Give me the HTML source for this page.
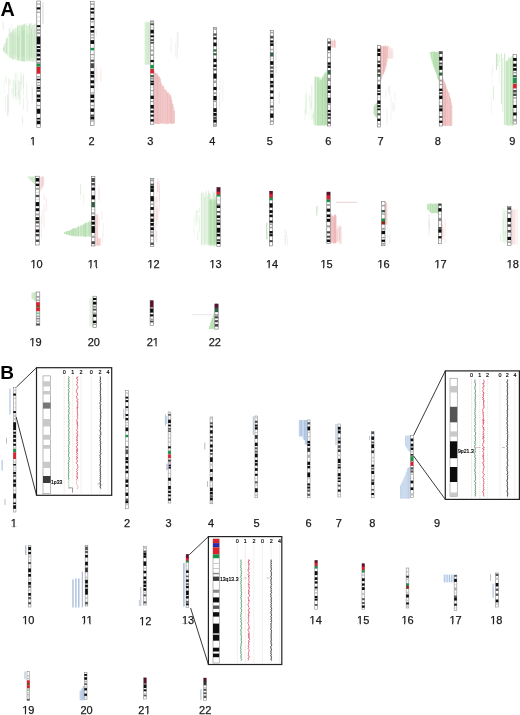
<!DOCTYPE html>
<html><head><meta charset="utf-8"><style>
html,body{margin:0;padding:0;background:#fff;width:520px;height:715px;overflow:hidden}
svg{display:block;filter:blur(0.35px)}
text{font-family:"Liberation Sans",sans-serif;fill:#1a1a1a}
.n{font-size:11px;stroke:#1a1a1a;stroke-width:0.25px}
.L{font-size:19px;font-weight:bold;fill:#000}
.s{font-size:5.4px;fill:#000;stroke:#000;stroke-width:0.15px}
.t{font-size:6.1px;fill:#000;stroke:#000;stroke-width:0.18px}
</style></head><body>
<svg width="520" height="715" viewBox="0 0 520 715">
<rect width="520" height="715" fill="#fff"/>
<line x1="3.5" x2="3.5" y1="47.36" y2="51.16" stroke="#9ed496" stroke-width="0.9" stroke-opacity="0.57"/>
<line x1="4.2" x2="4.2" y1="45.69" y2="52.02" stroke="#9ed496" stroke-width="0.9" stroke-opacity="0.41"/>
<line x1="4.9" x2="4.9" y1="43.13" y2="52.79" stroke="#9ed496" stroke-width="0.9" stroke-opacity="0.43"/>
<line x1="5.6" x2="5.6" y1="43.25" y2="54.19" stroke="#9ed496" stroke-width="0.9" stroke-opacity="0.29"/>
<line x1="6.3" x2="6.3" y1="39.43" y2="53.9" stroke="#9ed496" stroke-width="0.9" stroke-opacity="0.46"/>
<line x1="7" x2="7" y1="37.57" y2="54.42" stroke="#9ed496" stroke-width="0.9" stroke-opacity="0.58"/>
<line x1="7.7" x2="7.7" y1="37.7" y2="55.74" stroke="#9ed496" stroke-width="0.9" stroke-opacity="0.22"/>
<line x1="8.4" x2="8.4" y1="34.45" y2="56.51" stroke="#9ed496" stroke-width="0.9" stroke-opacity="0.18"/>
<line x1="9.1" x2="9.1" y1="33.92" y2="57.46" stroke="#9ed496" stroke-width="0.9" stroke-opacity="0.16"/>
<line x1="9.8" x2="9.8" y1="33.69" y2="57.69" stroke="#9ed496" stroke-width="0.9" stroke-opacity="0.53"/>
<line x1="10.5" x2="10.5" y1="32.81" y2="57.91" stroke="#9ed496" stroke-width="0.9" stroke-opacity="0.37"/>
<line x1="11.2" x2="11.2" y1="32.19" y2="58.71" stroke="#9ed496" stroke-width="0.9" stroke-opacity="0.28"/>
<line x1="11.9" x2="11.9" y1="32.14" y2="58.43" stroke="#9ed496" stroke-width="0.9" stroke-opacity="0.53"/>
<line x1="12.6" x2="12.6" y1="30.72" y2="59.64" stroke="#9ed496" stroke-width="0.9" stroke-opacity="0.25"/>
<line x1="13.3" x2="13.3" y1="29" y2="60.14" stroke="#9ed496" stroke-width="0.9" stroke-opacity="0.49"/>
<line x1="14" x2="14" y1="28.87" y2="59.11" stroke="#9ed496" stroke-width="0.9" stroke-opacity="0.32"/>
<line x1="14.7" x2="14.7" y1="30.07" y2="59.24" stroke="#9ed496" stroke-width="0.9" stroke-opacity="0.15"/>
<line x1="15.4" x2="15.4" y1="27.36" y2="59.27" stroke="#9ed496" stroke-width="0.9" stroke-opacity="0.36"/>
<line x1="16.1" x2="16.1" y1="29.21" y2="60.17" stroke="#9ed496" stroke-width="0.9" stroke-opacity="0.18"/>
<line x1="16.8" x2="16.8" y1="27.69" y2="59.73" stroke="#9ed496" stroke-width="0.9" stroke-opacity="0.27"/>
<line x1="17.5" x2="17.5" y1="25.59" y2="60.53" stroke="#9ed496" stroke-width="0.9" stroke-opacity="0.58"/>
<line x1="18.2" x2="18.2" y1="27.22" y2="60.99" stroke="#9ed496" stroke-width="0.9" stroke-opacity="0.26"/>
<line x1="18.9" x2="18.9" y1="25.05" y2="61.2" stroke="#9ed496" stroke-width="0.9" stroke-opacity="0.51"/>
<line x1="19.6" x2="19.6" y1="25.08" y2="60.59" stroke="#9ed496" stroke-width="0.9" stroke-opacity="0.35"/>
<line x1="20.3" x2="20.3" y1="24.91" y2="60.42" stroke="#9ed496" stroke-width="0.9" stroke-opacity="0.21"/>
<line x1="21" x2="21" y1="26.07" y2="61.39" stroke="#9ed496" stroke-width="0.9" stroke-opacity="0.34"/>
<line x1="21.7" x2="21.7" y1="24.58" y2="61.2" stroke="#9ed496" stroke-width="0.9" stroke-opacity="0.59"/>
<line x1="22.4" x2="22.4" y1="26.15" y2="61.19" stroke="#9ed496" stroke-width="0.9" stroke-opacity="0.55"/>
<line x1="23.1" x2="23.1" y1="24.17" y2="61.1" stroke="#9ed496" stroke-width="0.9" stroke-opacity="0.53"/>
<line x1="23.8" x2="23.8" y1="25.27" y2="61.58" stroke="#9ed496" stroke-width="0.9" stroke-opacity="0.6"/>
<line x1="24.5" x2="24.5" y1="23.78" y2="61.39" stroke="#9ed496" stroke-width="0.9" stroke-opacity="0.5"/>
<line x1="25.2" x2="25.2" y1="23.99" y2="61.37" stroke="#9ed496" stroke-width="0.9" stroke-opacity="0.18"/>
<line x1="25.9" x2="25.9" y1="23.27" y2="60.98" stroke="#9ed496" stroke-width="0.9" stroke-opacity="0.26"/>
<line x1="26.6" x2="26.6" y1="24.8" y2="61.34" stroke="#9ed496" stroke-width="0.9" stroke-opacity="0.35"/>
<line x1="27.3" x2="27.3" y1="25.88" y2="61.22" stroke="#9ed496" stroke-width="0.9" stroke-opacity="0.41"/>
<line x1="28" x2="28" y1="25.6" y2="61.71" stroke="#9ed496" stroke-width="0.9" stroke-opacity="0.22"/>
<line x1="28.7" x2="28.7" y1="25.73" y2="60.8" stroke="#9ed496" stroke-width="0.9" stroke-opacity="0.26"/>
<line x1="29.4" x2="29.4" y1="23.57" y2="60.96" stroke="#9ed496" stroke-width="0.9" stroke-opacity="0.57"/>
<line x1="30.1" x2="30.1" y1="23.59" y2="60.69" stroke="#9ed496" stroke-width="0.9" stroke-opacity="0.55"/>
<line x1="30.8" x2="30.8" y1="24.81" y2="61.52" stroke="#9ed496" stroke-width="0.9" stroke-opacity="0.2"/>
<line x1="31.5" x2="31.5" y1="23.12" y2="60.75" stroke="#9ed496" stroke-width="0.9" stroke-opacity="0.26"/>
<line x1="32.2" x2="32.2" y1="25.11" y2="61.85" stroke="#9ed496" stroke-width="0.9" stroke-opacity="0.52"/>
<line x1="32.9" x2="32.9" y1="24.79" y2="61.84" stroke="#9ed496" stroke-width="0.9" stroke-opacity="0.23"/>
<line x1="33.6" x2="33.6" y1="25.16" y2="62.22" stroke="#9ed496" stroke-width="0.9" stroke-opacity="0.25"/>
<line x1="34.3" x2="34.3" y1="24.68" y2="61.09" stroke="#9ed496" stroke-width="0.9" stroke-opacity="0.43"/>
<line x1="35" x2="35" y1="23.84" y2="61.03" stroke="#9ed496" stroke-width="0.9" stroke-opacity="0.24"/>
<line x1="35.7" x2="35.7" y1="23.05" y2="62.05" stroke="#9ed496" stroke-width="0.9" stroke-opacity="0.35"/>
<line x1="12" x2="12" y1="34.85" y2="55.03" stroke="#9ed496" stroke-width="1.0" stroke-opacity="0.28"/>
<line x1="13.3" x2="13.3" y1="32.53" y2="57.29" stroke="#9ed496" stroke-width="1.0" stroke-opacity="0.18"/>
<line x1="14.6" x2="14.6" y1="32.99" y2="55.22" stroke="#9ed496" stroke-width="1.0" stroke-opacity="0.29"/>
<line x1="15.9" x2="15.9" y1="34.63" y2="56.3" stroke="#9ed496" stroke-width="1.0" stroke-opacity="0.28"/>
<line x1="17.2" x2="17.2" y1="31.57" y2="56.98" stroke="#9ed496" stroke-width="1.0" stroke-opacity="0.11"/>
<line x1="18.5" x2="18.5" y1="35.81" y2="58.45" stroke="#9ed496" stroke-width="1.0" stroke-opacity="0.34"/>
<line x1="19.8" x2="19.8" y1="30.5" y2="56.89" stroke="#9ed496" stroke-width="1.0" stroke-opacity="0.17"/>
<line x1="21.1" x2="21.1" y1="32.29" y2="56.54" stroke="#9ed496" stroke-width="1.0" stroke-opacity="0.06"/>
<line x1="22.4" x2="22.4" y1="30.06" y2="56.4" stroke="#9ed496" stroke-width="1.0" stroke-opacity="0.23"/>
<line x1="23.7" x2="23.7" y1="30.08" y2="56.27" stroke="#9ed496" stroke-width="1.0" stroke-opacity="0.38"/>
<line x1="25" x2="25" y1="30.05" y2="58.04" stroke="#9ed496" stroke-width="1.0" stroke-opacity="0.1"/>
<line x1="26.3" x2="26.3" y1="31.09" y2="57.53" stroke="#9ed496" stroke-width="1.0" stroke-opacity="0.11"/>
<line x1="27.6" x2="27.6" y1="33.23" y2="59.32" stroke="#9ed496" stroke-width="1.0" stroke-opacity="0.11"/>
<line x1="28.9" x2="28.9" y1="33.78" y2="58.35" stroke="#9ed496" stroke-width="1.0" stroke-opacity="0.2"/>
<line x1="30.2" x2="30.2" y1="32.3" y2="58.21" stroke="#9ed496" stroke-width="1.0" stroke-opacity="0.18"/>
<line x1="31.5" x2="31.5" y1="28.75" y2="57.54" stroke="#9ed496" stroke-width="1.0" stroke-opacity="0.39"/>
<line x1="32.8" x2="32.8" y1="34.26" y2="57.81" stroke="#9ed496" stroke-width="1.0" stroke-opacity="0.17"/>
<line x1="34.1" x2="34.1" y1="30.42" y2="57.81" stroke="#9ed496" stroke-width="1.0" stroke-opacity="0.29"/>
<line x1="35.4" x2="35.4" y1="28.76" y2="59.26" stroke="#9ed496" stroke-width="1.0" stroke-opacity="0.18"/>
<line x1="21.12" x2="21.12" y1="76.22" y2="90.23" stroke="#cfe9cb" stroke-width="0.6" stroke-opacity="0.8"/>
<line x1="15.59" x2="15.59" y1="82.24" y2="96.24" stroke="#cfe9cb" stroke-width="0.6" stroke-opacity="0.8"/>
<line x1="15.28" x2="15.28" y1="73.05" y2="87.05" stroke="#cfe9cb" stroke-width="0.6" stroke-opacity="0.8"/>
<line x1="23.54" x2="23.54" y1="73.96" y2="87.96" stroke="#cfe9cb" stroke-width="0.6" stroke-opacity="0.8"/>
<line x1="23.34" x2="23.34" y1="75.47" y2="95.15" stroke="#cfe9cb" stroke-width="0.6" stroke-opacity="0.8"/>
<line x1="18.91" x2="18.91" y1="89.57" y2="100" stroke="#cfe9cb" stroke-width="0.6" stroke-opacity="0.8"/>
<line x1="26.7" x2="26.7" y1="83.11" y2="99.34" stroke="#cfe9cb" stroke-width="0.6" stroke-opacity="0.8"/>
<line x1="15.02" x2="15.02" y1="80.11" y2="96.04" stroke="#cfe9cb" stroke-width="0.6" stroke-opacity="0.8"/>
<line x1="3.73" x2="3.73" y1="22.94" y2="30.44" stroke="#dddddd" stroke-width="0.5" stroke-opacity="0.7"/>
<line x1="11.79" x2="11.79" y1="24.52" y2="34.54" stroke="#dddddd" stroke-width="0.5" stroke-opacity="0.7"/>
<line x1="9.67" x2="9.67" y1="29.31" y2="36.81" stroke="#dddddd" stroke-width="0.5" stroke-opacity="0.7"/>
<line x1="2.75" x2="2.75" y1="21.49" y2="28.99" stroke="#dddddd" stroke-width="0.5" stroke-opacity="0.7"/>
<line x1="10.16" x2="10.16" y1="27.85" y2="35.35" stroke="#dddddd" stroke-width="0.5" stroke-opacity="0.7"/>
<line x1="9.03" x2="9.03" y1="27.49" y2="34.99" stroke="#dddddd" stroke-width="0.5" stroke-opacity="0.7"/>
<line x1="145.2" x2="145.2" y1="22.02" y2="64.31" stroke="#9ed496" stroke-width="0.9" stroke-opacity="0.49"/>
<line x1="146" x2="146" y1="23.2" y2="64.81" stroke="#9ed496" stroke-width="0.9" stroke-opacity="0.33"/>
<line x1="146.8" x2="146.8" y1="21.79" y2="64.77" stroke="#9ed496" stroke-width="0.9" stroke-opacity="0.51"/>
<line x1="147.6" x2="147.6" y1="21.76" y2="64.47" stroke="#9ed496" stroke-width="0.9" stroke-opacity="0.32"/>
<line x1="148.4" x2="148.4" y1="22.09" y2="64.57" stroke="#9ed496" stroke-width="0.9" stroke-opacity="0.54"/>
<line x1="149.2" x2="149.2" y1="22.72" y2="64.99" stroke="#9ed496" stroke-width="0.9" stroke-opacity="0.35"/>
<line x1="150" x2="150" y1="21.79" y2="64.13" stroke="#9ed496" stroke-width="0.9" stroke-opacity="0.53"/>
<line x1="154.1" x2="154.1" y1="70.46" y2="123.5" stroke="#eba9a9" stroke-width="0.9" stroke-opacity="0.81"/>
<line x1="154.8" x2="154.8" y1="72.7" y2="123.93" stroke="#eba9a9" stroke-width="0.9" stroke-opacity="0.65"/>
<line x1="155.5" x2="155.5" y1="72.87" y2="123.54" stroke="#eba9a9" stroke-width="0.9" stroke-opacity="0.67"/>
<line x1="156.2" x2="156.2" y1="73.6" y2="123.8" stroke="#eba9a9" stroke-width="0.9" stroke-opacity="0.86"/>
<line x1="156.9" x2="156.9" y1="73.3" y2="123.98" stroke="#eba9a9" stroke-width="0.9" stroke-opacity="0.91"/>
<line x1="157.6" x2="157.6" y1="74.62" y2="123.94" stroke="#eba9a9" stroke-width="0.9" stroke-opacity="0.87"/>
<line x1="158.3" x2="158.3" y1="76" y2="124.05" stroke="#eba9a9" stroke-width="0.9" stroke-opacity="0.77"/>
<line x1="159" x2="159" y1="76.89" y2="124.04" stroke="#eba9a9" stroke-width="0.9" stroke-opacity="0.81"/>
<line x1="159.7" x2="159.7" y1="76.65" y2="123.86" stroke="#eba9a9" stroke-width="0.9" stroke-opacity="0.58"/>
<line x1="160.4" x2="160.4" y1="78.84" y2="123.22" stroke="#eba9a9" stroke-width="0.9" stroke-opacity="0.71"/>
<line x1="161.1" x2="161.1" y1="82.44" y2="123.76" stroke="#eba9a9" stroke-width="0.9" stroke-opacity="0.79"/>
<line x1="161.8" x2="161.8" y1="84.23" y2="123.51" stroke="#eba9a9" stroke-width="0.9" stroke-opacity="0.59"/>
<line x1="162.5" x2="162.5" y1="85.69" y2="123.57" stroke="#eba9a9" stroke-width="0.9" stroke-opacity="0.62"/>
<line x1="163.2" x2="163.2" y1="85.78" y2="123.33" stroke="#eba9a9" stroke-width="0.9" stroke-opacity="0.76"/>
<line x1="163.9" x2="163.9" y1="86.9" y2="123.75" stroke="#eba9a9" stroke-width="0.9" stroke-opacity="0.64"/>
<line x1="164.6" x2="164.6" y1="89.02" y2="123.7" stroke="#eba9a9" stroke-width="0.9" stroke-opacity="0.59"/>
<line x1="165.3" x2="165.3" y1="89.98" y2="124.11" stroke="#eba9a9" stroke-width="0.9" stroke-opacity="0.66"/>
<line x1="166" x2="166" y1="89.32" y2="123.46" stroke="#eba9a9" stroke-width="0.9" stroke-opacity="0.6"/>
<line x1="166.7" x2="166.7" y1="91.24" y2="124.11" stroke="#eba9a9" stroke-width="0.9" stroke-opacity="0.74"/>
<line x1="167.4" x2="167.4" y1="92.48" y2="123.67" stroke="#eba9a9" stroke-width="0.9" stroke-opacity="0.73"/>
<line x1="168.1" x2="168.1" y1="92.87" y2="123.76" stroke="#eba9a9" stroke-width="0.9" stroke-opacity="0.79"/>
<line x1="168.8" x2="168.8" y1="92.79" y2="123.73" stroke="#eba9a9" stroke-width="0.9" stroke-opacity="0.64"/>
<line x1="169.5" x2="169.5" y1="95.03" y2="123.26" stroke="#eba9a9" stroke-width="0.9" stroke-opacity="0.58"/>
<line x1="170.2" x2="170.2" y1="94.29" y2="123.5" stroke="#eba9a9" stroke-width="0.9" stroke-opacity="0.78"/>
<line x1="170.9" x2="170.9" y1="96.52" y2="123.5" stroke="#eba9a9" stroke-width="0.9" stroke-opacity="0.93"/>
<line x1="171.6" x2="171.6" y1="99.81" y2="123.85" stroke="#eba9a9" stroke-width="0.9" stroke-opacity="0.78"/>
<line x1="172.3" x2="172.3" y1="103.32" y2="123.94" stroke="#eba9a9" stroke-width="0.9" stroke-opacity="0.67"/>
<line x1="173" x2="173" y1="104.3" y2="123.57" stroke="#eba9a9" stroke-width="0.9" stroke-opacity="0.74"/>
<line x1="173.7" x2="173.7" y1="107.17" y2="123.81" stroke="#eba9a9" stroke-width="0.9" stroke-opacity="0.56"/>
<line x1="174.4" x2="174.4" y1="110.62" y2="123.22" stroke="#eba9a9" stroke-width="0.9" stroke-opacity="0.78"/>
<line x1="177.94" x2="177.94" y1="31.28" y2="48.56" stroke="#dddddd" stroke-width="0.5" stroke-opacity="0.8"/>
<line x1="175.74" x2="175.74" y1="41.96" y2="57.16" stroke="#dddddd" stroke-width="0.5" stroke-opacity="0.8"/>
<line x1="177.29" x2="177.29" y1="32.94" y2="59.25" stroke="#dddddd" stroke-width="0.5" stroke-opacity="0.8"/>
<line x1="171.18" x2="171.18" y1="37.89" y2="53.09" stroke="#dddddd" stroke-width="0.5" stroke-opacity="0.8"/>
<line x1="331" x2="331" y1="40.83" y2="47.99" stroke="#eba9a9" stroke-width="0.9" stroke-opacity="0.59"/>
<line x1="331.7" x2="331.7" y1="39.22" y2="47.01" stroke="#eba9a9" stroke-width="0.9" stroke-opacity="0.31"/>
<line x1="332.4" x2="332.4" y1="40.66" y2="47.32" stroke="#eba9a9" stroke-width="0.9" stroke-opacity="0.64"/>
<line x1="333.1" x2="333.1" y1="40.9" y2="47.76" stroke="#eba9a9" stroke-width="0.9" stroke-opacity="0.44"/>
<line x1="333.8" x2="333.8" y1="40.32" y2="47.72" stroke="#eba9a9" stroke-width="0.9" stroke-opacity="0.41"/>
<line x1="334.5" x2="334.5" y1="39.36" y2="47.14" stroke="#eba9a9" stroke-width="0.9" stroke-opacity="0.65"/>
<line x1="335.2" x2="335.2" y1="40.5" y2="47.78" stroke="#eba9a9" stroke-width="0.9" stroke-opacity="0.67"/>
<line x1="314.8" x2="314.8" y1="76.9" y2="125.4" stroke="#9ed496" stroke-width="0.9" stroke-opacity="0.51"/>
<line x1="315.5" x2="315.5" y1="76.93" y2="125.49" stroke="#9ed496" stroke-width="0.9" stroke-opacity="0.63"/>
<line x1="316.2" x2="316.2" y1="76.27" y2="125.21" stroke="#9ed496" stroke-width="0.9" stroke-opacity="0.31"/>
<line x1="316.9" x2="316.9" y1="76.19" y2="125.58" stroke="#9ed496" stroke-width="0.9" stroke-opacity="0.37"/>
<line x1="317.6" x2="317.6" y1="77.1" y2="125.61" stroke="#9ed496" stroke-width="0.9" stroke-opacity="0.69"/>
<line x1="318.3" x2="318.3" y1="77.44" y2="125.68" stroke="#9ed496" stroke-width="0.9" stroke-opacity="0.75"/>
<line x1="319" x2="319" y1="77.62" y2="125.17" stroke="#9ed496" stroke-width="0.9" stroke-opacity="0.31"/>
<line x1="319.7" x2="319.7" y1="77.58" y2="125.22" stroke="#9ed496" stroke-width="0.9" stroke-opacity="0.45"/>
<line x1="320.4" x2="320.4" y1="77.84" y2="125.61" stroke="#9ed496" stroke-width="0.9" stroke-opacity="0.43"/>
<line x1="321.1" x2="321.1" y1="79.84" y2="125.57" stroke="#9ed496" stroke-width="0.9" stroke-opacity="0.51"/>
<line x1="321.8" x2="321.8" y1="78.54" y2="124.81" stroke="#9ed496" stroke-width="0.9" stroke-opacity="0.45"/>
<line x1="322.5" x2="322.5" y1="76.11" y2="124.78" stroke="#9ed496" stroke-width="0.9" stroke-opacity="0.72"/>
<line x1="323.2" x2="323.2" y1="77.04" y2="125.35" stroke="#9ed496" stroke-width="0.9" stroke-opacity="0.42"/>
<line x1="323.9" x2="323.9" y1="74.52" y2="125.62" stroke="#9ed496" stroke-width="0.9" stroke-opacity="0.53"/>
<line x1="324.6" x2="324.6" y1="73.19" y2="125.13" stroke="#9ed496" stroke-width="0.9" stroke-opacity="0.66"/>
<line x1="325.3" x2="325.3" y1="71.93" y2="124.95" stroke="#9ed496" stroke-width="0.9" stroke-opacity="0.55"/>
<line x1="326" x2="326" y1="73.06" y2="125.41" stroke="#9ed496" stroke-width="0.9" stroke-opacity="0.7"/>
<line x1="326.7" x2="326.7" y1="70.77" y2="125.23" stroke="#9ed496" stroke-width="0.9" stroke-opacity="0.55"/>
<line x1="327.4" x2="327.4" y1="68.56" y2="125.82" stroke="#9ed496" stroke-width="0.9" stroke-opacity="0.42"/>
<line x1="319" x2="319" y1="82.45" y2="125.93" stroke="#9ed496" stroke-width="0.9" stroke-opacity="0.42"/>
<line x1="320" x2="320" y1="80.26" y2="124.82" stroke="#9ed496" stroke-width="0.9" stroke-opacity="0.32"/>
<line x1="321" x2="321" y1="80.39" y2="125.8" stroke="#9ed496" stroke-width="0.9" stroke-opacity="0.5"/>
<line x1="322" x2="322" y1="78.18" y2="125.77" stroke="#9ed496" stroke-width="0.9" stroke-opacity="0.3"/>
<line x1="323" x2="323" y1="77.77" y2="125.96" stroke="#9ed496" stroke-width="0.9" stroke-opacity="0.32"/>
<line x1="324" x2="324" y1="75.27" y2="125.91" stroke="#9ed496" stroke-width="0.9" stroke-opacity="0.25"/>
<line x1="325" x2="325" y1="74.86" y2="125.66" stroke="#9ed496" stroke-width="0.9" stroke-opacity="0.43"/>
<line x1="326" x2="326" y1="74.37" y2="124.93" stroke="#9ed496" stroke-width="0.9" stroke-opacity="0.47"/>
<line x1="327" x2="327" y1="74.62" y2="124.82" stroke="#9ed496" stroke-width="0.9" stroke-opacity="0.37"/>
<line x1="310.06" x2="310.06" y1="96.18" y2="109.67" stroke="#cfe9cb" stroke-width="0.6" stroke-opacity="0.8"/>
<line x1="313.68" x2="313.68" y1="112.19" y2="124.19" stroke="#cfe9cb" stroke-width="0.6" stroke-opacity="0.8"/>
<line x1="315.13" x2="315.13" y1="104.41" y2="116.41" stroke="#cfe9cb" stroke-width="0.6" stroke-opacity="0.8"/>
<line x1="313.16" x2="313.16" y1="108.69" y2="120.69" stroke="#cfe9cb" stroke-width="0.6" stroke-opacity="0.8"/>
<line x1="314.88" x2="314.88" y1="109.22" y2="123.34" stroke="#cfe9cb" stroke-width="0.6" stroke-opacity="0.8"/>
<line x1="380.7" x2="380.7" y1="46.12" y2="81.6" stroke="#eba9a9" stroke-width="0.9" stroke-opacity="0.93"/>
<line x1="381.4" x2="381.4" y1="45.89" y2="78.92" stroke="#eba9a9" stroke-width="0.9" stroke-opacity="0.83"/>
<line x1="382.1" x2="382.1" y1="46.26" y2="76.74" stroke="#eba9a9" stroke-width="0.9" stroke-opacity="0.56"/>
<line x1="382.8" x2="382.8" y1="45.98" y2="75.03" stroke="#eba9a9" stroke-width="0.9" stroke-opacity="0.65"/>
<line x1="383.5" x2="383.5" y1="46.1" y2="73.84" stroke="#eba9a9" stroke-width="0.9" stroke-opacity="0.89"/>
<line x1="384.2" x2="384.2" y1="46.55" y2="72.4" stroke="#eba9a9" stroke-width="0.9" stroke-opacity="0.95"/>
<line x1="384.9" x2="384.9" y1="45.66" y2="70.19" stroke="#eba9a9" stroke-width="0.9" stroke-opacity="0.9"/>
<line x1="385.6" x2="385.6" y1="45.75" y2="67.8" stroke="#eba9a9" stroke-width="0.9" stroke-opacity="0.77"/>
<line x1="386.3" x2="386.3" y1="46.56" y2="65.59" stroke="#eba9a9" stroke-width="0.9" stroke-opacity="0.77"/>
<line x1="387" x2="387" y1="46.48" y2="62.01" stroke="#eba9a9" stroke-width="0.9" stroke-opacity="0.67"/>
<line x1="387.7" x2="387.7" y1="45.68" y2="58.13" stroke="#eba9a9" stroke-width="0.9" stroke-opacity="0.74"/>
<line x1="373.8" x2="373.8" y1="106.24" y2="113.75" stroke="#9ed496" stroke-width="0.9" stroke-opacity="0.46"/>
<line x1="374.5" x2="374.5" y1="105.59" y2="115.12" stroke="#9ed496" stroke-width="0.9" stroke-opacity="0.62"/>
<line x1="375.2" x2="375.2" y1="104.46" y2="116.27" stroke="#9ed496" stroke-width="0.9" stroke-opacity="0.79"/>
<line x1="375.9" x2="375.9" y1="103.5" y2="116.96" stroke="#9ed496" stroke-width="0.9" stroke-opacity="0.65"/>
<line x1="376.6" x2="376.6" y1="102.94" y2="117.47" stroke="#9ed496" stroke-width="0.9" stroke-opacity="0.8"/>
<line x1="388" x2="388" y1="46.33" y2="58.68" stroke="#eba9a9" stroke-width="0.9" stroke-opacity="0.28"/>
<line x1="388.8" x2="388.8" y1="46.39" y2="59.02" stroke="#eba9a9" stroke-width="0.9" stroke-opacity="0.32"/>
<line x1="389.6" x2="389.6" y1="47.52" y2="59.08" stroke="#eba9a9" stroke-width="0.9" stroke-opacity="0.27"/>
<line x1="390.4" x2="390.4" y1="46.62" y2="58.62" stroke="#eba9a9" stroke-width="0.9" stroke-opacity="0.28"/>
<line x1="391.2" x2="391.2" y1="48.3" y2="58.43" stroke="#eba9a9" stroke-width="0.9" stroke-opacity="0.42"/>
<line x1="392" x2="392" y1="49.38" y2="59.53" stroke="#eba9a9" stroke-width="0.9" stroke-opacity="0.26"/>
<line x1="392.8" x2="392.8" y1="48.54" y2="58.85" stroke="#eba9a9" stroke-width="0.9" stroke-opacity="0.25"/>
<line x1="430.1" x2="430.1" y1="51.92" y2="54.09" stroke="#9ed496" stroke-width="0.9" stroke-opacity="0.66"/>
<line x1="430.8" x2="430.8" y1="52.4" y2="57.04" stroke="#9ed496" stroke-width="0.9" stroke-opacity="0.56"/>
<line x1="431.5" x2="431.5" y1="51.66" y2="59.67" stroke="#9ed496" stroke-width="0.9" stroke-opacity="0.63"/>
<line x1="432.2" x2="432.2" y1="51.67" y2="62.27" stroke="#9ed496" stroke-width="0.9" stroke-opacity="0.63"/>
<line x1="432.9" x2="432.9" y1="51.71" y2="64.56" stroke="#9ed496" stroke-width="0.9" stroke-opacity="0.58"/>
<line x1="433.6" x2="433.6" y1="51.47" y2="66.66" stroke="#9ed496" stroke-width="0.9" stroke-opacity="0.72"/>
<line x1="434.3" x2="434.3" y1="51.79" y2="68.21" stroke="#9ed496" stroke-width="0.9" stroke-opacity="0.82"/>
<line x1="435" x2="435" y1="51.81" y2="70.35" stroke="#9ed496" stroke-width="0.9" stroke-opacity="0.79"/>
<line x1="435.7" x2="435.7" y1="52.16" y2="72.02" stroke="#9ed496" stroke-width="0.9" stroke-opacity="0.76"/>
<line x1="436.4" x2="436.4" y1="51.7" y2="73.94" stroke="#9ed496" stroke-width="0.9" stroke-opacity="0.83"/>
<line x1="437.1" x2="437.1" y1="52.19" y2="76.37" stroke="#9ed496" stroke-width="0.9" stroke-opacity="0.59"/>
<line x1="437.8" x2="437.8" y1="51.95" y2="78.93" stroke="#9ed496" stroke-width="0.9" stroke-opacity="0.82"/>
<line x1="438.5" x2="438.5" y1="51.79" y2="79.93" stroke="#9ed496" stroke-width="0.9" stroke-opacity="0.75"/>
<line x1="442.7" x2="442.7" y1="77.71" y2="125.66" stroke="#eba9a9" stroke-width="0.9" stroke-opacity="0.86"/>
<line x1="443.4" x2="443.4" y1="79.43" y2="125.87" stroke="#eba9a9" stroke-width="0.9" stroke-opacity="0.8"/>
<line x1="444.1" x2="444.1" y1="81.2" y2="125.56" stroke="#eba9a9" stroke-width="0.9" stroke-opacity="0.78"/>
<line x1="444.8" x2="444.8" y1="82.57" y2="125.79" stroke="#eba9a9" stroke-width="0.9" stroke-opacity="0.95"/>
<line x1="445.5" x2="445.5" y1="84.6" y2="125.84" stroke="#eba9a9" stroke-width="0.9" stroke-opacity="0.93"/>
<line x1="446.2" x2="446.2" y1="86.92" y2="125.9" stroke="#eba9a9" stroke-width="0.9" stroke-opacity="0.68"/>
<line x1="446.9" x2="446.9" y1="89.01" y2="125.83" stroke="#eba9a9" stroke-width="0.9" stroke-opacity="0.72"/>
<line x1="447.6" x2="447.6" y1="90.36" y2="125.6" stroke="#eba9a9" stroke-width="0.9" stroke-opacity="0.75"/>
<line x1="448.3" x2="448.3" y1="91.45" y2="125.71" stroke="#eba9a9" stroke-width="0.9" stroke-opacity="0.56"/>
<line x1="449" x2="449" y1="93.09" y2="125.9" stroke="#eba9a9" stroke-width="0.9" stroke-opacity="0.83"/>
<line x1="449.7" x2="449.7" y1="95.73" y2="125.65" stroke="#eba9a9" stroke-width="0.9" stroke-opacity="0.62"/>
<line x1="450.4" x2="450.4" y1="98.02" y2="125.99" stroke="#eba9a9" stroke-width="0.9" stroke-opacity="0.83"/>
<line x1="451.1" x2="451.1" y1="101.46" y2="125.89" stroke="#eba9a9" stroke-width="0.9" stroke-opacity="0.65"/>
<line x1="451.8" x2="451.8" y1="104.81" y2="125.68" stroke="#eba9a9" stroke-width="0.9" stroke-opacity="0.67"/>
<line x1="506" x2="506" y1="60.66" y2="124.62" stroke="#9ed496" stroke-width="0.9" stroke-opacity="0.57"/>
<line x1="506.75" x2="506.75" y1="60.92" y2="125.57" stroke="#9ed496" stroke-width="0.9" stroke-opacity="0.63"/>
<line x1="507.5" x2="507.5" y1="61.23" y2="124.98" stroke="#9ed496" stroke-width="0.9" stroke-opacity="0.53"/>
<line x1="508.25" x2="508.25" y1="57.94" y2="125.99" stroke="#9ed496" stroke-width="0.9" stroke-opacity="0.48"/>
<line x1="509" x2="509" y1="58.34" y2="125.86" stroke="#9ed496" stroke-width="0.9" stroke-opacity="0.63"/>
<line x1="509.75" x2="509.75" y1="56.54" y2="125.53" stroke="#9ed496" stroke-width="0.9" stroke-opacity="0.36"/>
<line x1="510.5" x2="510.5" y1="59.22" y2="124.52" stroke="#9ed496" stroke-width="0.9" stroke-opacity="0.66"/>
<line x1="511.25" x2="511.25" y1="57.31" y2="125.93" stroke="#9ed496" stroke-width="0.9" stroke-opacity="0.47"/>
<line x1="512" x2="512" y1="56.45" y2="125.77" stroke="#9ed496" stroke-width="0.9" stroke-opacity="0.68"/>
<line x1="512.75" x2="512.75" y1="55.55" y2="125.69" stroke="#9ed496" stroke-width="0.9" stroke-opacity="0.64"/>
<line x1="496.5" x2="496.5" y1="53.5" y2="70" stroke="#9ed496" stroke-width="1.1" stroke-opacity="0.55"/>
<line x1="497.8" x2="497.8" y1="53.5" y2="66" stroke="#9ed496" stroke-width="1.1" stroke-opacity="0.45"/>
<line x1="501.4" x2="501.4" y1="53.5" y2="104" stroke="#9ed496" stroke-width="1.1" stroke-opacity="0.45"/>
<line x1="502.8" x2="502.8" y1="58" y2="112" stroke="#9ed496" stroke-width="1.1" stroke-opacity="0.35"/>
<line x1="504.6" x2="504.6" y1="53.5" y2="125" stroke="#9ed496" stroke-width="1.1" stroke-opacity="0.5"/>
<line x1="493.4" x2="493.4" y1="86.5" y2="99.8" stroke="#9ed496" stroke-width="1.1" stroke-opacity="0.35"/>
<line x1="499.5" x2="499.5" y1="55" y2="62" stroke="#9ed496" stroke-width="1.1" stroke-opacity="0.3"/>
<line x1="27.6" x2="27.6" y1="176.65" y2="177.27" stroke="#9ed496" stroke-width="0.9" stroke-opacity="0.51"/>
<line x1="28.3" x2="28.3" y1="176.41" y2="177.95" stroke="#9ed496" stroke-width="0.9" stroke-opacity="0.35"/>
<line x1="29" x2="29" y1="176.3" y2="178.76" stroke="#9ed496" stroke-width="0.9" stroke-opacity="0.38"/>
<line x1="29.7" x2="29.7" y1="176.43" y2="179.66" stroke="#9ed496" stroke-width="0.9" stroke-opacity="0.33"/>
<line x1="30.4" x2="30.4" y1="176.56" y2="180.26" stroke="#9ed496" stroke-width="0.9" stroke-opacity="0.48"/>
<line x1="31.1" x2="31.1" y1="176.57" y2="180.91" stroke="#9ed496" stroke-width="0.9" stroke-opacity="0.32"/>
<line x1="31.8" x2="31.8" y1="176.59" y2="181.49" stroke="#9ed496" stroke-width="0.9" stroke-opacity="0.53"/>
<line x1="32.5" x2="32.5" y1="176.51" y2="182.03" stroke="#9ed496" stroke-width="0.9" stroke-opacity="0.43"/>
<line x1="33.2" x2="33.2" y1="176.58" y2="182.82" stroke="#9ed496" stroke-width="0.9" stroke-opacity="0.5"/>
<line x1="33.9" x2="33.9" y1="176.53" y2="183.47" stroke="#9ed496" stroke-width="0.9" stroke-opacity="0.33"/>
<line x1="34.6" x2="34.6" y1="176.44" y2="184" stroke="#9ed496" stroke-width="0.9" stroke-opacity="0.51"/>
<line x1="35.3" x2="35.3" y1="176.42" y2="184.66" stroke="#9ed496" stroke-width="0.9" stroke-opacity="0.36"/>
<line x1="39.5" x2="39.5" y1="176.91" y2="191.58" stroke="#eba9a9" stroke-width="0.9" stroke-opacity="0.25"/>
<line x1="40.2" x2="40.2" y1="177.2" y2="191.55" stroke="#eba9a9" stroke-width="0.9" stroke-opacity="0.4"/>
<line x1="40.9" x2="40.9" y1="176.29" y2="190.05" stroke="#eba9a9" stroke-width="0.9" stroke-opacity="0.25"/>
<line x1="41.6" x2="41.6" y1="176.91" y2="188.84" stroke="#eba9a9" stroke-width="0.9" stroke-opacity="0.43"/>
<line x1="42.3" x2="42.3" y1="176.64" y2="187.54" stroke="#eba9a9" stroke-width="0.9" stroke-opacity="0.5"/>
<line x1="43" x2="43" y1="176.32" y2="186.49" stroke="#eba9a9" stroke-width="0.9" stroke-opacity="0.49"/>
<line x1="43.7" x2="43.7" y1="176.94" y2="185.3" stroke="#eba9a9" stroke-width="0.9" stroke-opacity="0.29"/>
<line x1="64.5" x2="64.5" y1="232.57" y2="233.8" stroke="#9ed496" stroke-width="0.9" stroke-opacity="0.77"/>
<line x1="65.2" x2="65.2" y1="231.99" y2="233.98" stroke="#9ed496" stroke-width="0.9" stroke-opacity="0.67"/>
<line x1="65.9" x2="65.9" y1="231.4" y2="234.05" stroke="#9ed496" stroke-width="0.9" stroke-opacity="0.48"/>
<line x1="66.6" x2="66.6" y1="231.46" y2="234.58" stroke="#9ed496" stroke-width="0.9" stroke-opacity="0.64"/>
<line x1="67.3" x2="67.3" y1="230.85" y2="234.52" stroke="#9ed496" stroke-width="0.9" stroke-opacity="0.77"/>
<line x1="68" x2="68" y1="231.1" y2="234.57" stroke="#9ed496" stroke-width="0.9" stroke-opacity="0.66"/>
<line x1="68.7" x2="68.7" y1="231.24" y2="235.16" stroke="#9ed496" stroke-width="0.9" stroke-opacity="0.53"/>
<line x1="69.4" x2="69.4" y1="230.43" y2="235.36" stroke="#9ed496" stroke-width="0.9" stroke-opacity="0.84"/>
<line x1="70.1" x2="70.1" y1="230.4" y2="235.49" stroke="#9ed496" stroke-width="0.9" stroke-opacity="0.64"/>
<line x1="70.8" x2="70.8" y1="229.79" y2="235.56" stroke="#9ed496" stroke-width="0.9" stroke-opacity="0.43"/>
<line x1="71.5" x2="71.5" y1="229.58" y2="235.78" stroke="#9ed496" stroke-width="0.9" stroke-opacity="0.63"/>
<line x1="72.2" x2="72.2" y1="229.39" y2="235.87" stroke="#9ed496" stroke-width="0.9" stroke-opacity="0.79"/>
<line x1="72.9" x2="72.9" y1="228.4" y2="235.97" stroke="#9ed496" stroke-width="0.9" stroke-opacity="0.76"/>
<line x1="73.6" x2="73.6" y1="228.39" y2="235.92" stroke="#9ed496" stroke-width="0.9" stroke-opacity="0.63"/>
<line x1="74.3" x2="74.3" y1="228.44" y2="236" stroke="#9ed496" stroke-width="0.9" stroke-opacity="0.6"/>
<line x1="75" x2="75" y1="228.23" y2="236.46" stroke="#9ed496" stroke-width="0.9" stroke-opacity="0.76"/>
<line x1="75.7" x2="75.7" y1="227.66" y2="236.49" stroke="#9ed496" stroke-width="0.9" stroke-opacity="0.55"/>
<line x1="76.4" x2="76.4" y1="228.18" y2="236.07" stroke="#9ed496" stroke-width="0.9" stroke-opacity="0.58"/>
<line x1="77.1" x2="77.1" y1="227.4" y2="236.4" stroke="#9ed496" stroke-width="0.9" stroke-opacity="0.66"/>
<line x1="77.8" x2="77.8" y1="226.88" y2="236.54" stroke="#9ed496" stroke-width="0.9" stroke-opacity="0.42"/>
<line x1="78.5" x2="78.5" y1="226.15" y2="236.09" stroke="#9ed496" stroke-width="0.9" stroke-opacity="0.79"/>
<line x1="79.2" x2="79.2" y1="226.79" y2="236.46" stroke="#9ed496" stroke-width="0.9" stroke-opacity="0.42"/>
<line x1="79.9" x2="79.9" y1="226.74" y2="236.37" stroke="#9ed496" stroke-width="0.9" stroke-opacity="0.43"/>
<line x1="80.6" x2="80.6" y1="225.83" y2="236.21" stroke="#9ed496" stroke-width="0.9" stroke-opacity="0.62"/>
<line x1="81.3" x2="81.3" y1="225.3" y2="236.47" stroke="#9ed496" stroke-width="0.9" stroke-opacity="0.6"/>
<line x1="82" x2="82" y1="224.96" y2="236.2" stroke="#9ed496" stroke-width="0.9" stroke-opacity="0.57"/>
<line x1="82.7" x2="82.7" y1="224.46" y2="236" stroke="#9ed496" stroke-width="0.9" stroke-opacity="0.41"/>
<line x1="83.4" x2="83.4" y1="224.72" y2="236.44" stroke="#9ed496" stroke-width="0.9" stroke-opacity="0.75"/>
<line x1="84.1" x2="84.1" y1="224.3" y2="236.35" stroke="#9ed496" stroke-width="0.9" stroke-opacity="0.66"/>
<line x1="84.8" x2="84.8" y1="223.24" y2="236.79" stroke="#9ed496" stroke-width="0.9" stroke-opacity="0.72"/>
<line x1="85.5" x2="85.5" y1="222.94" y2="236.74" stroke="#9ed496" stroke-width="0.9" stroke-opacity="0.76"/>
<line x1="86.2" x2="86.2" y1="223.12" y2="236.82" stroke="#9ed496" stroke-width="0.9" stroke-opacity="0.61"/>
<line x1="86.9" x2="86.9" y1="222.26" y2="236.22" stroke="#9ed496" stroke-width="0.9" stroke-opacity="0.49"/>
<line x1="87.6" x2="87.6" y1="223.2" y2="236.43" stroke="#9ed496" stroke-width="0.9" stroke-opacity="0.39"/>
<line x1="88.3" x2="88.3" y1="222.18" y2="236.18" stroke="#9ed496" stroke-width="0.9" stroke-opacity="0.7"/>
<line x1="89" x2="89" y1="221.57" y2="236.65" stroke="#9ed496" stroke-width="0.9" stroke-opacity="0.49"/>
<line x1="89.7" x2="89.7" y1="221.25" y2="236.51" stroke="#9ed496" stroke-width="0.9" stroke-opacity="0.7"/>
<line x1="90.4" x2="90.4" y1="221.21" y2="236.56" stroke="#9ed496" stroke-width="0.9" stroke-opacity="0.78"/>
<line x1="91.1" x2="91.1" y1="222" y2="236.87" stroke="#9ed496" stroke-width="0.9" stroke-opacity="0.39"/>
<line x1="95.2" x2="95.2" y1="214.74" y2="245.7" stroke="#eba9a9" stroke-width="0.9" stroke-opacity="0.28"/>
<line x1="96" x2="96" y1="214.3" y2="245.91" stroke="#eba9a9" stroke-width="0.9" stroke-opacity="0.51"/>
<line x1="96.8" x2="96.8" y1="214.79" y2="245.94" stroke="#eba9a9" stroke-width="0.9" stroke-opacity="0.47"/>
<line x1="97.6" x2="97.6" y1="214.01" y2="245.05" stroke="#eba9a9" stroke-width="0.9" stroke-opacity="0.58"/>
<line x1="98" x2="98" y1="238.65" y2="245.65" stroke="#eba9a9" stroke-width="0.9" stroke-opacity="0.58"/>
<line x1="98.8" x2="98.8" y1="238.2" y2="245.97" stroke="#eba9a9" stroke-width="0.9" stroke-opacity="0.53"/>
<line x1="99.6" x2="99.6" y1="238.33" y2="245.81" stroke="#eba9a9" stroke-width="0.9" stroke-opacity="0.53"/>
<line x1="100.4" x2="100.4" y1="238.18" y2="245.55" stroke="#eba9a9" stroke-width="0.9" stroke-opacity="0.4"/>
<line x1="154.2" x2="154.2" y1="196.68" y2="220.61" stroke="#eba9a9" stroke-width="0.8" stroke-opacity="0.31"/>
<line x1="155.1" x2="155.1" y1="197.07" y2="220.6" stroke="#eba9a9" stroke-width="0.8" stroke-opacity="0.26"/>
<line x1="156" x2="156" y1="198.51" y2="220.36" stroke="#eba9a9" stroke-width="0.8" stroke-opacity="0.24"/>
<line x1="156.9" x2="156.9" y1="201.05" y2="220.61" stroke="#eba9a9" stroke-width="0.8" stroke-opacity="0.17"/>
<line x1="157.8" x2="157.8" y1="196.17" y2="220.28" stroke="#eba9a9" stroke-width="0.8" stroke-opacity="0.13"/>
<line x1="201.4" x2="201.4" y1="193.38" y2="245.12" stroke="#9ed496" stroke-width="0.9" stroke-opacity="0.45"/>
<line x1="202.2" x2="202.2" y1="191.31" y2="244.46" stroke="#9ed496" stroke-width="0.9" stroke-opacity="0.27"/>
<line x1="203" x2="203" y1="192.32" y2="242.6" stroke="#9ed496" stroke-width="0.9" stroke-opacity="0.19"/>
<line x1="203.8" x2="203.8" y1="192.56" y2="245.6" stroke="#9ed496" stroke-width="0.9" stroke-opacity="0.27"/>
<line x1="204.6" x2="204.6" y1="196.99" y2="245.18" stroke="#9ed496" stroke-width="0.9" stroke-opacity="0.36"/>
<line x1="205.4" x2="205.4" y1="192.36" y2="243.58" stroke="#9ed496" stroke-width="0.9" stroke-opacity="0.31"/>
<line x1="206.2" x2="206.2" y1="190.36" y2="244.76" stroke="#9ed496" stroke-width="0.9" stroke-opacity="0.29"/>
<line x1="207" x2="207" y1="195.34" y2="244.25" stroke="#9ed496" stroke-width="0.9" stroke-opacity="0.22"/>
<line x1="207.8" x2="207.8" y1="194.39" y2="245.31" stroke="#9ed496" stroke-width="0.9" stroke-opacity="0.33"/>
<line x1="208.6" x2="208.6" y1="190.76" y2="244.86" stroke="#9ed496" stroke-width="0.9" stroke-opacity="0.43"/>
<line x1="209.4" x2="209.4" y1="193.13" y2="243.49" stroke="#9ed496" stroke-width="0.9" stroke-opacity="0.41"/>
<line x1="210.2" x2="210.2" y1="193.7" y2="243.92" stroke="#9ed496" stroke-width="0.9" stroke-opacity="0.29"/>
<line x1="211" x2="211" y1="193.94" y2="243.39" stroke="#9ed496" stroke-width="0.9" stroke-opacity="0.18"/>
<line x1="211.8" x2="211.8" y1="196.5" y2="245.03" stroke="#9ed496" stroke-width="0.9" stroke-opacity="0.2"/>
<line x1="212.6" x2="212.6" y1="190.2" y2="245.14" stroke="#9ed496" stroke-width="0.9" stroke-opacity="0.17"/>
<line x1="213.4" x2="213.4" y1="192.18" y2="244.84" stroke="#9ed496" stroke-width="0.9" stroke-opacity="0.38"/>
<line x1="214.2" x2="214.2" y1="192.73" y2="242.76" stroke="#9ed496" stroke-width="0.9" stroke-opacity="0.38"/>
<line x1="215" x2="215" y1="191.57" y2="243" stroke="#9ed496" stroke-width="0.9" stroke-opacity="0.39"/>
<line x1="215.8" x2="215.8" y1="196.74" y2="243.56" stroke="#9ed496" stroke-width="0.9" stroke-opacity="0.49"/>
<line x1="209" x2="209" y1="199.62" y2="246.07" stroke="#9ed496" stroke-width="0.9" stroke-opacity="0.31"/>
<line x1="209.8" x2="209.8" y1="199.96" y2="246.18" stroke="#9ed496" stroke-width="0.9" stroke-opacity="0.4"/>
<line x1="210.6" x2="210.6" y1="199.19" y2="245.54" stroke="#9ed496" stroke-width="0.9" stroke-opacity="0.7"/>
<line x1="211.4" x2="211.4" y1="199.38" y2="245.01" stroke="#9ed496" stroke-width="0.9" stroke-opacity="0.7"/>
<line x1="212.2" x2="212.2" y1="198.73" y2="246.39" stroke="#9ed496" stroke-width="0.9" stroke-opacity="0.36"/>
<line x1="213" x2="213" y1="200.53" y2="245.6" stroke="#9ed496" stroke-width="0.9" stroke-opacity="0.67"/>
<line x1="213.8" x2="213.8" y1="200.92" y2="245.52" stroke="#9ed496" stroke-width="0.9" stroke-opacity="0.51"/>
<line x1="214.6" x2="214.6" y1="198.2" y2="246.46" stroke="#9ed496" stroke-width="0.9" stroke-opacity="0.62"/>
<line x1="215.4" x2="215.4" y1="200.02" y2="245.36" stroke="#9ed496" stroke-width="0.9" stroke-opacity="0.53"/>
<line x1="216.2" x2="216.2" y1="200.02" y2="245.54" stroke="#9ed496" stroke-width="0.9" stroke-opacity="0.66"/>
<line x1="330.5" x2="330.5" y1="213.84" y2="243.53" stroke="#eba9a9" stroke-width="0.9" stroke-opacity="0.74"/>
<line x1="331.1" x2="331.1" y1="215.85" y2="243.49" stroke="#eba9a9" stroke-width="0.9" stroke-opacity="0.64"/>
<line x1="331.7" x2="331.7" y1="214.5" y2="242.56" stroke="#eba9a9" stroke-width="0.9" stroke-opacity="0.65"/>
<line x1="332.3" x2="332.3" y1="216.02" y2="242.71" stroke="#eba9a9" stroke-width="0.9" stroke-opacity="0.65"/>
<line x1="332.9" x2="332.9" y1="215.41" y2="243.03" stroke="#eba9a9" stroke-width="0.9" stroke-opacity="0.74"/>
<line x1="333.5" x2="333.5" y1="216.79" y2="243.56" stroke="#eba9a9" stroke-width="0.9" stroke-opacity="0.61"/>
<line x1="334.1" x2="334.1" y1="216.62" y2="243.1" stroke="#eba9a9" stroke-width="0.9" stroke-opacity="0.67"/>
<line x1="334.7" x2="334.7" y1="214.79" y2="243.15" stroke="#eba9a9" stroke-width="0.9" stroke-opacity="0.93"/>
<line x1="335.3" x2="335.3" y1="214.43" y2="243.37" stroke="#eba9a9" stroke-width="0.9" stroke-opacity="0.8"/>
<line x1="335.9" x2="335.9" y1="215.44" y2="242.27" stroke="#eba9a9" stroke-width="0.9" stroke-opacity="0.89"/>
<line x1="266.8" x2="266.8" y1="223" y2="239.5" stroke="#8fcf8a" stroke-width="0.7"/>
<line x1="336" x2="336" y1="225.39" y2="243.17" stroke="#eba9a9" stroke-width="0.9" stroke-opacity="0.24"/>
<line x1="337" x2="337" y1="229.5" y2="242.46" stroke="#eba9a9" stroke-width="0.9" stroke-opacity="0.37"/>
<line x1="338" x2="338" y1="225.5" y2="242.43" stroke="#eba9a9" stroke-width="0.9" stroke-opacity="0.4"/>
<line x1="339" x2="339" y1="227.61" y2="241.34" stroke="#eba9a9" stroke-width="0.9" stroke-opacity="0.41"/>
<line x1="340" x2="340" y1="226.85" y2="243.7" stroke="#eba9a9" stroke-width="0.9" stroke-opacity="0.38"/>
<line x1="341" x2="341" y1="225.63" y2="243.68" stroke="#eba9a9" stroke-width="0.9" stroke-opacity="0.37"/>
<line x1="336" x2="357" y1="202.3" y2="202.3" stroke="#d9b0b0" stroke-width="0.6"/>
<line x1="385.3" x2="385.3" y1="202.64" y2="224.37" stroke="#eba9a9" stroke-width="0.9" stroke-opacity="0.55"/>
<line x1="386.1" x2="386.1" y1="202.05" y2="224.35" stroke="#eba9a9" stroke-width="0.9" stroke-opacity="0.57"/>
<line x1="386.9" x2="386.9" y1="203.32" y2="224.81" stroke="#eba9a9" stroke-width="0.9" stroke-opacity="0.5"/>
<line x1="427.7" x2="427.7" y1="203.79" y2="209.56" stroke="#9ed496" stroke-width="0.9" stroke-opacity="0.79"/>
<line x1="428.4" x2="428.4" y1="204.35" y2="210.08" stroke="#9ed496" stroke-width="0.9" stroke-opacity="0.6"/>
<line x1="429.1" x2="429.1" y1="204.42" y2="211.17" stroke="#9ed496" stroke-width="0.9" stroke-opacity="0.57"/>
<line x1="429.8" x2="429.8" y1="203.14" y2="211.84" stroke="#9ed496" stroke-width="0.9" stroke-opacity="0.51"/>
<line x1="430.5" x2="430.5" y1="203.41" y2="212.51" stroke="#9ed496" stroke-width="0.9" stroke-opacity="0.76"/>
<line x1="431.2" x2="431.2" y1="204.13" y2="213.44" stroke="#9ed496" stroke-width="0.9" stroke-opacity="0.47"/>
<line x1="431.9" x2="431.9" y1="203.38" y2="213.09" stroke="#9ed496" stroke-width="0.9" stroke-opacity="0.79"/>
<line x1="432.6" x2="432.6" y1="204.2" y2="212.8" stroke="#9ed496" stroke-width="0.9" stroke-opacity="0.69"/>
<line x1="433.3" x2="433.3" y1="203.96" y2="213.28" stroke="#9ed496" stroke-width="0.9" stroke-opacity="0.58"/>
<line x1="434" x2="434" y1="203.31" y2="213.1" stroke="#9ed496" stroke-width="0.9" stroke-opacity="0.69"/>
<line x1="434.7" x2="434.7" y1="203.86" y2="213.21" stroke="#9ed496" stroke-width="0.9" stroke-opacity="0.62"/>
<line x1="435.4" x2="435.4" y1="203.37" y2="212.89" stroke="#9ed496" stroke-width="0.9" stroke-opacity="0.68"/>
<line x1="436.1" x2="436.1" y1="204.12" y2="212.89" stroke="#9ed496" stroke-width="0.9" stroke-opacity="0.56"/>
<line x1="436.8" x2="436.8" y1="203.18" y2="213.29" stroke="#9ed496" stroke-width="0.9" stroke-opacity="0.81"/>
<line x1="437.5" x2="437.5" y1="204.19" y2="213.2" stroke="#9ed496" stroke-width="0.9" stroke-opacity="0.76"/>
<line x1="445.15" x2="445.15" y1="219.52" y2="235.54" stroke="#eba9a9" stroke-width="0.5" stroke-opacity="0.6"/>
<line x1="445.06" x2="445.06" y1="238.55" y2="243" stroke="#eba9a9" stroke-width="0.5" stroke-opacity="0.6"/>
<line x1="443.07" x2="443.07" y1="227.64" y2="240.14" stroke="#eba9a9" stroke-width="0.5" stroke-opacity="0.6"/>
<line x1="441.62" x2="441.62" y1="222.2" y2="234.7" stroke="#eba9a9" stroke-width="0.5" stroke-opacity="0.6"/>
<line x1="442.14" x2="442.14" y1="219.47" y2="237.21" stroke="#eba9a9" stroke-width="0.5" stroke-opacity="0.6"/>
<line x1="442.21" x2="442.21" y1="224.19" y2="236.69" stroke="#eba9a9" stroke-width="0.5" stroke-opacity="0.6"/>
<line x1="511.3" x2="511.3" y1="208.59" y2="243.9" stroke="#eba9a9" stroke-width="0.9" stroke-opacity="0.36"/>
<line x1="512.2" x2="512.2" y1="209.86" y2="244.83" stroke="#eba9a9" stroke-width="0.9" stroke-opacity="0.44"/>
<line x1="513.1" x2="513.1" y1="208.67" y2="243.91" stroke="#eba9a9" stroke-width="0.9" stroke-opacity="0.36"/>
<line x1="514" x2="514" y1="210.12" y2="244.85" stroke="#eba9a9" stroke-width="0.9" stroke-opacity="0.23"/>
<line x1="514.9" x2="514.9" y1="209.27" y2="244.23" stroke="#eba9a9" stroke-width="0.9" stroke-opacity="0.36"/>
<line x1="515.8" x2="515.8" y1="207.86" y2="243.49" stroke="#eba9a9" stroke-width="0.9" stroke-opacity="0.1"/>
<line x1="516.7" x2="516.7" y1="209.29" y2="244.65" stroke="#eba9a9" stroke-width="0.9" stroke-opacity="0.11"/>
<line x1="517.6" x2="517.6" y1="209.1" y2="245.3" stroke="#eba9a9" stroke-width="0.9" stroke-opacity="0.18"/>
<line x1="503" x2="503" y1="208.37" y2="242.45" stroke="#9ed496" stroke-width="0.9" stroke-opacity="0.29"/>
<line x1="504" x2="504" y1="211.91" y2="243.03" stroke="#9ed496" stroke-width="0.9" stroke-opacity="0.27"/>
<line x1="505" x2="505" y1="206.4" y2="243.52" stroke="#9ed496" stroke-width="0.9" stroke-opacity="0.11"/>
<line x1="506" x2="506" y1="210.78" y2="244.1" stroke="#9ed496" stroke-width="0.9" stroke-opacity="0.19"/>
<line x1="507" x2="507" y1="209.66" y2="243.67" stroke="#9ed496" stroke-width="0.9" stroke-opacity="0.26"/>
<line x1="32" x2="32" y1="292.68" y2="298.95" stroke="#9ed496" stroke-width="0.9" stroke-opacity="0.55"/>
<line x1="32.8" x2="32.8" y1="292.84" y2="299.18" stroke="#9ed496" stroke-width="0.9" stroke-opacity="0.51"/>
<line x1="33.6" x2="33.6" y1="292.63" y2="300.02" stroke="#9ed496" stroke-width="0.9" stroke-opacity="0.51"/>
<line x1="34.4" x2="34.4" y1="292.11" y2="300.46" stroke="#9ed496" stroke-width="0.9" stroke-opacity="0.54"/>
<line x1="35.2" x2="35.2" y1="292.28" y2="301.21" stroke="#9ed496" stroke-width="0.9" stroke-opacity="0.59"/>
<line x1="36" x2="36" y1="292.44" y2="301.52" stroke="#9ed496" stroke-width="0.9" stroke-opacity="0.69"/>
<line x1="90" x2="90" y1="298.76" y2="326.44" stroke="#9ed496" stroke-width="0.9" stroke-opacity="0.37"/>
<line x1="90.9" x2="90.9" y1="296.46" y2="325.9" stroke="#9ed496" stroke-width="0.9" stroke-opacity="0.26"/>
<line x1="91.8" x2="91.8" y1="298.63" y2="326.96" stroke="#9ed496" stroke-width="0.9" stroke-opacity="0.25"/>
<line x1="92.7" x2="92.7" y1="297.27" y2="326.64" stroke="#9ed496" stroke-width="0.9" stroke-opacity="0.37"/>
<line x1="208.8" x2="208.8" y1="328.1" y2="328.9" stroke="#9ed496" stroke-width="0.9" stroke-opacity="0.53"/>
<line x1="209.5" x2="209.5" y1="326.15" y2="328.86" stroke="#9ed496" stroke-width="0.9" stroke-opacity="0.71"/>
<line x1="210.2" x2="210.2" y1="324.02" y2="328.91" stroke="#9ed496" stroke-width="0.9" stroke-opacity="0.52"/>
<line x1="210.9" x2="210.9" y1="322.25" y2="328.93" stroke="#9ed496" stroke-width="0.9" stroke-opacity="0.8"/>
<line x1="211.6" x2="211.6" y1="319.83" y2="329" stroke="#9ed496" stroke-width="0.9" stroke-opacity="0.62"/>
<line x1="212.3" x2="212.3" y1="317.95" y2="328.81" stroke="#9ed496" stroke-width="0.9" stroke-opacity="0.8"/>
<line x1="213" x2="213" y1="315.95" y2="328.93" stroke="#9ed496" stroke-width="0.9" stroke-opacity="0.74"/>
<line x1="213.7" x2="213.7" y1="313.87" y2="328.94" stroke="#9ed496" stroke-width="0.9" stroke-opacity="0.58"/>
<line x1="214.4" x2="214.4" y1="311.59" y2="328.82" stroke="#9ed496" stroke-width="0.9" stroke-opacity="0.47"/>
<line x1="192.2" x2="214.8" y1="314.7" y2="314.7" stroke="#dcdcdc" stroke-width="0.7"/>
<line x1="22.6" x2="22.6" y1="116.31" y2="124.4" stroke="#a8d8a2" stroke-width="0.6" stroke-opacity="0.57"/>
<line x1="18.95" x2="18.95" y1="79.74" y2="97.67" stroke="#a8d8a2" stroke-width="0.6" stroke-opacity="0.33"/>
<line x1="13.23" x2="13.23" y1="79.53" y2="98.07" stroke="#a8d8a2" stroke-width="0.6" stroke-opacity="0.59"/>
<line x1="6.25" x2="6.25" y1="76.08" y2="84.14" stroke="#a8d8a2" stroke-width="0.6" stroke-opacity="0.52"/>
<line x1="15.73" x2="15.73" y1="85.07" y2="98.98" stroke="#a8d8a2" stroke-width="0.6" stroke-opacity="0.47"/>
<line x1="16.92" x2="16.92" y1="91.63" y2="100" stroke="#a8d8a2" stroke-width="0.6" stroke-opacity="0.36"/>
<line x1="7.55" x2="7.55" y1="94.25" y2="115.54" stroke="#a8d8a2" stroke-width="0.6" stroke-opacity="0.48"/>
<line x1="32.24" x2="32.24" y1="87.82" y2="100.11" stroke="#a8d8a2" stroke-width="0.6" stroke-opacity="0.4"/>
<line x1="16.95" x2="16.95" y1="72.23" y2="90.28" stroke="#a8d8a2" stroke-width="0.6" stroke-opacity="0.41"/>
<line x1="21.12" x2="21.12" y1="72.93" y2="84.19" stroke="#a8d8a2" stroke-width="0.6" stroke-opacity="0.5"/>
<line x1="4.3" x2="4.3" y1="77.85" y2="93.7" stroke="#a8d8a2" stroke-width="0.6" stroke-opacity="0.26"/>
<line x1="9.79" x2="9.79" y1="79.33" y2="84.71" stroke="#a8d8a2" stroke-width="0.6" stroke-opacity="0.49"/>
<line x1="27.3" x2="27.3" y1="99.65" y2="111.27" stroke="#a8d8a2" stroke-width="0.6" stroke-opacity="0.42"/>
<line x1="19.95" x2="19.95" y1="81.84" y2="104.23" stroke="#a8d8a2" stroke-width="0.6" stroke-opacity="0.55"/>
<line x1="43" x2="43" y1="2" y2="24" stroke="#c8c8c8" stroke-width="0.7"/>
<line x1="8.74" x2="8.74" y1="78.29" y2="95.22" stroke="#c8c8c8" stroke-width="0.6" stroke-opacity="0.5"/>
<line x1="23.45" x2="23.45" y1="97.89" y2="109.96" stroke="#c8c8c8" stroke-width="0.6" stroke-opacity="0.45"/>
<line x1="5.38" x2="5.38" y1="96.08" y2="111.22" stroke="#c8c8c8" stroke-width="0.6" stroke-opacity="0.43"/>
<line x1="32.14" x2="32.14" y1="85.03" y2="104.47" stroke="#c8c8c8" stroke-width="0.6" stroke-opacity="0.33"/>
<line x1="8.1" x2="8.1" y1="94.75" y2="115.77" stroke="#c8c8c8" stroke-width="0.6" stroke-opacity="0.46"/>
<line x1="18.14" x2="18.14" y1="80.77" y2="95.29" stroke="#c8c8c8" stroke-width="0.6" stroke-opacity="0.44"/>
<line x1="8.65" x2="8.65" y1="95.29" y2="112.33" stroke="#c8c8c8" stroke-width="0.6" stroke-opacity="0.48"/>
<line x1="11.89" x2="11.89" y1="88.01" y2="93.94" stroke="#c8c8c8" stroke-width="0.6" stroke-opacity="0.49"/>
<line x1="100.87" x2="100.87" y1="67.74" y2="81.33" stroke="#e8b0b0" stroke-width="0.6" stroke-opacity="0.51"/>
<line x1="96.29" x2="96.29" y1="64.82" y2="70.46" stroke="#e8b0b0" stroke-width="0.6" stroke-opacity="0.29"/>
<line x1="97.29" x2="97.29" y1="69.99" y2="92.67" stroke="#e8b0b0" stroke-width="0.6" stroke-opacity="0.29"/>
<line x1="95.49" x2="95.49" y1="79.07" y2="87.74" stroke="#e8b0b0" stroke-width="0.6" stroke-opacity="0.26"/>
<line x1="96.35" x2="96.35" y1="29.41" y2="35.67" stroke="#e8b0b0" stroke-width="0.6" stroke-opacity="0.43"/>
<line x1="96.1" x2="96.1" y1="69.42" y2="82.02" stroke="#e8b0b0" stroke-width="0.6" stroke-opacity="0.5"/>
<line x1="222.8" x2="222.8" y1="79.54" y2="101.85" stroke="#c8c8c8" stroke-width="0.6" stroke-opacity="0.33"/>
<line x1="219.65" x2="219.65" y1="87.28" y2="106.27" stroke="#c8c8c8" stroke-width="0.6" stroke-opacity="0.26"/>
<line x1="218.83" x2="218.83" y1="37.94" y2="60.74" stroke="#c8c8c8" stroke-width="0.6" stroke-opacity="0.48"/>
<line x1="219.65" x2="219.65" y1="92.47" y2="110.02" stroke="#c8c8c8" stroke-width="0.6" stroke-opacity="0.45"/>
<line x1="219.96" x2="219.96" y1="79.24" y2="90.01" stroke="#c8c8c8" stroke-width="0.6" stroke-opacity="0.47"/>
<line x1="279.27" x2="279.27" y1="92.21" y2="103.54" stroke="#c8c8c8" stroke-width="0.6" stroke-opacity="0.58"/>
<line x1="275.87" x2="275.87" y1="53.38" y2="73.52" stroke="#c8c8c8" stroke-width="0.6" stroke-opacity="0.31"/>
<line x1="276.09" x2="276.09" y1="40.36" y2="60.14" stroke="#c8c8c8" stroke-width="0.6" stroke-opacity="0.48"/>
<line x1="276.11" x2="276.11" y1="65.46" y2="73.01" stroke="#c8c8c8" stroke-width="0.6" stroke-opacity="0.39"/>
<line x1="311.82" x2="311.82" y1="85.3" y2="108.23" stroke="#a8d8a2" stroke-width="0.6" stroke-opacity="0.58"/>
<line x1="313.03" x2="313.03" y1="113.87" y2="119.06" stroke="#a8d8a2" stroke-width="0.6" stroke-opacity="0.53"/>
<line x1="306.06" x2="306.06" y1="91.04" y2="115.44" stroke="#a8d8a2" stroke-width="0.6" stroke-opacity="0.41"/>
<line x1="311.19" x2="311.19" y1="101.8" y2="120.3" stroke="#a8d8a2" stroke-width="0.6" stroke-opacity="0.35"/>
<line x1="309.32" x2="309.32" y1="94.37" y2="101.26" stroke="#a8d8a2" stroke-width="0.6" stroke-opacity="0.42"/>
<line x1="304.82" x2="304.82" y1="109.19" y2="120.51" stroke="#a8d8a2" stroke-width="0.6" stroke-opacity="0.31"/>
<line x1="308.77" x2="308.77" y1="111.71" y2="116.49" stroke="#a8d8a2" stroke-width="0.6" stroke-opacity="0.29"/>
<line x1="306" x2="306" y1="94.44" y2="114.09" stroke="#a8d8a2" stroke-width="0.6" stroke-opacity="0.44"/>
<line x1="386.96" x2="386.96" y1="108.97" y2="125.17" stroke="#c8c8c8" stroke-width="0.6" stroke-opacity="0.48"/>
<line x1="389.79" x2="389.79" y1="84.89" y2="95.38" stroke="#c8c8c8" stroke-width="0.6" stroke-opacity="0.6"/>
<line x1="393.05" x2="393.05" y1="101.84" y2="111.1" stroke="#c8c8c8" stroke-width="0.6" stroke-opacity="0.5"/>
<line x1="394.88" x2="394.88" y1="91.32" y2="101.21" stroke="#c8c8c8" stroke-width="0.6" stroke-opacity="0.32"/>
<line x1="391.08" x2="391.08" y1="96.63" y2="119.99" stroke="#c8c8c8" stroke-width="0.6" stroke-opacity="0.3"/>
<line x1="388.47" x2="388.47" y1="86.5" y2="92.11" stroke="#c8c8c8" stroke-width="0.6" stroke-opacity="0.42"/>
<line x1="385.84" x2="385.84" y1="88.83" y2="98.51" stroke="#c8c8c8" stroke-width="0.6" stroke-opacity="0.4"/>
<line x1="394.27" x2="394.27" y1="102.72" y2="111.66" stroke="#c8c8c8" stroke-width="0.6" stroke-opacity="0.39"/>
<line x1="491.31" x2="491.31" y1="97.17" y2="114.95" stroke="#a8d8a2" stroke-width="0.6" stroke-opacity="0.28"/>
<line x1="492.77" x2="492.77" y1="64.02" y2="74.37" stroke="#a8d8a2" stroke-width="0.6" stroke-opacity="0.24"/>
<line x1="492.02" x2="492.02" y1="67.96" y2="86.21" stroke="#a8d8a2" stroke-width="0.6" stroke-opacity="0.24"/>
<line x1="499.28" x2="499.28" y1="64.19" y2="83.19" stroke="#a8d8a2" stroke-width="0.6" stroke-opacity="0.26"/>
<line x1="42.24" x2="42.24" y1="209.18" y2="222.82" stroke="#e8b0b0" stroke-width="0.6" stroke-opacity="0.29"/>
<line x1="44.02" x2="44.02" y1="203.96" y2="228.04" stroke="#e8b0b0" stroke-width="0.6" stroke-opacity="0.43"/>
<line x1="46.32" x2="46.32" y1="197.7" y2="211.17" stroke="#e8b0b0" stroke-width="0.6" stroke-opacity="0.54"/>
<line x1="41.34" x2="41.34" y1="215.44" y2="238.12" stroke="#e8b0b0" stroke-width="0.6" stroke-opacity="0.44"/>
<line x1="44.13" x2="44.13" y1="194.77" y2="200.15" stroke="#e8b0b0" stroke-width="0.6" stroke-opacity="0.52"/>
<line x1="83.61" x2="83.61" y1="192.74" y2="204.89" stroke="#a8d8a2" stroke-width="0.6" stroke-opacity="0.34"/>
<line x1="80.89" x2="80.89" y1="190.73" y2="200.47" stroke="#a8d8a2" stroke-width="0.6" stroke-opacity="0.28"/>
<line x1="80.5" x2="80.5" y1="183.54" y2="194.17" stroke="#a8d8a2" stroke-width="0.6" stroke-opacity="0.54"/>
<line x1="102.62" x2="102.62" y1="234" y2="242.46" stroke="#e8b0b0" stroke-width="0.6" stroke-opacity="0.42"/>
<line x1="99.18" x2="99.18" y1="185" y2="201.96" stroke="#e8b0b0" stroke-width="0.6" stroke-opacity="0.32"/>
<line x1="99.37" x2="99.37" y1="217.01" y2="225.84" stroke="#e8b0b0" stroke-width="0.6" stroke-opacity="0.4"/>
<line x1="99.07" x2="99.07" y1="189.28" y2="199.12" stroke="#e8b0b0" stroke-width="0.6" stroke-opacity="0.5"/>
<line x1="103.22" x2="103.22" y1="223.15" y2="234.51" stroke="#e8b0b0" stroke-width="0.6" stroke-opacity="0.36"/>
<line x1="102.08" x2="102.08" y1="210.68" y2="219.7" stroke="#e8b0b0" stroke-width="0.6" stroke-opacity="0.39"/>
<line x1="156.89" x2="156.89" y1="208.38" y2="226.37" stroke="#e8b0b0" stroke-width="0.6" stroke-opacity="0.58"/>
<line x1="159.41" x2="159.41" y1="185.68" y2="205.46" stroke="#e8b0b0" stroke-width="0.6" stroke-opacity="0.39"/>
<line x1="156.73" x2="156.73" y1="230.78" y2="242.97" stroke="#e8b0b0" stroke-width="0.6" stroke-opacity="0.59"/>
<line x1="156.81" x2="156.81" y1="190.65" y2="202.03" stroke="#e8b0b0" stroke-width="0.6" stroke-opacity="0.54"/>
<line x1="159.54" x2="159.54" y1="204.9" y2="212.42" stroke="#e8b0b0" stroke-width="0.6" stroke-opacity="0.44"/>
<line x1="157.66" x2="157.66" y1="181.76" y2="191.1" stroke="#e8b0b0" stroke-width="0.6" stroke-opacity="0.57"/>
<line x1="155.84" x2="155.84" y1="222.83" y2="240.42" stroke="#e8b0b0" stroke-width="0.6" stroke-opacity="0.53"/>
<line x1="159.47" x2="159.47" y1="180.92" y2="201.77" stroke="#e8b0b0" stroke-width="0.6" stroke-opacity="0.4"/>
<line x1="157.97" x2="157.97" y1="178.25" y2="192.29" stroke="#e8b0b0" stroke-width="0.6" stroke-opacity="0.63"/>
<line x1="157.9" x2="157.9" y1="206.09" y2="219.22" stroke="#e8b0b0" stroke-width="0.6" stroke-opacity="0.37"/>
<line x1="194.21" x2="194.21" y1="214.39" y2="236.61" stroke="#a8d8a2" stroke-width="0.6" stroke-opacity="0.26"/>
<line x1="197.85" x2="197.85" y1="231.43" y2="240.44" stroke="#a8d8a2" stroke-width="0.6" stroke-opacity="0.55"/>
<line x1="196.11" x2="196.11" y1="209.52" y2="226.08" stroke="#a8d8a2" stroke-width="0.6" stroke-opacity="0.35"/>
<line x1="197.03" x2="197.03" y1="210.43" y2="222.72" stroke="#a8d8a2" stroke-width="0.6" stroke-opacity="0.58"/>
<line x1="199.12" x2="199.12" y1="208.04" y2="212.84" stroke="#a8d8a2" stroke-width="0.6" stroke-opacity="0.59"/>
<line x1="199.33" x2="199.33" y1="215.39" y2="232.12" stroke="#a8d8a2" stroke-width="0.6" stroke-opacity="0.49"/>
<line x1="284.69" x2="284.69" y1="228.27" y2="234.33" stroke="#c8c8c8" stroke-width="0.6" stroke-opacity="0.34"/>
<line x1="287.37" x2="287.37" y1="238.13" y2="245.35" stroke="#c8c8c8" stroke-width="0.6" stroke-opacity="0.49"/>
<line x1="285.06" x2="285.06" y1="234.86" y2="240.2" stroke="#c8c8c8" stroke-width="0.6" stroke-opacity="0.56"/>
<line x1="285.36" x2="285.36" y1="238.99" y2="245.22" stroke="#c8c8c8" stroke-width="0.6" stroke-opacity="0.56"/>
<line x1="286.24" x2="286.24" y1="231.07" y2="237.39" stroke="#c8c8c8" stroke-width="0.6" stroke-opacity="0.59"/>
<line x1="317.58" x2="317.58" y1="205.57" y2="211.55" stroke="#a8d8a2" stroke-width="0.6" stroke-opacity="0.43"/>
<line x1="317.02" x2="317.02" y1="206.7" y2="215.99" stroke="#a8d8a2" stroke-width="0.6" stroke-opacity="0.6"/>
<line x1="316.56" x2="316.56" y1="206.24" y2="214.67" stroke="#a8d8a2" stroke-width="0.6" stroke-opacity="0.56"/>
<line x1="340.93" x2="340.93" y1="227.18" y2="243.78" stroke="#e8b0b0" stroke-width="0.6" stroke-opacity="0.25"/>
<line x1="339.88" x2="339.88" y1="224.73" y2="244.22" stroke="#e8b0b0" stroke-width="0.6" stroke-opacity="0.42"/>
<line x1="337.48" x2="337.48" y1="228.92" y2="241.49" stroke="#e8b0b0" stroke-width="0.6" stroke-opacity="0.55"/>
<line x1="339.44" x2="339.44" y1="226.37" y2="239.86" stroke="#e8b0b0" stroke-width="0.6" stroke-opacity="0.52"/>
<line x1="428.44" x2="428.44" y1="219.82" y2="227.27" stroke="#c8c8c8" stroke-width="0.6" stroke-opacity="0.31"/>
<line x1="429.44" x2="429.44" y1="222.19" y2="228.66" stroke="#c8c8c8" stroke-width="0.6" stroke-opacity="0.45"/>
<line x1="429.09" x2="429.09" y1="214.03" y2="235.05" stroke="#c8c8c8" stroke-width="0.6" stroke-opacity="0.59"/>
<line x1="504.69" x2="504.69" y1="209.99" y2="217.82" stroke="#a8d8a2" stroke-width="0.6" stroke-opacity="0.38"/>
<line x1="505.14" x2="505.14" y1="231.47" y2="241.85" stroke="#a8d8a2" stroke-width="0.6" stroke-opacity="0.46"/>
<line x1="503.06" x2="503.06" y1="219.09" y2="235.86" stroke="#a8d8a2" stroke-width="0.6" stroke-opacity="0.43"/>
<line x1="505.5" x2="505.5" y1="217.08" y2="235.47" stroke="#a8d8a2" stroke-width="0.6" stroke-opacity="0.25"/>
<line x1="500.67" x2="500.67" y1="234.43" y2="241.2" stroke="#a8d8a2" stroke-width="0.6" stroke-opacity="0.59"/>
<line x1="389.71" x2="389.71" y1="235.58" y2="243.36" stroke="#c8c8c8" stroke-width="0.6" stroke-opacity="0.44"/>
<line x1="389.91" x2="389.91" y1="227.9" y2="243.51" stroke="#c8c8c8" stroke-width="0.6" stroke-opacity="0.28"/>
<line x1="387.71" x2="387.71" y1="226" y2="246" stroke="#c8c8c8" stroke-width="0.6" stroke-opacity="0.34"/>
<rect x="36.8" y="1" width="3.5" height="126.5" fill="#fff" stroke="#666" stroke-width="0.55"/>
<line x1="36.8" x2="40.3" y1="16.97" y2="16.97" stroke="#b0b0b0" stroke-width="0.45"/>
<line x1="36.8" x2="40.3" y1="21.23" y2="21.23" stroke="#b0b0b0" stroke-width="0.45"/>
<rect x="36.8" y="3.45" width="3.5" height="1.2" fill="#a0a0a0"/>
<rect x="36.8" y="7.35" width="3.5" height="2.1" fill="#0d0d0d"/>
<rect x="36.8" y="11.65" width="3.5" height="1.2" fill="#a0a0a0"/>
<rect x="36.8" y="25.15" width="3.5" height="2" fill="#0d0d0d"/>
<rect x="36.8" y="28.85" width="3.5" height="2.3" fill="#a0a0a0"/>
<rect x="36.8" y="32.15" width="3.5" height="2" fill="#a0a0a0"/>
<rect x="36.8" y="36.45" width="3.5" height="7.9" fill="#0d0d0d"/>
<rect x="36.8" y="46.05" width="3.5" height="2" fill="#0d0d0d"/>
<rect x="36.8" y="49.15" width="3.5" height="3" fill="#0d0d0d"/>
<rect x="36.8" y="53.65" width="3.5" height="2.7" fill="#0d0d0d"/>
<rect x="36.8" y="58.25" width="3.5" height="2.1" fill="#0d0d0d"/>
<rect x="36.8" y="61.85" width="3.5" height="1.7" fill="#a0a0a0"/>
<rect x="36.8" y="63.55" width="3.5" height="3.1" fill="#1a9148"/>
<rect x="36.8" y="66.85" width="3.5" height="6.9" fill="#dc1f2e"/>
<rect x="36.8" y="76.15" width="3.5" height="1.2" fill="#a0a0a0"/>
<rect x="36.8" y="78.75" width="3.5" height="1.6" fill="#0d0d0d"/>
<rect x="36.8" y="81.85" width="3.5" height="1.3" fill="#a0a0a0"/>
<rect x="36.8" y="84.65" width="3.5" height="1.3" fill="#a0a0a0"/>
<rect x="36.8" y="86.85" width="3.5" height="2.2" fill="#0d0d0d"/>
<rect x="36.8" y="89.65" width="3.5" height="2.2" fill="#4a4a4a"/>
<rect x="36.8" y="94.55" width="3.5" height="3" fill="#0d0d0d"/>
<rect x="36.8" y="98.75" width="3.5" height="3.1" fill="#0d0d0d"/>
<rect x="36.8" y="104.85" width="3.5" height="1.3" fill="#a0a0a0"/>
<rect x="36.8" y="108.75" width="3.5" height="5" fill="#0d0d0d"/>
<rect x="36.8" y="117.85" width="3.5" height="1.6" fill="#0d0d0d"/>
<rect x="36.8" y="120.65" width="3.5" height="3.6" fill="#0d0d0d"/>
<rect x="90.5" y="1.4" width="3.6" height="123.9" fill="#fff" stroke="#666" stroke-width="0.55"/>
<line x1="90.5" x2="94.1" y1="15.7" y2="15.7" stroke="#b0b0b0" stroke-width="0.45"/>
<line x1="90.5" x2="94.1" y1="57.5" y2="57.5" stroke="#b0b0b0" stroke-width="0.45"/>
<rect x="90.5" y="3.45" width="3.6" height="1.4" fill="#a0a0a0"/>
<rect x="90.5" y="7.85" width="3.6" height="2" fill="#0d0d0d"/>
<rect x="90.5" y="11.45" width="3.6" height="2.1" fill="#0d0d0d"/>
<rect x="90.5" y="17.85" width="3.6" height="2" fill="#0d0d0d"/>
<rect x="90.5" y="21.25" width="3.6" height="1.2" fill="#a0a0a0"/>
<rect x="90.5" y="26.05" width="3.6" height="2" fill="#0d0d0d"/>
<rect x="90.5" y="30.15" width="3.6" height="2.5" fill="#0d0d0d"/>
<rect x="90.5" y="34.35" width="3.6" height="1.3" fill="#a0a0a0"/>
<rect x="90.5" y="37.15" width="3.6" height="1.2" fill="#a0a0a0"/>
<rect x="90.5" y="40.15" width="3.6" height="3.8" fill="#0d0d0d"/>
<rect x="90.5" y="47.85" width="3.6" height="2.5" fill="#1a9148"/>
<rect x="90.5" y="53.95" width="3.6" height="1.2" fill="#a0a0a0"/>
<rect x="90.5" y="59.65" width="3.6" height="2.1" fill="#4a4a4a"/>
<rect x="90.5" y="63.25" width="3.6" height="4.8" fill="#4a4a4a"/>
<rect x="90.5" y="71.15" width="3.6" height="3.1" fill="#0d0d0d"/>
<rect x="90.5" y="74.95" width="3.6" height="2.6" fill="#0d0d0d"/>
<rect x="90.5" y="80.25" width="3.6" height="3.1" fill="#0d0d0d"/>
<rect x="90.5" y="85.45" width="3.6" height="2.6" fill="#0d0d0d"/>
<rect x="90.5" y="92.35" width="3.6" height="1.2" fill="#a0a0a0"/>
<rect x="90.5" y="94.55" width="3.6" height="3.5" fill="#0d0d0d"/>
<rect x="90.5" y="99.75" width="3.6" height="2.6" fill="#0d0d0d"/>
<rect x="90.5" y="104.85" width="3.6" height="1.3" fill="#a0a0a0"/>
<rect x="90.5" y="108.35" width="3.6" height="3.5" fill="#0d0d0d"/>
<rect x="90.5" y="114.55" width="3.6" height="1.6" fill="#4a4a4a"/>
<rect x="90.5" y="116.45" width="3.6" height="3" fill="#0d0d0d"/>
<rect x="90.5" y="120.35" width="3.6" height="1.3" fill="#a0a0a0"/>
<rect x="150.5" y="21" width="3.3" height="103.2" fill="#fff" stroke="#666" stroke-width="0.55"/>
<line x1="150.5" x2="153.8" y1="27.45" y2="27.45" stroke="#b0b0b0" stroke-width="0.45"/>
<line x1="150.5" x2="153.8" y1="46.5" y2="46.5" stroke="#b0b0b0" stroke-width="0.45"/>
<line x1="150.5" x2="153.8" y1="87.4" y2="87.4" stroke="#b0b0b0" stroke-width="0.45"/>
<line x1="150.5" x2="153.8" y1="93.5" y2="93.5" stroke="#b0b0b0" stroke-width="0.45"/>
<rect x="150.5" y="20.85" width="3.3" height="1.5" fill="#a0a0a0"/>
<rect x="150.5" y="23.35" width="3.3" height="1.8" fill="#4a4a4a"/>
<rect x="150.5" y="29.75" width="3.3" height="3.7" fill="#0d0d0d"/>
<rect x="150.5" y="35.35" width="3.3" height="1.9" fill="#0d0d0d"/>
<rect x="150.5" y="39.15" width="3.3" height="1.9" fill="#4a4a4a"/>
<rect x="150.5" y="41.85" width="3.3" height="1.8" fill="#4a4a4a"/>
<rect x="150.5" y="49.55" width="3.3" height="1.8" fill="#a0a0a0"/>
<rect x="150.5" y="54.15" width="3.3" height="1.8" fill="#a0a0a0"/>
<rect x="150.5" y="59.95" width="3.3" height="2.2" fill="#0d0d0d"/>
<rect x="150.5" y="64.85" width="3.3" height="3.7" fill="#1a9148"/>
<rect x="150.5" y="69.05" width="3.3" height="4.3" fill="#dc1f2e"/>
<rect x="150.5" y="75.15" width="3.3" height="2" fill="#2f5e45"/>
<rect x="150.5" y="77.85" width="3.3" height="1.6" fill="#8c8c8c"/>
<rect x="150.5" y="80.65" width="3.3" height="1.9" fill="#0d0d0d"/>
<rect x="150.5" y="83.15" width="3.3" height="2" fill="#0d0d0d"/>
<rect x="150.5" y="89.85" width="3.3" height="1.3" fill="#a0a0a0"/>
<rect x="150.5" y="95.65" width="3.3" height="3.3" fill="#0d0d0d"/>
<rect x="150.5" y="100.85" width="3.3" height="1.3" fill="#a0a0a0"/>
<rect x="150.5" y="104.95" width="3.3" height="3.6" fill="#0d0d0d"/>
<rect x="150.5" y="110.35" width="3.3" height="2.4" fill="#0d0d0d"/>
<rect x="150.5" y="114.65" width="3.3" height="1.9" fill="#0d0d0d"/>
<rect x="150.5" y="119.15" width="3.3" height="2.4" fill="#0d0d0d"/>
<rect x="213.4" y="27.4" width="3.2" height="99.1" fill="#fff" stroke="#666" stroke-width="0.55"/>
<line x1="213.4" x2="216.6" y1="105.25" y2="105.25" stroke="#b0b0b0" stroke-width="0.45"/>
<rect x="213.4" y="28.35" width="3.2" height="1.5" fill="#a0a0a0"/>
<rect x="213.4" y="33.45" width="3.2" height="2.2" fill="#4a4a4a"/>
<rect x="213.4" y="37.25" width="3.2" height="2.2" fill="#0d0d0d"/>
<rect x="213.4" y="42.55" width="3.2" height="3.7" fill="#0d0d0d"/>
<rect x="213.4" y="49.35" width="3.2" height="2.2" fill="#2f5e45"/>
<rect x="213.4" y="53.15" width="3.2" height="2.2" fill="#2f5e45"/>
<rect x="213.4" y="58.75" width="3.2" height="3.4" fill="#0d0d0d"/>
<rect x="213.4" y="64.45" width="3.2" height="2.6" fill="#0d0d0d"/>
<rect x="213.4" y="68.65" width="3.2" height="1.8" fill="#4a4a4a"/>
<rect x="213.4" y="73.45" width="3.2" height="5.2" fill="#0d0d0d"/>
<rect x="213.4" y="80.55" width="3.2" height="2.6" fill="#a0a0a0"/>
<rect x="213.4" y="86.95" width="3.2" height="3.1" fill="#0d0d0d"/>
<rect x="213.4" y="92.25" width="3.2" height="1.9" fill="#a0a0a0"/>
<rect x="213.4" y="95.95" width="3.2" height="4.2" fill="#0d0d0d"/>
<rect x="213.4" y="100.45" width="3.2" height="1.7" fill="#a0a0a0"/>
<rect x="213.4" y="108.15" width="3.2" height="3.8" fill="#0d0d0d"/>
<rect x="213.4" y="112.85" width="3.2" height="3" fill="#0d0d0d"/>
<rect x="213.4" y="116.65" width="3.2" height="2.3" fill="#4a4a4a"/>
<rect x="213.4" y="119.45" width="3.2" height="3.1" fill="#0d0d0d"/>
<rect x="213.4" y="123.85" width="3.2" height="1.8" fill="#a0a0a0"/>
<rect x="270.2" y="30.5" width="3.2" height="93.8" fill="#fff" stroke="#666" stroke-width="0.55"/>
<line x1="270.2" x2="273.4" y1="58.85" y2="58.85" stroke="#b0b0b0" stroke-width="0.45"/>
<line x1="270.2" x2="273.4" y1="102.25" y2="102.25" stroke="#b0b0b0" stroke-width="0.45"/>
<rect x="270.2" y="31.85" width="3.2" height="1.3" fill="#a0a0a0"/>
<rect x="270.2" y="35.85" width="3.2" height="2.6" fill="#4a4a4a"/>
<rect x="270.2" y="40.35" width="3.2" height="2.2" fill="#0d0d0d"/>
<rect x="270.2" y="43.35" width="3.2" height="2.6" fill="#0d0d0d"/>
<rect x="270.2" y="48.85" width="3.2" height="1.3" fill="#a0a0a0"/>
<rect x="270.2" y="52.45" width="3.2" height="4.1" fill="#2f5e45"/>
<rect x="270.2" y="61.15" width="3.2" height="3.7" fill="#0d0d0d"/>
<rect x="270.2" y="66.45" width="3.2" height="2.2" fill="#4a4a4a"/>
<rect x="270.2" y="70.25" width="3.2" height="2.1" fill="#4a4a4a"/>
<rect x="270.2" y="73.65" width="3.2" height="4.2" fill="#0d0d0d"/>
<rect x="270.2" y="80.95" width="3.2" height="2.6" fill="#0d0d0d"/>
<rect x="270.2" y="84.65" width="3.2" height="2.7" fill="#0d0d0d"/>
<rect x="270.2" y="90.35" width="3.2" height="3" fill="#0d0d0d"/>
<rect x="270.2" y="96.75" width="3.2" height="2.3" fill="#0d0d0d"/>
<rect x="270.2" y="105.45" width="3.2" height="2.2" fill="#4a4a4a"/>
<rect x="270.2" y="109.05" width="3.2" height="1.5" fill="#a0a0a0"/>
<rect x="270.2" y="113.45" width="3.2" height="4.4" fill="#0d0d0d"/>
<rect x="270.2" y="120.35" width="3.2" height="1.8" fill="#a0a0a0"/>
<rect x="327.7" y="38.9" width="3" height="87.1" fill="#fff" stroke="#666" stroke-width="0.55"/>
<line x1="327.7" x2="330.7" y1="83.5" y2="83.5" stroke="#b0b0b0" stroke-width="0.45"/>
<line x1="327.7" x2="330.7" y1="95.3" y2="95.3" stroke="#b0b0b0" stroke-width="0.45"/>
<line x1="327.7" x2="330.7" y1="107.65" y2="107.65" stroke="#b0b0b0" stroke-width="0.45"/>
<rect x="327.7" y="41.35" width="3" height="2.4" fill="#4a4a4a"/>
<rect x="327.7" y="46.25" width="3" height="4.2" fill="#0d0d0d"/>
<rect x="327.7" y="52.05" width="3" height="1.3" fill="#a0a0a0"/>
<rect x="327.7" y="56.85" width="3" height="1.3" fill="#a0a0a0"/>
<rect x="327.7" y="62.35" width="3" height="2.4" fill="#0d0d0d"/>
<rect x="327.7" y="65.45" width="3" height="2.5" fill="#0d0d0d"/>
<rect x="327.7" y="70.05" width="3" height="4.5" fill="#2f5e45"/>
<rect x="327.7" y="77.85" width="3" height="3.3" fill="#8c8c8c"/>
<rect x="327.7" y="85.65" width="3" height="3.5" fill="#0d0d0d"/>
<rect x="327.7" y="90.35" width="3" height="2.6" fill="#0d0d0d"/>
<rect x="327.7" y="97.65" width="3" height="5.3" fill="#0d0d0d"/>
<rect x="327.7" y="103.25" width="3" height="1.9" fill="#a0a0a0"/>
<rect x="327.7" y="109.95" width="3" height="2.2" fill="#0d0d0d"/>
<rect x="327.7" y="113.45" width="3" height="2.2" fill="#0d0d0d"/>
<rect x="327.7" y="116.85" width="3" height="2.3" fill="#4a4a4a"/>
<rect x="327.7" y="121.45" width="3" height="2.3" fill="#4a4a4a"/>
<rect x="377.4" y="45.6" width="3" height="81.4" fill="#fff" stroke="#666" stroke-width="0.55"/>
<line x1="377.4" x2="380.4" y1="58.35" y2="58.35" stroke="#b0b0b0" stroke-width="0.45"/>
<line x1="377.4" x2="380.4" y1="97.8" y2="97.8" stroke="#b0b0b0" stroke-width="0.45"/>
<rect x="377.4" y="48.75" width="3" height="3.1" fill="#0d0d0d"/>
<rect x="377.4" y="52.95" width="3" height="3.1" fill="#0d0d0d"/>
<rect x="377.4" y="60.65" width="3" height="2.1" fill="#4a4a4a"/>
<rect x="377.4" y="64.15" width="3" height="3.1" fill="#0d0d0d"/>
<rect x="377.4" y="69.35" width="3" height="3.2" fill="#4a4a4a"/>
<rect x="377.4" y="73.95" width="3" height="2.8" fill="#2f5e45"/>
<rect x="377.4" y="79.75" width="3" height="1.7" fill="#a0a0a0"/>
<rect x="377.4" y="84.45" width="3" height="4.6" fill="#0d0d0d"/>
<rect x="377.4" y="90.35" width="3" height="1.7" fill="#4a4a4a"/>
<rect x="377.4" y="93.05" width="3" height="2.1" fill="#0d0d0d"/>
<rect x="377.4" y="100.45" width="3" height="3.4" fill="#0d0d0d"/>
<rect x="377.4" y="105.15" width="3" height="2.1" fill="#0d0d0d"/>
<rect x="377.4" y="108.55" width="3" height="1.7" fill="#0d0d0d"/>
<rect x="377.4" y="113.25" width="3" height="2.1" fill="#4a4a4a"/>
<rect x="377.4" y="118.65" width="3" height="2.4" fill="#0d0d0d"/>
<rect x="377.4" y="123.55" width="3" height="1" fill="#a0a0a0"/>
<rect x="439.2" y="51.4" width="3.2" height="74.6" fill="#fff" stroke="#666" stroke-width="0.55"/>
<line x1="439.2" x2="442.4" y1="102.15" y2="102.15" stroke="#b0b0b0" stroke-width="0.45"/>
<line x1="439.2" x2="442.4" y1="113.7" y2="113.7" stroke="#b0b0b0" stroke-width="0.45"/>
<rect x="439.2" y="51.45" width="3.2" height="2.6" fill="#4a4a4a"/>
<rect x="439.2" y="56.85" width="3.2" height="3.7" fill="#0d0d0d"/>
<rect x="439.2" y="62.55" width="3.2" height="1.9" fill="#4a4a4a"/>
<rect x="439.2" y="65.65" width="3.2" height="4.2" fill="#0d0d0d"/>
<rect x="439.2" y="72.55" width="3.2" height="3" fill="#2f5e45"/>
<rect x="439.2" y="79.65" width="3.2" height="1.9" fill="#a0a0a0"/>
<rect x="439.2" y="83.85" width="3.2" height="1.3" fill="#a0a0a0"/>
<rect x="439.2" y="88.65" width="3.2" height="2.3" fill="#0d0d0d"/>
<rect x="439.2" y="92.15" width="3.2" height="1.9" fill="#4a4a4a"/>
<rect x="439.2" y="95.65" width="3.2" height="3.4" fill="#0d0d0d"/>
<rect x="439.2" y="105.25" width="3.2" height="2.3" fill="#4a4a4a"/>
<rect x="439.2" y="108.35" width="3.2" height="3" fill="#0d0d0d"/>
<rect x="439.2" y="116.05" width="3.2" height="1.8" fill="#4a4a4a"/>
<rect x="439.2" y="120.65" width="3.2" height="2.2" fill="#0d0d0d"/>
<rect x="513.1" y="54.3" width="3.5" height="69.7" fill="#fff" stroke="#666" stroke-width="0.55"/>
<line x1="513.1" x2="516.6" y1="101.9" y2="101.9" stroke="#b0b0b0" stroke-width="0.45"/>
<line x1="513.1" x2="516.6" y1="110.2" y2="110.2" stroke="#b0b0b0" stroke-width="0.45"/>
<rect x="513.1" y="57.95" width="3.5" height="3" fill="#0d0d0d"/>
<rect x="513.1" y="63.65" width="3.5" height="3" fill="#0d0d0d"/>
<rect x="513.1" y="68.05" width="3.5" height="2.7" fill="#0d0d0d"/>
<rect x="513.1" y="71.95" width="3.5" height="1.4" fill="#a0a0a0"/>
<rect x="513.1" y="75.15" width="3.5" height="1.9" fill="#2f5e45"/>
<rect x="513.1" y="77.65" width="3.5" height="5.7" fill="#1a9148"/>
<rect x="513.1" y="83.75" width="3.5" height="4.7" fill="#dc1f2e"/>
<rect x="513.1" y="90.05" width="3.5" height="2.5" fill="#4a4a4a"/>
<rect x="513.1" y="93.55" width="3.5" height="2.4" fill="#4a4a4a"/>
<rect x="513.1" y="97.15" width="3.5" height="1.5" fill="#a0a0a0"/>
<rect x="513.1" y="104.95" width="3.5" height="3" fill="#0d0d0d"/>
<rect x="513.1" y="112.45" width="3.5" height="3" fill="#0d0d0d"/>
<rect x="513.1" y="118.95" width="3.5" height="2.6" fill="#a0a0a0"/>
<rect x="35.7" y="176.2" width="3.5" height="68.8" fill="#fff" stroke="#666" stroke-width="0.55"/>
<line x1="35.7" x2="39.2" y1="192.4" y2="192.4" stroke="#b0b0b0" stroke-width="0.45"/>
<line x1="35.7" x2="39.2" y1="199.6" y2="199.6" stroke="#b0b0b0" stroke-width="0.45"/>
<rect x="35.7" y="178.05" width="3.5" height="3.5" fill="#0d0d0d"/>
<rect x="35.7" y="183.65" width="3.5" height="2.4" fill="#0d0d0d"/>
<rect x="35.7" y="187.75" width="3.5" height="2" fill="#a0a0a0"/>
<rect x="35.7" y="194.85" width="3.5" height="2.3" fill="#4a4a4a"/>
<rect x="35.7" y="202.05" width="3.5" height="4.1" fill="#0d0d0d"/>
<rect x="35.7" y="208.25" width="3.5" height="2.9" fill="#0d0d0d"/>
<rect x="35.7" y="213.45" width="3.5" height="2" fill="#a0a0a0"/>
<rect x="35.7" y="217.15" width="3.5" height="3" fill="#0d0d0d"/>
<rect x="35.7" y="221.15" width="3.5" height="2.3" fill="#4a4a4a"/>
<rect x="35.7" y="225.25" width="3.5" height="1.9" fill="#a0a0a0"/>
<rect x="35.7" y="229.45" width="3.5" height="2.9" fill="#0d0d0d"/>
<rect x="35.7" y="233.95" width="3.5" height="2.4" fill="#4a4a4a"/>
<rect x="35.7" y="239.55" width="3.5" height="2.4" fill="#4a4a4a"/>
<rect x="91.5" y="176.7" width="3.4" height="69.3" fill="#fff" stroke="#666" stroke-width="0.55"/>
<line x1="91.5" x2="94.9" y1="192.9" y2="192.9" stroke="#b0b0b0" stroke-width="0.45"/>
<line x1="91.5" x2="94.9" y1="209.7" y2="209.7" stroke="#b0b0b0" stroke-width="0.45"/>
<rect x="91.5" y="178.05" width="3.4" height="4" fill="#4a4a4a"/>
<rect x="91.5" y="183.05" width="3.4" height="2.4" fill="#4a4a4a"/>
<rect x="91.5" y="187.55" width="3.4" height="2.9" fill="#0d0d0d"/>
<rect x="91.5" y="195.35" width="3.4" height="4.1" fill="#0d0d0d"/>
<rect x="91.5" y="202.05" width="3.4" height="5.2" fill="#2f5e45"/>
<rect x="91.5" y="212.35" width="3.4" height="2" fill="#a0a0a0"/>
<rect x="91.5" y="216.05" width="3.4" height="4.1" fill="#0d0d0d"/>
<rect x="91.5" y="221.65" width="3.4" height="3" fill="#0d0d0d"/>
<rect x="91.5" y="226.15" width="3.4" height="6.8" fill="#0d0d0d"/>
<rect x="91.5" y="235.85" width="3.4" height="2" fill="#a0a0a0"/>
<rect x="91.5" y="241.25" width="3.4" height="2.9" fill="#4a4a4a"/>
<rect x="150.5" y="178.5" width="3.3" height="68.2" fill="#fff" stroke="#666" stroke-width="0.55"/>
<line x1="150.5" x2="153.8" y1="239.6" y2="239.6" stroke="#b0b0b0" stroke-width="0.45"/>
<rect x="150.5" y="179.45" width="3.3" height="2" fill="#a0a0a0"/>
<rect x="150.5" y="183.65" width="3.3" height="1.8" fill="#4a4a4a"/>
<rect x="150.5" y="185.85" width="3.3" height="2.9" fill="#0d0d0d"/>
<rect x="150.5" y="189.05" width="3.3" height="2.9" fill="#0d0d0d"/>
<rect x="150.5" y="196.15" width="3.3" height="5.1" fill="#0d0d0d"/>
<rect x="150.5" y="203.45" width="3.3" height="1.4" fill="#a0a0a0"/>
<rect x="150.5" y="207.05" width="3.3" height="2.9" fill="#0d0d0d"/>
<rect x="150.5" y="213.65" width="3.3" height="2.9" fill="#0d0d0d"/>
<rect x="150.5" y="218.55" width="3.3" height="3.4" fill="#0d0d0d"/>
<rect x="150.5" y="222.95" width="3.3" height="2.8" fill="#0d0d0d"/>
<rect x="150.5" y="227.25" width="3.3" height="2.9" fill="#0d0d0d"/>
<rect x="150.5" y="231.25" width="3.3" height="1.9" fill="#a0a0a0"/>
<rect x="150.5" y="234.35" width="3.3" height="2.3" fill="#4a4a4a"/>
<rect x="150.5" y="242.55" width="3.3" height="2.3" fill="#4a4a4a"/>
<rect x="216.8" y="187.7" width="3.4" height="58.9" fill="#fff" stroke="#666" stroke-width="0.55"/>
<line x1="216.8" x2="220.2" y1="200" y2="200" stroke="#b0b0b0" stroke-width="0.45"/>
<rect x="216.8" y="187.35" width="3.4" height="5" fill="#5a1030"/>
<rect x="216.8" y="191.65" width="3.4" height="3.5" fill="#dc1f2e"/>
<rect x="216.8" y="194.45" width="3.4" height="2.1" fill="#1a9148"/>
<rect x="216.8" y="203.65" width="3.4" height="1.4" fill="#a0a0a0"/>
<rect x="216.8" y="205.35" width="3.4" height="2.6" fill="#0d0d0d"/>
<rect x="216.8" y="211.05" width="3.4" height="1.7" fill="#4a4a4a"/>
<rect x="216.8" y="215.35" width="3.4" height="2.6" fill="#0d0d0d"/>
<rect x="216.8" y="219.65" width="3.4" height="1.7" fill="#4a4a4a"/>
<rect x="216.8" y="222.45" width="3.4" height="2.6" fill="#0d0d0d"/>
<rect x="216.8" y="227.75" width="3.4" height="4.9" fill="#0d0d0d"/>
<rect x="216.8" y="233.85" width="3.4" height="2.6" fill="#0d0d0d"/>
<rect x="216.8" y="239.15" width="3.4" height="2.1" fill="#4a4a4a"/>
<rect x="216.8" y="241.95" width="3.4" height="2.1" fill="#0d0d0d"/>
<rect x="269.5" y="191.4" width="3.2" height="54.5" fill="#fff" stroke="#666" stroke-width="0.55"/>
<rect x="269.5" y="191.05" width="3.2" height="3.4" fill="#5a1030"/>
<rect x="269.5" y="193.75" width="3.2" height="4.3" fill="#dc1f2e"/>
<rect x="269.5" y="197.35" width="3.2" height="3" fill="#1a9148"/>
<rect x="269.5" y="203.25" width="3.2" height="4.4" fill="#0d0d0d"/>
<rect x="269.5" y="210.15" width="3.2" height="2.9" fill="#0d0d0d"/>
<rect x="269.5" y="214.65" width="3.2" height="2.5" fill="#0d0d0d"/>
<rect x="269.5" y="220.55" width="3.2" height="2.1" fill="#0d0d0d"/>
<rect x="269.5" y="223.45" width="3.2" height="1.7" fill="#a0a0a0"/>
<rect x="269.5" y="226.65" width="3.2" height="1.7" fill="#a0a0a0"/>
<rect x="269.5" y="231.05" width="3.2" height="2.5" fill="#0d0d0d"/>
<rect x="269.5" y="234.15" width="3.2" height="2.1" fill="#0d0d0d"/>
<rect x="269.5" y="240.15" width="3.2" height="2" fill="#4a4a4a"/>
<rect x="326.8" y="192.2" width="3.4" height="51.5" fill="#fff" stroke="#666" stroke-width="0.55"/>
<rect x="326.8" y="191.85" width="3.4" height="4.1" fill="#5a1030"/>
<rect x="326.8" y="195.25" width="3.4" height="4.5" fill="#dc1f2e"/>
<rect x="326.8" y="199.55" width="3.4" height="2.6" fill="#1a9148"/>
<rect x="326.8" y="204.05" width="3.4" height="1.8" fill="#a0a0a0"/>
<rect x="326.8" y="208.65" width="3.4" height="3.1" fill="#0d0d0d"/>
<rect x="326.8" y="214.45" width="3.4" height="2.6" fill="#0d0d0d"/>
<rect x="326.8" y="218.75" width="3.4" height="3.1" fill="#0d0d0d"/>
<rect x="326.8" y="225.25" width="3.4" height="2.2" fill="#a0a0a0"/>
<rect x="326.8" y="231.25" width="3.4" height="2.2" fill="#4a4a4a"/>
<rect x="326.8" y="235.65" width="3.4" height="2.1" fill="#4a4a4a"/>
<rect x="326.8" y="239.45" width="3.4" height="2.6" fill="#0d0d0d"/>
<rect x="381.5" y="201.5" width="3.5" height="44.3" fill="#fff" stroke="#666" stroke-width="0.55"/>
<rect x="381.5" y="204.85" width="3.5" height="1.5" fill="#a0a0a0"/>
<rect x="381.5" y="210.05" width="3.5" height="2.2" fill="#2f5e45"/>
<rect x="381.5" y="213.35" width="3.5" height="1.4" fill="#a0a0a0"/>
<rect x="381.5" y="218.45" width="3.5" height="3.1" fill="#1a9148"/>
<rect x="381.5" y="221.15" width="3.5" height="3.4" fill="#8b2a1a"/>
<rect x="381.5" y="227.85" width="3.5" height="1.9" fill="#a0a0a0"/>
<rect x="381.5" y="230.85" width="3.5" height="3.3" fill="#0d0d0d"/>
<rect x="381.5" y="236.85" width="3.5" height="1.3" fill="#a0a0a0"/>
<rect x="381.5" y="239.65" width="3.5" height="2.2" fill="#0d0d0d"/>
<rect x="381.5" y="242.85" width="3.5" height="1.8" fill="#a0a0a0"/>
<rect x="438.3" y="203.8" width="3.2" height="40" fill="#fff" stroke="#666" stroke-width="0.55"/>
<line x1="438.3" x2="441.5" y1="214.6" y2="214.6" stroke="#b0b0b0" stroke-width="0.45"/>
<line x1="438.3" x2="441.5" y1="224.15" y2="224.15" stroke="#b0b0b0" stroke-width="0.45"/>
<line x1="438.3" x2="441.5" y1="240.9" y2="240.9" stroke="#b0b0b0" stroke-width="0.45"/>
<rect x="438.3" y="203.85" width="3.2" height="1.9" fill="#4a4a4a"/>
<rect x="438.3" y="208.15" width="3.2" height="3.4" fill="#0d0d0d"/>
<rect x="438.3" y="217.85" width="3.2" height="3.3" fill="#8c8c8c"/>
<rect x="438.3" y="226.95" width="3.2" height="3" fill="#4a4a4a"/>
<rect x="438.3" y="229.65" width="3.2" height="3" fill="#0d0d0d"/>
<rect x="438.3" y="236.15" width="3.2" height="2.2" fill="#0d0d0d"/>
<rect x="507.5" y="206.4" width="3.5" height="39" fill="#fff" stroke="#666" stroke-width="0.55"/>
<line x1="507.5" x2="511" y1="234.7" y2="234.7" stroke="#b0b0b0" stroke-width="0.45"/>
<rect x="507.5" y="207.25" width="3.5" height="2.6" fill="#4a4a4a"/>
<rect x="507.5" y="211.85" width="3.5" height="2.2" fill="#a0a0a0"/>
<rect x="507.5" y="217.95" width="3.5" height="3.9" fill="#0d0d0d"/>
<rect x="507.5" y="224.25" width="3.5" height="2.6" fill="#4a4a4a"/>
<rect x="507.5" y="229.95" width="3.5" height="2.6" fill="#4a4a4a"/>
<rect x="507.5" y="236.85" width="3.5" height="3.2" fill="#0d0d0d"/>
<rect x="507.5" y="241.45" width="3.5" height="1.6" fill="#a0a0a0"/>
<rect x="36.2" y="292" width="3.6" height="33.2" fill="#fff" stroke="#666" stroke-width="0.55"/>
<rect x="36.2" y="296.05" width="3.6" height="1.7" fill="#a0a0a0"/>
<rect x="36.2" y="299.55" width="3.6" height="1.3" fill="#a0a0a0"/>
<rect x="36.2" y="302.15" width="3.6" height="4.2" fill="#dc1f2e"/>
<rect x="36.2" y="305.65" width="3.6" height="2.1" fill="#6b5a1a"/>
<rect x="36.2" y="307.75" width="3.6" height="3.5" fill="#dc1f2e"/>
<rect x="36.2" y="312.45" width="3.6" height="1.7" fill="#7fbf8f"/>
<rect x="36.2" y="315.55" width="3.6" height="1.4" fill="#a0a0a0"/>
<rect x="36.2" y="317.85" width="3.6" height="1.6" fill="#8c8c8c"/>
<rect x="36.2" y="320.55" width="3.6" height="1.3" fill="#a0a0a0"/>
<rect x="36.2" y="323.45" width="3.6" height="1.8" fill="#4a4a4a"/>
<rect x="93" y="296.2" width="3.4" height="31.1" fill="#fff" stroke="#666" stroke-width="0.55"/>
<rect x="93" y="297.95" width="3.4" height="2.1" fill="#0d0d0d"/>
<rect x="93" y="301.75" width="3.4" height="2.8" fill="#0d0d0d"/>
<rect x="93" y="305.85" width="3.4" height="1.7" fill="#8c8c8c"/>
<rect x="93" y="308.75" width="3.4" height="1.8" fill="#4a4a4a"/>
<rect x="93" y="312.45" width="3.4" height="1.4" fill="#a0a0a0"/>
<rect x="93" y="314.35" width="3.4" height="2.5" fill="#0d0d0d"/>
<rect x="93" y="320.65" width="3.4" height="2.5" fill="#0d0d0d"/>
<rect x="93" y="324.05" width="3.4" height="1" fill="#a0a0a0"/>
<rect x="150.1" y="300.8" width="3.2" height="24.8" fill="#fff" stroke="#666" stroke-width="0.55"/>
<rect x="150.1" y="300.45" width="3.2" height="7" fill="#5a1030"/>
<rect x="150.1" y="308.45" width="3.2" height="4.2" fill="#0d0d0d"/>
<rect x="150.1" y="314.25" width="3.2" height="2.2" fill="#0d0d0d"/>
<rect x="150.1" y="318.55" width="3.2" height="1.6" fill="#a0a0a0"/>
<rect x="150.1" y="320.65" width="3.2" height="1.8" fill="#4a4a4a"/>
<rect x="214.8" y="304.1" width="3.4" height="25" fill="#fff" stroke="#666" stroke-width="0.55"/>
<rect x="214.8" y="303.75" width="3.4" height="4.6" fill="#5a1030"/>
<rect x="214.8" y="307.65" width="3.4" height="4.5" fill="#2f5e45"/>
<rect x="214.8" y="314.05" width="3.4" height="1.8" fill="#a0a0a0"/>
<rect x="214.8" y="316.25" width="3.4" height="2.2" fill="#4a4a4a"/>
<rect x="214.8" y="320.15" width="3.4" height="2.1" fill="#4a4a4a"/>
<rect x="214.8" y="323.95" width="3.4" height="2.7" fill="#4a4a4a"/>
<rect x="13.25" y="387.3" width="2.7" height="124.7" fill="#fff" stroke="#777" stroke-width="0.5"/>
<line x1="13.25" x2="15.95" y1="403.04" y2="403.04" stroke="#b0b0b0" stroke-width="0.45"/>
<line x1="13.25" x2="15.95" y1="407.25" y2="407.25" stroke="#b0b0b0" stroke-width="0.45"/>
<rect x="13.25" y="389.71" width="2.7" height="1.19" fill="#c4c4c4"/>
<rect x="13.25" y="393.55" width="2.7" height="2.08" fill="#0d0d0d"/>
<rect x="13.25" y="397.8" width="2.7" height="1.19" fill="#c4c4c4"/>
<rect x="13.25" y="411.1" width="2.7" height="1.98" fill="#0d0d0d"/>
<rect x="13.25" y="414.75" width="2.7" height="2.27" fill="#c4c4c4"/>
<rect x="13.25" y="418" width="2.7" height="1.98" fill="#c4c4c4"/>
<rect x="13.25" y="422.24" width="2.7" height="7.8" fill="#0d0d0d"/>
<rect x="13.25" y="431.7" width="2.7" height="1.98" fill="#0d0d0d"/>
<rect x="13.25" y="434.76" width="2.7" height="2.97" fill="#0d0d0d"/>
<rect x="13.25" y="439.2" width="2.7" height="2.67" fill="#0d0d0d"/>
<rect x="13.25" y="443.73" width="2.7" height="2.08" fill="#0d0d0d"/>
<rect x="13.25" y="447.28" width="2.7" height="1.68" fill="#c4c4c4"/>
<rect x="13.25" y="448.95" width="2.7" height="3.07" fill="#1a9148"/>
<rect x="13.25" y="452.21" width="2.7" height="6.81" fill="#dc1f2e"/>
<rect x="13.25" y="461.38" width="2.7" height="1.19" fill="#c4c4c4"/>
<rect x="13.25" y="463.94" width="2.7" height="1.59" fill="#0d0d0d"/>
<rect x="13.25" y="467" width="2.7" height="1.29" fill="#c4c4c4"/>
<rect x="13.25" y="469.76" width="2.7" height="1.29" fill="#c4c4c4"/>
<rect x="13.25" y="471.92" width="2.7" height="2.18" fill="#0d0d0d"/>
<rect x="13.25" y="474.68" width="2.7" height="2.18" fill="#555"/>
<rect x="13.25" y="479.51" width="2.7" height="2.97" fill="#0d0d0d"/>
<rect x="13.25" y="483.65" width="2.7" height="3.07" fill="#0d0d0d"/>
<rect x="13.25" y="489.67" width="2.7" height="1.29" fill="#c4c4c4"/>
<rect x="13.25" y="493.51" width="2.7" height="4.94" fill="#0d0d0d"/>
<rect x="13.25" y="502.48" width="2.7" height="1.59" fill="#0d0d0d"/>
<rect x="13.25" y="505.24" width="2.7" height="3.56" fill="#0d0d0d"/>
<rect x="125.55" y="390.5" width="2.7" height="118.3" fill="#fff" stroke="#777" stroke-width="0.5"/>
<rect x="125.55" y="392.45" width="2.7" height="1.35" fill="#c4c4c4"/>
<rect x="125.55" y="396.64" width="2.7" height="1.94" fill="#0d0d0d"/>
<rect x="125.55" y="400.08" width="2.7" height="2.04" fill="#0d0d0d"/>
<rect x="125.55" y="406.19" width="2.7" height="1.94" fill="#0d0d0d"/>
<rect x="125.55" y="409.45" width="2.7" height="1.16" fill="#c4c4c4"/>
<rect x="125.55" y="414.02" width="2.7" height="1.94" fill="#0d0d0d"/>
<rect x="125.55" y="417.93" width="2.7" height="2.42" fill="#0d0d0d"/>
<rect x="125.55" y="421.95" width="2.7" height="1.25" fill="#c4c4c4"/>
<rect x="125.55" y="424.63" width="2.7" height="1.16" fill="#c4c4c4"/>
<rect x="125.55" y="427.48" width="2.7" height="3.66" fill="#0d0d0d"/>
<rect x="125.55" y="434.83" width="2.7" height="2.42" fill="#1a9148"/>
<rect x="125.55" y="440.67" width="2.7" height="1.16" fill="#c4c4c4"/>
<rect x="125.55" y="446.1" width="2.7" height="2.04" fill="#555"/>
<rect x="125.55" y="449.54" width="2.7" height="4.61" fill="#555"/>
<rect x="125.55" y="457.08" width="2.7" height="2.99" fill="#0d0d0d"/>
<rect x="125.55" y="460.71" width="2.7" height="2.51" fill="#0d0d0d"/>
<rect x="125.55" y="465.77" width="2.7" height="2.99" fill="#0d0d0d"/>
<rect x="125.55" y="470.74" width="2.7" height="2.51" fill="#0d0d0d"/>
<rect x="125.55" y="477.33" width="2.7" height="1.16" fill="#c4c4c4"/>
<rect x="125.55" y="479.42" width="2.7" height="3.37" fill="#0d0d0d"/>
<rect x="125.55" y="484.39" width="2.7" height="2.51" fill="#0d0d0d"/>
<rect x="125.55" y="489.27" width="2.7" height="1.25" fill="#c4c4c4"/>
<rect x="125.55" y="492.6" width="2.7" height="3.37" fill="#0d0d0d"/>
<rect x="125.55" y="498.52" width="2.7" height="1.56" fill="#555"/>
<rect x="125.55" y="500.33" width="2.7" height="2.9" fill="#0d0d0d"/>
<rect x="125.55" y="504.07" width="2.7" height="1.25" fill="#c4c4c4"/>
<rect x="168.15" y="412" width="2.7" height="91" fill="#fff" stroke="#777" stroke-width="0.5"/>
<line x1="168.15" x2="170.85" y1="434.49" y2="434.49" stroke="#b0b0b0" stroke-width="0.45"/>
<rect x="168.15" y="411.85" width="2.7" height="1.36" fill="#c4c4c4"/>
<rect x="168.15" y="414.03" width="2.7" height="1.67" fill="#555"/>
<rect x="168.15" y="419.67" width="2.7" height="3.35" fill="#0d0d0d"/>
<rect x="168.15" y="424.61" width="2.7" height="1.76" fill="#0d0d0d"/>
<rect x="168.15" y="427.96" width="2.7" height="1.76" fill="#555"/>
<rect x="168.15" y="430.34" width="2.7" height="1.67" fill="#555"/>
<rect x="168.15" y="437.16" width="2.7" height="1.62" fill="#c4c4c4"/>
<rect x="168.15" y="441.21" width="2.7" height="1.62" fill="#c4c4c4"/>
<rect x="168.15" y="446.3" width="2.7" height="2.02" fill="#0d0d0d"/>
<rect x="168.15" y="450.62" width="2.7" height="3.35" fill="#1a9148"/>
<rect x="168.15" y="454.33" width="2.7" height="3.87" fill="#dc1f2e"/>
<rect x="168.15" y="459.71" width="2.7" height="1.85" fill="#333"/>
<rect x="168.15" y="462.11" width="2.7" height="1.45" fill="#b0b0b0"/>
<rect x="168.15" y="464.56" width="2.7" height="1.76" fill="#0d0d0d"/>
<rect x="168.15" y="466.76" width="2.7" height="1.85" fill="#0d0d0d"/>
<rect x="168.15" y="472.69" width="2.7" height="1.18" fill="#c4c4c4"/>
<rect x="168.15" y="477.78" width="2.7" height="2.99" fill="#0d0d0d"/>
<rect x="168.15" y="482.39" width="2.7" height="1.18" fill="#c4c4c4"/>
<rect x="168.15" y="485.98" width="2.7" height="3.26" fill="#0d0d0d"/>
<rect x="168.15" y="490.75" width="2.7" height="2.2" fill="#0d0d0d"/>
<rect x="168.15" y="494.54" width="2.7" height="1.76" fill="#0d0d0d"/>
<rect x="168.15" y="498.51" width="2.7" height="2.2" fill="#0d0d0d"/>
<rect x="210.05" y="417" width="2.7" height="86.8" fill="#fff" stroke="#777" stroke-width="0.5"/>
<line x1="210.05" x2="212.75" y1="485.19" y2="485.19" stroke="#b0b0b0" stroke-width="0.45"/>
<rect x="210.05" y="417.81" width="2.7" height="1.35" fill="#c4c4c4"/>
<rect x="210.05" y="422.26" width="2.7" height="2.01" fill="#555"/>
<rect x="210.05" y="425.58" width="2.7" height="2.01" fill="#0d0d0d"/>
<rect x="210.05" y="430.23" width="2.7" height="3.33" fill="#0d0d0d"/>
<rect x="210.05" y="436.18" width="2.7" height="2.01" fill="#333"/>
<rect x="210.05" y="439.51" width="2.7" height="2.01" fill="#333"/>
<rect x="210.05" y="444.42" width="2.7" height="3.06" fill="#0d0d0d"/>
<rect x="210.05" y="449.41" width="2.7" height="2.36" fill="#0d0d0d"/>
<rect x="210.05" y="453.09" width="2.7" height="1.66" fill="#555"/>
<rect x="210.05" y="457.29" width="2.7" height="4.64" fill="#0d0d0d"/>
<rect x="210.05" y="463.53" width="2.7" height="2.31" fill="#c4c4c4"/>
<rect x="210.05" y="469.12" width="2.7" height="2.8" fill="#0d0d0d"/>
<rect x="210.05" y="473.78" width="2.7" height="1.7" fill="#c4c4c4"/>
<rect x="210.05" y="477" width="2.7" height="3.77" fill="#0d0d0d"/>
<rect x="210.05" y="480.96" width="2.7" height="1.53" fill="#c4c4c4"/>
<rect x="210.05" y="487.68" width="2.7" height="3.42" fill="#0d0d0d"/>
<rect x="210.05" y="491.8" width="2.7" height="2.71" fill="#0d0d0d"/>
<rect x="210.05" y="495.13" width="2.7" height="2.1" fill="#555"/>
<rect x="210.05" y="497.58" width="2.7" height="2.8" fill="#0d0d0d"/>
<rect x="210.05" y="501.46" width="2.7" height="1.61" fill="#c4c4c4"/>
<rect x="254.95" y="416" width="2.7" height="81.8" fill="#fff" stroke="#777" stroke-width="0.5"/>
<line x1="254.95" x2="257.65" y1="478.57" y2="478.57" stroke="#b0b0b0" stroke-width="0.45"/>
<rect x="254.95" y="417.16" width="2.7" height="1.17" fill="#c4c4c4"/>
<rect x="254.95" y="420.62" width="2.7" height="2.36" fill="#555"/>
<rect x="254.95" y="424.55" width="2.7" height="2.01" fill="#0d0d0d"/>
<rect x="254.95" y="427.16" width="2.7" height="2.36" fill="#0d0d0d"/>
<rect x="254.95" y="431.98" width="2.7" height="1.17" fill="#c4c4c4"/>
<rect x="254.95" y="435.1" width="2.7" height="3.67" fill="#333"/>
<rect x="254.95" y="442.68" width="2.7" height="3.32" fill="#0d0d0d"/>
<rect x="254.95" y="447.31" width="2.7" height="2.01" fill="#555"/>
<rect x="254.95" y="450.62" width="2.7" height="1.92" fill="#555"/>
<rect x="254.95" y="453.58" width="2.7" height="3.75" fill="#0d0d0d"/>
<rect x="254.95" y="459.95" width="2.7" height="2.36" fill="#0d0d0d"/>
<rect x="254.95" y="463.18" width="2.7" height="2.44" fill="#0d0d0d"/>
<rect x="254.95" y="468.15" width="2.7" height="2.71" fill="#0d0d0d"/>
<rect x="254.95" y="473.73" width="2.7" height="2.1" fill="#0d0d0d"/>
<rect x="254.95" y="481.32" width="2.7" height="2.01" fill="#555"/>
<rect x="254.95" y="484.48" width="2.7" height="1.35" fill="#c4c4c4"/>
<rect x="254.95" y="488.29" width="2.7" height="3.93" fill="#0d0d0d"/>
<rect x="254.95" y="494.34" width="2.7" height="1.61" fill="#c4c4c4"/>
<rect x="307.35" y="420" width="2.7" height="77.8" fill="#fff" stroke="#777" stroke-width="0.5"/>
<rect x="307.35" y="422.15" width="2.7" height="2.22" fill="#555"/>
<rect x="307.35" y="426.53" width="2.7" height="3.83" fill="#0d0d0d"/>
<rect x="307.35" y="431.73" width="2.7" height="1.19" fill="#c4c4c4"/>
<rect x="307.35" y="436.02" width="2.7" height="1.19" fill="#c4c4c4"/>
<rect x="307.35" y="440.91" width="2.7" height="2.22" fill="#0d0d0d"/>
<rect x="307.35" y="443.68" width="2.7" height="2.31" fill="#0d0d0d"/>
<rect x="307.35" y="447.79" width="2.7" height="4.09" fill="#333"/>
<rect x="307.35" y="454.78" width="2.7" height="2.98" fill="#b0b0b0"/>
<rect x="307.35" y="461.72" width="2.7" height="3.2" fill="#0d0d0d"/>
<rect x="307.35" y="465.92" width="2.7" height="2.4" fill="#0d0d0d"/>
<rect x="307.35" y="472.44" width="2.7" height="4.81" fill="#0d0d0d"/>
<rect x="307.35" y="477.46" width="2.7" height="1.73" fill="#c4c4c4"/>
<rect x="307.35" y="483.43" width="2.7" height="2.04" fill="#0d0d0d"/>
<rect x="307.35" y="486.55" width="2.7" height="2.04" fill="#0d0d0d"/>
<rect x="307.35" y="489.59" width="2.7" height="2.13" fill="#555"/>
<rect x="307.35" y="493.7" width="2.7" height="2.13" fill="#555"/>
<rect x="337.9" y="424" width="2.7" height="73" fill="#fff" stroke="#777" stroke-width="0.5"/>
<line x1="337.9" x2="340.6" y1="470.81" y2="470.81" stroke="#b0b0b0" stroke-width="0.45"/>
<rect x="337.9" y="426.79" width="2.7" height="2.85" fill="#0d0d0d"/>
<rect x="337.9" y="430.56" width="2.7" height="2.85" fill="#0d0d0d"/>
<rect x="337.9" y="437.46" width="2.7" height="1.96" fill="#555"/>
<rect x="337.9" y="440.6" width="2.7" height="2.85" fill="#0d0d0d"/>
<rect x="337.9" y="445.26" width="2.7" height="2.94" fill="#555"/>
<rect x="337.9" y="449.39" width="2.7" height="2.58" fill="#333"/>
<rect x="337.9" y="454.61" width="2.7" height="1.56" fill="#c4c4c4"/>
<rect x="337.9" y="458.8" width="2.7" height="4.2" fill="#0d0d0d"/>
<rect x="337.9" y="464.1" width="2.7" height="1.6" fill="#555"/>
<rect x="337.9" y="466.52" width="2.7" height="1.96" fill="#0d0d0d"/>
<rect x="337.9" y="473.15" width="2.7" height="3.12" fill="#0d0d0d"/>
<rect x="337.9" y="477.37" width="2.7" height="1.96" fill="#0d0d0d"/>
<rect x="337.9" y="480.42" width="2.7" height="1.6" fill="#0d0d0d"/>
<rect x="337.9" y="484.63" width="2.7" height="1.96" fill="#555"/>
<rect x="337.9" y="489.48" width="2.7" height="2.22" fill="#0d0d0d"/>
<rect x="337.9" y="493.89" width="2.7" height="0.93" fill="#c4c4c4"/>
<rect x="371.35" y="431.7" width="2.7" height="66.1" fill="#fff" stroke="#777" stroke-width="0.5"/>
<line x1="371.35" x2="374.05" y1="476.67" y2="476.67" stroke="#b0b0b0" stroke-width="0.45"/>
<rect x="371.35" y="431.7" width="2.7" height="2.38" fill="#555"/>
<rect x="371.35" y="436.49" width="2.7" height="3.36" fill="#0d0d0d"/>
<rect x="371.35" y="441.54" width="2.7" height="1.76" fill="#555"/>
<rect x="371.35" y="444.29" width="2.7" height="3.8" fill="#0d0d0d"/>
<rect x="371.35" y="450.4" width="2.7" height="2.74" fill="#333"/>
<rect x="371.35" y="456.71" width="2.7" height="1.72" fill="#c4c4c4"/>
<rect x="371.35" y="460.44" width="2.7" height="1.19" fill="#c4c4c4"/>
<rect x="371.35" y="464.67" width="2.7" height="2.12" fill="#0d0d0d"/>
<rect x="371.35" y="467.77" width="2.7" height="1.76" fill="#555"/>
<rect x="371.35" y="470.87" width="2.7" height="3.09" fill="#0d0d0d"/>
<rect x="371.35" y="479.37" width="2.7" height="2.12" fill="#555"/>
<rect x="371.35" y="482.12" width="2.7" height="2.74" fill="#0d0d0d"/>
<rect x="371.35" y="488.94" width="2.7" height="1.67" fill="#555"/>
<rect x="371.35" y="493.02" width="2.7" height="2.03" fill="#0d0d0d"/>
<rect x="410.55" y="435.3" width="2.7" height="62.4" fill="#fff" stroke="#777" stroke-width="0.5"/>
<line x1="410.55" x2="413.25" y1="477.91" y2="477.91" stroke="#b0b0b0" stroke-width="0.45"/>
<rect x="410.55" y="438.53" width="2.7" height="2.76" fill="#0d0d0d"/>
<rect x="410.55" y="443.63" width="2.7" height="2.76" fill="#0d0d0d"/>
<rect x="410.55" y="447.57" width="2.7" height="2.49" fill="#0d0d0d"/>
<rect x="410.55" y="451.09" width="2.7" height="1.28" fill="#c4c4c4"/>
<rect x="410.55" y="453.93" width="2.7" height="1.77" fill="#333"/>
<rect x="410.55" y="456.17" width="2.7" height="5.18" fill="#1a9148"/>
<rect x="410.55" y="461.63" width="2.7" height="4.28" fill="#dc1f2e"/>
<rect x="410.55" y="467.27" width="2.7" height="2.31" fill="#555"/>
<rect x="410.55" y="470.4" width="2.7" height="2.22" fill="#555"/>
<rect x="410.55" y="473.65" width="2.7" height="1.37" fill="#c4c4c4"/>
<rect x="410.55" y="480.61" width="2.7" height="2.76" fill="#0d0d0d"/>
<rect x="410.55" y="487.32" width="2.7" height="2.76" fill="#0d0d0d"/>
<rect x="410.55" y="493.16" width="2.7" height="2.36" fill="#c4c4c4"/>
<rect x="28.25" y="545.3" width="2.7" height="61.7" fill="#fff" stroke="#777" stroke-width="0.5"/>
<line x1="28.25" x2="30.95" y1="559.83" y2="559.83" stroke="#b0b0b0" stroke-width="0.45"/>
<line x1="28.25" x2="30.95" y1="566.29" y2="566.29" stroke="#b0b0b0" stroke-width="0.45"/>
<rect x="28.25" y="546.92" width="2.7" height="3.21" fill="#0d0d0d"/>
<rect x="28.25" y="551.95" width="2.7" height="2.22" fill="#0d0d0d"/>
<rect x="28.25" y="555.64" width="2.7" height="1.82" fill="#c4c4c4"/>
<rect x="28.25" y="561.99" width="2.7" height="2.13" fill="#555"/>
<rect x="28.25" y="568.45" width="2.7" height="3.75" fill="#0d0d0d"/>
<rect x="28.25" y="574.01" width="2.7" height="2.67" fill="#0d0d0d"/>
<rect x="28.25" y="578.69" width="2.7" height="1.82" fill="#c4c4c4"/>
<rect x="28.25" y="581.99" width="2.7" height="2.76" fill="#0d0d0d"/>
<rect x="28.25" y="585.58" width="2.7" height="2.13" fill="#555"/>
<rect x="28.25" y="589.27" width="2.7" height="1.73" fill="#c4c4c4"/>
<rect x="28.25" y="593.02" width="2.7" height="2.67" fill="#0d0d0d"/>
<rect x="28.25" y="597.05" width="2.7" height="2.22" fill="#555"/>
<rect x="28.25" y="602.08" width="2.7" height="2.22" fill="#555"/>
<rect x="85.15" y="545.5" width="2.7" height="60.5" fill="#fff" stroke="#777" stroke-width="0.5"/>
<rect x="85.15" y="546.63" width="2.7" height="3.58" fill="#555"/>
<rect x="85.15" y="551" width="2.7" height="2.18" fill="#555"/>
<rect x="85.15" y="554.93" width="2.7" height="2.62" fill="#0d0d0d"/>
<rect x="85.15" y="561.74" width="2.7" height="3.67" fill="#0d0d0d"/>
<rect x="85.15" y="567.59" width="2.7" height="4.63" fill="#333"/>
<rect x="85.15" y="576.6" width="2.7" height="1.78" fill="#c4c4c4"/>
<rect x="85.15" y="579.81" width="2.7" height="3.67" fill="#0d0d0d"/>
<rect x="85.15" y="584.7" width="2.7" height="2.71" fill="#0d0d0d"/>
<rect x="85.15" y="588.63" width="2.7" height="6.03" fill="#0d0d0d"/>
<rect x="85.15" y="597.12" width="2.7" height="1.78" fill="#c4c4c4"/>
<rect x="85.15" y="601.81" width="2.7" height="2.62" fill="#555"/>
<rect x="143.5" y="546.2" width="2.7" height="58.8" fill="#fff" stroke="#777" stroke-width="0.5"/>
<line x1="143.5" x2="146.2" y1="598.88" y2="598.88" stroke="#b0b0b0" stroke-width="0.45"/>
<rect x="143.5" y="547" width="2.7" height="1.77" fill="#c4c4c4"/>
<rect x="143.5" y="550.59" width="2.7" height="1.65" fill="#555"/>
<rect x="143.5" y="552.49" width="2.7" height="2.6" fill="#0d0d0d"/>
<rect x="143.5" y="555.25" width="2.7" height="2.6" fill="#0d0d0d"/>
<rect x="143.5" y="561.37" width="2.7" height="4.49" fill="#0d0d0d"/>
<rect x="143.5" y="567.69" width="2.7" height="1.25" fill="#c4c4c4"/>
<rect x="143.5" y="570.77" width="2.7" height="2.6" fill="#0d0d0d"/>
<rect x="143.5" y="576.46" width="2.7" height="2.6" fill="#0d0d0d"/>
<rect x="143.5" y="580.68" width="2.7" height="3.03" fill="#0d0d0d"/>
<rect x="143.5" y="584.48" width="2.7" height="2.51" fill="#0d0d0d"/>
<rect x="143.5" y="588.18" width="2.7" height="2.6" fill="#0d0d0d"/>
<rect x="143.5" y="591.66" width="2.7" height="1.68" fill="#c4c4c4"/>
<rect x="143.5" y="594.3" width="2.7" height="2.08" fill="#555"/>
<rect x="143.5" y="601.37" width="2.7" height="2.08" fill="#555"/>
<rect x="186.05" y="554.6" width="2.7" height="53" fill="#fff" stroke="#777" stroke-width="0.5"/>
<line x1="186.05" x2="188.75" y1="565.67" y2="565.67" stroke="#b0b0b0" stroke-width="0.45"/>
<rect x="186.05" y="554.25" width="2.7" height="4.57" fill="#5a1030"/>
<rect x="186.05" y="558.12" width="2.7" height="3.22" fill="#dc1f2e"/>
<rect x="186.05" y="560.64" width="2.7" height="1.96" fill="#1a9148"/>
<rect x="186.05" y="568.94" width="2.7" height="1.29" fill="#c4c4c4"/>
<rect x="186.05" y="570.45" width="2.7" height="2.41" fill="#0d0d0d"/>
<rect x="186.05" y="575.58" width="2.7" height="1.6" fill="#555"/>
<rect x="186.05" y="579.45" width="2.7" height="2.41" fill="#0d0d0d"/>
<rect x="186.05" y="583.31" width="2.7" height="1.6" fill="#555"/>
<rect x="186.05" y="585.83" width="2.7" height="2.41" fill="#0d0d0d"/>
<rect x="186.05" y="590.6" width="2.7" height="4.48" fill="#0d0d0d"/>
<rect x="186.05" y="596.09" width="2.7" height="2.41" fill="#0d0d0d"/>
<rect x="186.05" y="600.86" width="2.7" height="1.96" fill="#555"/>
<rect x="186.05" y="603.38" width="2.7" height="1.96" fill="#0d0d0d"/>
<rect x="314.8" y="560.6" width="2.7" height="48.6" fill="#fff" stroke="#777" stroke-width="0.5"/>
<rect x="314.8" y="560.25" width="2.7" height="3.11" fill="#5a1030"/>
<rect x="314.8" y="562.66" width="2.7" height="3.91" fill="#dc1f2e"/>
<rect x="314.8" y="565.87" width="2.7" height="2.75" fill="#1a9148"/>
<rect x="314.8" y="571.13" width="2.7" height="4" fill="#0d0d0d"/>
<rect x="314.8" y="577.28" width="2.7" height="2.66" fill="#0d0d0d"/>
<rect x="314.8" y="581.3" width="2.7" height="2.31" fill="#0d0d0d"/>
<rect x="314.8" y="586.56" width="2.7" height="1.95" fill="#0d0d0d"/>
<rect x="314.8" y="589.16" width="2.7" height="1.55" fill="#c4c4c4"/>
<rect x="314.8" y="592.02" width="2.7" height="1.55" fill="#c4c4c4"/>
<rect x="314.8" y="595.92" width="2.7" height="2.31" fill="#0d0d0d"/>
<rect x="314.8" y="598.68" width="2.7" height="1.95" fill="#0d0d0d"/>
<rect x="314.8" y="604.03" width="2.7" height="1.86" fill="#555"/>
<rect x="361.95" y="563.8" width="2.7" height="45.4" fill="#fff" stroke="#777" stroke-width="0.5"/>
<rect x="361.95" y="563.45" width="2.7" height="3.7" fill="#5a1030"/>
<rect x="361.95" y="566.45" width="2.7" height="4.05" fill="#dc1f2e"/>
<rect x="361.95" y="570.24" width="2.7" height="2.37" fill="#1a9148"/>
<rect x="361.95" y="574.23" width="2.7" height="1.62" fill="#c4c4c4"/>
<rect x="361.95" y="578.26" width="2.7" height="2.82" fill="#0d0d0d"/>
<rect x="361.95" y="583.37" width="2.7" height="2.37" fill="#0d0d0d"/>
<rect x="361.95" y="587.16" width="2.7" height="2.82" fill="#0d0d0d"/>
<rect x="361.95" y="592.92" width="2.7" height="1.97" fill="#c4c4c4"/>
<rect x="361.95" y="598.18" width="2.7" height="2.02" fill="#555"/>
<rect x="361.95" y="602.06" width="2.7" height="1.93" fill="#555"/>
<rect x="361.95" y="605.41" width="2.7" height="2.37" fill="#0d0d0d"/>
<rect x="406.15" y="568" width="2.7" height="40" fill="#fff" stroke="#777" stroke-width="0.5"/>
<rect x="406.15" y="571.01" width="2.7" height="1.38" fill="#c4c4c4"/>
<rect x="406.15" y="575.69" width="2.7" height="2.05" fill="#333"/>
<rect x="406.15" y="578.69" width="2.7" height="1.29" fill="#c4c4c4"/>
<rect x="406.15" y="583.27" width="2.7" height="2.87" fill="#1a9148"/>
<rect x="406.15" y="585.71" width="2.7" height="3.14" fill="#8b2a1a"/>
<rect x="406.15" y="591.78" width="2.7" height="1.74" fill="#c4c4c4"/>
<rect x="406.15" y="594.47" width="2.7" height="3.05" fill="#0d0d0d"/>
<rect x="406.15" y="599.9" width="2.7" height="1.2" fill="#c4c4c4"/>
<rect x="406.15" y="602.41" width="2.7" height="2.05" fill="#0d0d0d"/>
<rect x="406.15" y="605.32" width="2.7" height="1.65" fill="#c4c4c4"/>
<rect x="454.15" y="575" width="2.7" height="35.5" fill="#fff" stroke="#777" stroke-width="0.5"/>
<line x1="454.15" x2="456.85" y1="584.59" y2="584.59" stroke="#b0b0b0" stroke-width="0.45"/>
<line x1="454.15" x2="456.85" y1="593.06" y2="593.06" stroke="#b0b0b0" stroke-width="0.45"/>
<line x1="454.15" x2="456.85" y1="607.93" y2="607.93" stroke="#b0b0b0" stroke-width="0.45"/>
<rect x="454.15" y="575" width="2.7" height="1.76" fill="#555"/>
<rect x="454.15" y="578.82" width="2.7" height="3.1" fill="#0d0d0d"/>
<rect x="454.15" y="587.45" width="2.7" height="2.96" fill="#b0b0b0"/>
<rect x="454.15" y="595.51" width="2.7" height="2.74" fill="#555"/>
<rect x="454.15" y="597.9" width="2.7" height="2.74" fill="#0d0d0d"/>
<rect x="454.15" y="603.67" width="2.7" height="2.03" fill="#0d0d0d"/>
<rect x="495.7" y="573" width="2.7" height="34" fill="#fff" stroke="#777" stroke-width="0.5"/>
<rect x="495.7" y="573.7" width="2.7" height="2.36" fill="#555"/>
<rect x="495.7" y="577.73" width="2.7" height="1.96" fill="#c4c4c4"/>
<rect x="495.7" y="583.02" width="2.7" height="3.49" fill="#0d0d0d"/>
<rect x="495.7" y="588.52" width="2.7" height="2.36" fill="#555"/>
<rect x="495.7" y="593.49" width="2.7" height="2.36" fill="#555"/>
<rect x="495.7" y="599.5" width="2.7" height="2.88" fill="#0d0d0d"/>
<rect x="495.7" y="603.54" width="2.7" height="1.43" fill="#c4c4c4"/>
<rect x="27" y="671.5" width="2.7" height="28.9" fill="#fff" stroke="#777" stroke-width="0.5"/>
<rect x="27" y="675.01" width="2.7" height="1.52" fill="#c4c4c4"/>
<rect x="27" y="678.05" width="2.7" height="1.17" fill="#c4c4c4"/>
<rect x="27" y="680.29" width="2.7" height="3.75" fill="#dc1f2e"/>
<rect x="27" y="683.34" width="2.7" height="1.92" fill="#6b5a1a"/>
<rect x="27" y="685.16" width="2.7" height="3.14" fill="#dc1f2e"/>
<rect x="27" y="689.28" width="2.7" height="1.52" fill="#7fbf8f"/>
<rect x="27" y="691.98" width="2.7" height="1.26" fill="#c4c4c4"/>
<rect x="27" y="693.98" width="2.7" height="1.43" fill="#b0b0b0"/>
<rect x="27" y="696.33" width="2.7" height="1.17" fill="#c4c4c4"/>
<rect x="27" y="698.83" width="2.7" height="1.66" fill="#555"/>
<rect x="84.3" y="672.5" width="2.7" height="26.9" fill="#fff" stroke="#777" stroke-width="0.5"/>
<rect x="84.3" y="673.97" width="2.7" height="1.91" fill="#0d0d0d"/>
<rect x="84.3" y="677.25" width="2.7" height="2.52" fill="#0d0d0d"/>
<rect x="84.3" y="680.83" width="2.7" height="1.51" fill="#b0b0b0"/>
<rect x="84.3" y="683.31" width="2.7" height="1.65" fill="#555"/>
<rect x="84.3" y="686.54" width="2.7" height="1.25" fill="#c4c4c4"/>
<rect x="84.3" y="688.15" width="2.7" height="2.26" fill="#0d0d0d"/>
<rect x="84.3" y="693.6" width="2.7" height="2.26" fill="#0d0d0d"/>
<rect x="84.3" y="696.57" width="2.7" height="0.91" fill="#c4c4c4"/>
<rect x="143.7" y="678" width="2.7" height="21" fill="#fff" stroke="#777" stroke-width="0.5"/>
<rect x="143.7" y="677.65" width="2.7" height="6.03" fill="#5a1030"/>
<rect x="143.7" y="684.42" width="2.7" height="3.66" fill="#0d0d0d"/>
<rect x="143.7" y="689.34" width="2.7" height="1.97" fill="#0d0d0d"/>
<rect x="143.7" y="693.01" width="2.7" height="1.4" fill="#c4c4c4"/>
<rect x="143.7" y="694.75" width="2.7" height="1.63" fill="#555"/>
<rect x="203.65" y="678.2" width="2.7" height="22" fill="#fff" stroke="#777" stroke-width="0.5"/>
<rect x="203.65" y="677.85" width="2.7" height="4.13" fill="#5a1030"/>
<rect x="203.65" y="681.28" width="2.7" height="4.04" fill="#333"/>
<rect x="203.65" y="686.94" width="2.7" height="1.62" fill="#c4c4c4"/>
<rect x="203.65" y="688.85" width="2.7" height="2.02" fill="#555"/>
<rect x="203.65" y="692.28" width="2.7" height="1.93" fill="#555"/>
<rect x="203.65" y="695.63" width="2.7" height="2.46" fill="#555"/>
<text x="33.12" y="145" text-anchor="middle" class="n">1</text>
<text x="91.5" y="145" text-anchor="middle" class="n">2</text>
<text x="150.25" y="145" text-anchor="middle" class="n">3</text>
<text x="212.25" y="145" text-anchor="middle" class="n">4</text>
<text x="269.75" y="145" text-anchor="middle" class="n">5</text>
<text x="328.38" y="145" text-anchor="middle" class="n">6</text>
<text x="380.62" y="145" text-anchor="middle" class="n">7</text>
<text x="437.75" y="145" text-anchor="middle" class="n">8</text>
<text x="512.25" y="145" text-anchor="middle" class="n">9</text>
<text x="36.5" y="267.8" text-anchor="middle" class="n">10</text>
<text x="93.5" y="267.8" text-anchor="middle" class="n">11</text>
<text x="153.5" y="267.8" text-anchor="middle" class="n">12</text>
<text x="215.5" y="267.8" text-anchor="middle" class="n">13</text>
<text x="272" y="267.8" text-anchor="middle" class="n">14</text>
<text x="326.5" y="267.8" text-anchor="middle" class="n">15</text>
<text x="383.5" y="267.8" text-anchor="middle" class="n">16</text>
<text x="440.5" y="267.8" text-anchor="middle" class="n">17</text>
<text x="512.75" y="267.8" text-anchor="middle" class="n">18</text>
<text x="35.5" y="345.5" text-anchor="middle" class="n">19</text>
<text x="93.75" y="345.5" text-anchor="middle" class="n">20</text>
<text x="152.88" y="345.5" text-anchor="middle" class="n">21</text>
<text x="214.88" y="345.5" text-anchor="middle" class="n">22</text>
<text x="13.85" y="527.3" text-anchor="middle" class="n">1</text>
<text x="127.15" y="527.3" text-anchor="middle" class="n">2</text>
<text x="168.45" y="527.3" text-anchor="middle" class="n">3</text>
<text x="211.15" y="527.3" text-anchor="middle" class="n">4</text>
<text x="256.55" y="527.3" text-anchor="middle" class="n">5</text>
<text x="308.45" y="527.3" text-anchor="middle" class="n">6</text>
<text x="338.7" y="527.3" text-anchor="middle" class="n">7</text>
<text x="372.3" y="527.3" text-anchor="middle" class="n">8</text>
<text x="436.95" y="527.3" text-anchor="middle" class="n">9</text>
<text x="28.38" y="624" text-anchor="middle" class="n">10</text>
<text x="86.88" y="624" text-anchor="middle" class="n">11</text>
<text x="145.3" y="624.5" text-anchor="middle" class="n">12</text>
<text x="188.1" y="624.4" text-anchor="middle" class="n">13</text>
<text x="315.7" y="624" text-anchor="middle" class="n">14</text>
<text x="363.15" y="624" text-anchor="middle" class="n">15</text>
<text x="407.5" y="623.8" text-anchor="middle" class="n">16</text>
<text x="455.5" y="624" text-anchor="middle" class="n">17</text>
<text x="496.25" y="624" text-anchor="middle" class="n">18</text>
<text x="28.35" y="713.8" text-anchor="middle" class="n">19</text>
<text x="86.55" y="713.8" text-anchor="middle" class="n">20</text>
<text x="144.45" y="714" text-anchor="middle" class="n">21</text>
<text x="205.15" y="713.6" text-anchor="middle" class="n">22</text>
<rect x="30.27" y="144" width="2.4" height="2.4" fill="#fff"/>
<rect x="33.9" y="144" width="2.86" height="2.4" fill="#fff"/>
<rect x="30.58" y="266.8" width="2.4" height="2.4" fill="#fff"/>
<rect x="34.22" y="266.8" width="2.86" height="2.4" fill="#fff"/>
<rect x="87.58" y="266.8" width="2.4" height="2.4" fill="#fff"/>
<rect x="91.22" y="266.8" width="2.86" height="2.4" fill="#fff"/>
<rect x="93.7" y="266.8" width="2.4" height="2.4" fill="#fff"/>
<rect x="97.34" y="266.8" width="2.86" height="2.4" fill="#fff"/>
<rect x="147.58" y="266.8" width="2.4" height="2.4" fill="#fff"/>
<rect x="151.22" y="266.8" width="2.86" height="2.4" fill="#fff"/>
<rect x="209.58" y="266.8" width="2.4" height="2.4" fill="#fff"/>
<rect x="213.22" y="266.8" width="2.86" height="2.4" fill="#fff"/>
<rect x="266.08" y="266.8" width="2.4" height="2.4" fill="#fff"/>
<rect x="269.72" y="266.8" width="2.86" height="2.4" fill="#fff"/>
<rect x="320.58" y="266.8" width="2.4" height="2.4" fill="#fff"/>
<rect x="324.22" y="266.8" width="2.86" height="2.4" fill="#fff"/>
<rect x="377.58" y="266.8" width="2.4" height="2.4" fill="#fff"/>
<rect x="381.22" y="266.8" width="2.86" height="2.4" fill="#fff"/>
<rect x="434.58" y="266.8" width="2.4" height="2.4" fill="#fff"/>
<rect x="438.22" y="266.8" width="2.86" height="2.4" fill="#fff"/>
<rect x="506.83" y="266.8" width="2.4" height="2.4" fill="#fff"/>
<rect x="510.47" y="266.8" width="2.86" height="2.4" fill="#fff"/>
<rect x="29.58" y="344.5" width="2.4" height="2.4" fill="#fff"/>
<rect x="33.22" y="344.5" width="2.86" height="2.4" fill="#fff"/>
<rect x="153.07" y="344.5" width="2.4" height="2.4" fill="#fff"/>
<rect x="156.71" y="344.5" width="2.86" height="2.4" fill="#fff"/>
<rect x="10.99" y="526.3" width="2.4" height="2.4" fill="#fff"/>
<rect x="14.63" y="526.3" width="2.86" height="2.4" fill="#fff"/>
<rect x="22.46" y="623" width="2.4" height="2.4" fill="#fff"/>
<rect x="26.09" y="623" width="2.86" height="2.4" fill="#fff"/>
<rect x="80.96" y="623" width="2.4" height="2.4" fill="#fff"/>
<rect x="84.59" y="623" width="2.86" height="2.4" fill="#fff"/>
<rect x="87.08" y="623" width="2.4" height="2.4" fill="#fff"/>
<rect x="90.71" y="623" width="2.86" height="2.4" fill="#fff"/>
<rect x="139.38" y="623.5" width="2.4" height="2.4" fill="#fff"/>
<rect x="143.02" y="623.5" width="2.86" height="2.4" fill="#fff"/>
<rect x="182.18" y="623.4" width="2.4" height="2.4" fill="#fff"/>
<rect x="185.82" y="623.4" width="2.86" height="2.4" fill="#fff"/>
<rect x="309.78" y="623" width="2.4" height="2.4" fill="#fff"/>
<rect x="313.42" y="623" width="2.86" height="2.4" fill="#fff"/>
<rect x="357.23" y="623" width="2.4" height="2.4" fill="#fff"/>
<rect x="360.87" y="623" width="2.86" height="2.4" fill="#fff"/>
<rect x="401.58" y="622.8" width="2.4" height="2.4" fill="#fff"/>
<rect x="405.22" y="622.8" width="2.86" height="2.4" fill="#fff"/>
<rect x="449.58" y="623" width="2.4" height="2.4" fill="#fff"/>
<rect x="453.22" y="623" width="2.86" height="2.4" fill="#fff"/>
<rect x="490.33" y="623" width="2.4" height="2.4" fill="#fff"/>
<rect x="493.97" y="623" width="2.86" height="2.4" fill="#fff"/>
<rect x="22.43" y="712.8" width="2.4" height="2.4" fill="#fff"/>
<rect x="26.07" y="712.8" width="2.86" height="2.4" fill="#fff"/>
<rect x="144.65" y="713" width="2.4" height="2.4" fill="#fff"/>
<rect x="148.28" y="713" width="2.86" height="2.4" fill="#fff"/>
<text x="0.5" y="15.9" class="L" style="font-size:19.8px">A</text>
<text x="0.2" y="379.3" class="L">B</text>
<line x1="10" x2="10" y1="388.5" y2="414.7" stroke="#8aa8d0" stroke-width="0.8" stroke-opacity="1"/>
<line x1="6.5" x2="6.5" y1="437.7" y2="443.7" stroke="#a0a0a8" stroke-width="0.7" stroke-opacity="1"/>
<line x1="2.1" x2="2.1" y1="459.8" y2="470.5" stroke="#8aa8d0" stroke-width="0.8" stroke-opacity="1"/>
<line x1="5" x2="5" y1="499" y2="505" stroke="#a0a0a8" stroke-width="0.7" stroke-opacity="1"/>
<line x1="123.8" x2="123.8" y1="408.7" y2="418.7" stroke="#a0a8b8" stroke-width="0.7" stroke-opacity="1"/>
<line x1="165.4" x2="165.4" y1="414.4" y2="425.6" stroke="#8aa8d0" stroke-width="0.7" stroke-opacity="1"/>
<line x1="166.7" x2="166.7" y1="416" y2="424" stroke="#8aa8d0" stroke-width="0.6" stroke-opacity="1"/>
<rect x="166.2" y="463.7" width="2.4" height="6.3" fill="#c4c6e2"/>
<line x1="204.75" x2="204.75" y1="442.5" y2="449.4" stroke="#a0a0a8" stroke-width="0.7" stroke-opacity="1"/>
<line x1="207.5" x2="207.5" y1="481.25" y2="486.9" stroke="#a0a0a8" stroke-width="0.7" stroke-opacity="1"/>
<line x1="253.3" x2="253.3" y1="416.2" y2="435" stroke="#8aa8d0" stroke-width="0.7" stroke-opacity="1"/>
<line x1="299.3" x2="299.3" y1="419.91" y2="436.47" stroke="#94b3d9" stroke-width="0.8" stroke-opacity="0.62"/>
<line x1="300.05" x2="300.05" y1="420.07" y2="436.41" stroke="#94b3d9" stroke-width="0.8" stroke-opacity="0.83"/>
<line x1="300.8" x2="300.8" y1="419.97" y2="436.44" stroke="#94b3d9" stroke-width="0.8" stroke-opacity="0.84"/>
<line x1="301.55" x2="301.55" y1="419.97" y2="436.38" stroke="#94b3d9" stroke-width="0.8" stroke-opacity="0.81"/>
<line x1="302.3" x2="302.3" y1="420.05" y2="436.43" stroke="#94b3d9" stroke-width="0.8" stroke-opacity="0.61"/>
<line x1="303.05" x2="303.05" y1="419.84" y2="439.02" stroke="#94b3d9" stroke-width="0.8" stroke-opacity="0.62"/>
<line x1="303.8" x2="303.8" y1="420" y2="439.91" stroke="#94b3d9" stroke-width="0.8" stroke-opacity="0.57"/>
<line x1="304.55" x2="304.55" y1="420.04" y2="440" stroke="#94b3d9" stroke-width="0.8" stroke-opacity="0.9"/>
<line x1="305.3" x2="305.3" y1="420.05" y2="444.57" stroke="#94b3d9" stroke-width="0.8" stroke-opacity="0.84"/>
<line x1="306.05" x2="306.05" y1="420.02" y2="444.58" stroke="#94b3d9" stroke-width="0.8" stroke-opacity="0.82"/>
<line x1="306.8" x2="306.8" y1="419.84" y2="444.46" stroke="#94b3d9" stroke-width="0.8" stroke-opacity="0.83"/>
<line x1="336" x2="336" y1="424" y2="445" stroke="#8aa8d0" stroke-width="0.8" stroke-opacity="1"/>
<line x1="369.5" x2="369.5" y1="436" y2="440" stroke="#8aa8d0" stroke-width="0.6" stroke-opacity="1"/>
<line x1="405.6" x2="405.6" y1="435.6" y2="446" stroke="#8aabd6" stroke-width="0.55" stroke-opacity="1"/>
<line x1="406.8" x2="406.8" y1="435.6" y2="448" stroke="#8aabd6" stroke-width="0.55" stroke-opacity="1"/>
<line x1="407.9" x2="407.9" y1="435.6" y2="450" stroke="#8aabd6" stroke-width="0.55" stroke-opacity="1"/>
<line x1="409" x2="409" y1="435.6" y2="451.5" stroke="#8aabd6" stroke-width="0.55" stroke-opacity="1"/>
<line x1="410.1" x2="410.1" y1="435.6" y2="452" stroke="#8aabd6" stroke-width="0.55" stroke-opacity="1"/>
<line x1="400.6" x2="400.6" y1="485.3" y2="498.7" stroke="#8aabd6" stroke-width="0.55" stroke-opacity="1"/>
<line x1="401.73" x2="401.73" y1="482.96" y2="498.7" stroke="#8aabd6" stroke-width="0.55" stroke-opacity="1"/>
<line x1="402.85" x2="402.85" y1="480.61" y2="498.7" stroke="#8aabd6" stroke-width="0.55" stroke-opacity="1"/>
<line x1="403.98" x2="403.98" y1="478.11" y2="498.7" stroke="#8aabd6" stroke-width="0.55" stroke-opacity="1"/>
<line x1="405.1" x2="405.1" y1="475.49" y2="498.7" stroke="#8aabd6" stroke-width="0.55" stroke-opacity="1"/>
<line x1="406.23" x2="406.23" y1="471.98" y2="498.7" stroke="#8aabd6" stroke-width="0.55" stroke-opacity="1"/>
<line x1="407.35" x2="407.35" y1="468.47" y2="498.7" stroke="#8aabd6" stroke-width="0.55" stroke-opacity="1"/>
<line x1="408.48" x2="408.48" y1="467.49" y2="498.7" stroke="#8aabd6" stroke-width="0.55" stroke-opacity="1"/>
<line x1="409.6" x2="409.6" y1="466.9" y2="498.7" stroke="#8aabd6" stroke-width="0.55" stroke-opacity="1"/>
<line x1="25.75" x2="25.75" y1="545.2" y2="554.9" stroke="#a4b2cc" stroke-width="1.2" stroke-opacity="1"/>
<line x1="73" x2="73" y1="579.6" y2="607.6" stroke="#a9bfdc" stroke-width="1.4" stroke-opacity="1"/>
<line x1="75.9" x2="75.9" y1="578.5" y2="607.6" stroke="#a9bfdc" stroke-width="1.4" stroke-opacity="1"/>
<line x1="78.8" x2="78.8" y1="578.5" y2="607.6" stroke="#a9bfdc" stroke-width="1.4" stroke-opacity="1"/>
<line x1="82.3" x2="82.3" y1="571.6" y2="607.3" stroke="#7d95b8" stroke-width="0.75" stroke-opacity="1"/>
<line x1="140.8" x2="140.8" y1="587" y2="606" stroke="#98a4bc" stroke-width="0.7" stroke-opacity="1"/>
<line x1="139.4" x2="139.4" y1="600" y2="606" stroke="#98a4bc" stroke-width="0.6" stroke-opacity="1"/>
<line x1="183.9" x2="183.9" y1="562.9" y2="606.6" stroke="#a9b8d8" stroke-width="1.4" stroke-opacity="1"/>
<line x1="444.3" x2="444.3" y1="574.6" y2="582.3" stroke="#86a8d8" stroke-width="0.75" stroke-opacity="1"/>
<line x1="446.06" x2="446.06" y1="574.6" y2="582.3" stroke="#86a8d8" stroke-width="0.75" stroke-opacity="1"/>
<line x1="447.82" x2="447.82" y1="574.6" y2="582.3" stroke="#86a8d8" stroke-width="0.75" stroke-opacity="1"/>
<line x1="449.58" x2="449.58" y1="574.6" y2="582.3" stroke="#86a8d8" stroke-width="0.75" stroke-opacity="1"/>
<line x1="451.34" x2="451.34" y1="574.6" y2="582.3" stroke="#86a8d8" stroke-width="0.75" stroke-opacity="1"/>
<line x1="453.1" x2="453.1" y1="574.6" y2="582.3" stroke="#86a8d8" stroke-width="0.75" stroke-opacity="1"/>
<line x1="493.1" x2="493.1" y1="583.8" y2="597.7" stroke="#86a8d8" stroke-width="0.8" stroke-opacity="1"/>
<line x1="490.5" x2="490.5" y1="573.8" y2="580.8" stroke="#a0a8b8" stroke-width="0.7" stroke-opacity="1"/>
<line x1="25" x2="25" y1="671.5" y2="679.2" stroke="#8aa8d0" stroke-width="0.8" stroke-opacity="1"/>
<line x1="80.2" x2="80.2" y1="691" y2="700.3" stroke="#94b3d9" stroke-width="0.75" stroke-opacity="1"/>
<line x1="81.3" x2="81.3" y1="689" y2="700.3" stroke="#94b3d9" stroke-width="0.75" stroke-opacity="1"/>
<line x1="82.4" x2="82.4" y1="687.5" y2="700.3" stroke="#94b3d9" stroke-width="0.75" stroke-opacity="1"/>
<line x1="83.5" x2="83.5" y1="686" y2="700.3" stroke="#94b3d9" stroke-width="0.75" stroke-opacity="1"/>
<line x1="200.9" x2="200.9" y1="689.2" y2="700.3" stroke="#8ca0c0" stroke-width="0.7" stroke-opacity="1"/>
<line x1="16.5" y1="387" x2="36.5" y2="367.7" stroke="#222" stroke-width="0.9"/>
<line x1="16.2" y1="417" x2="36.5" y2="495.3" stroke="#222" stroke-width="0.9"/>
<rect x="36.5" y="367.7" width="75.2" height="127.6" fill="#fff" stroke="#222" stroke-width="1.2"/>
<rect x="43" y="375.9" width="7.6" height="117.9" fill="#fff" stroke="#777" stroke-width="0.5"/>
<rect x="43" y="381.3" width="7.6" height="5.2" fill="#c9c9c9"/>
<rect x="43" y="391" width="7.6" height="3.4" fill="#c9c9c9"/>
<rect x="43" y="402.5" width="7.6" height="6.1" fill="#777"/>
<rect x="43" y="419" width="7.6" height="7.5" fill="#c9c9c9"/>
<rect x="43" y="434.8" width="7.6" height="4.9" fill="#c9c9c9"/>
<rect x="43" y="445" width="7.6" height="3.7" fill="#c9c9c9"/>
<rect x="43" y="461.8" width="7.6" height="6.2" fill="#c9c9c9"/>
<rect x="43" y="476" width="7.6" height="7" fill="#3c3c3c"/>
<line x1="64.2" x2="64.2" y1="375.7" y2="493.8" stroke="#e8b0b0" stroke-width="0.5" stroke-dasharray="1,1"/>
<line x1="72.8" x2="72.8" y1="375.7" y2="493.8" stroke="#e8b0b0" stroke-width="0.5" stroke-dasharray="1,1"/>
<line x1="81.1" x2="81.1" y1="375.7" y2="493.8" stroke="#c8c8c8" stroke-width="0.5" stroke-dasharray="1,1"/>
<line x1="91.3" x2="91.3" y1="375.7" y2="493.8" stroke="#c8c8c8" stroke-width="0.5" stroke-dasharray="1,1"/>
<line x1="100.1" x2="100.1" y1="375.7" y2="493.8" stroke="#c8c8c8" stroke-width="0.5" stroke-dasharray="1,1"/>
<line x1="108.1" x2="108.1" y1="375.7" y2="493.8" stroke="#c8c8c8" stroke-width="0.5" stroke-dasharray="1,1"/>
<text x="64.2" y="373.7" text-anchor="middle" class="s">0</text>
<text x="72.8" y="373.7" text-anchor="middle" class="s">1</text>
<text x="81.1" y="373.7" text-anchor="middle" class="s">2</text>
<text x="91.3" y="373.7" text-anchor="middle" class="s">0</text>
<text x="100.1" y="373.7" text-anchor="middle" class="s">2</text>
<text x="108.1" y="373.7" text-anchor="middle" class="s">4</text>
<polyline points="68.43,376.5 69.15,377.2 69.06,377.9 68.56,378.6 68.8,379.3 68.75,380 68.95,380.7 69.09,381.4 68.39,382.1 68.33,382.8 69.14,383.5 68.73,384.2 69.06,384.9 68.3,385.6 68.75,386.3 69.02,387 68.53,387.7 69.25,388.4 69.2,389.1 68.33,389.8 68.33,390.5 68.84,391.2 69.24,391.9 68.68,392.6 68.52,393.3 68.72,394 68.33,394.7 68.52,395.4 68.74,396.1 68.8,396.8 68.53,397.5 68.53,398.2 68.52,398.9 68.76,399.6 68.59,400.3 68.32,401 69.14,401.7 68.86,402.4 68.94,403.1 68.49,403.8 69.29,404.5 69.16,405.2 68.42,405.9 68.63,406.6 69.02,407.3 69.01,408 69.24,408.7 68.72,409.4 69.13,410.1 68.97,410.8 68.6,411.5 68.89,412.2 69.18,412.9 69.15,413.6 68.81,414.3 68.89,415 68.33,415.7 68.54,416.4 69.1,417.1 68.71,417.8 68.47,418.5 68.85,419.2 69,419.9 68.97,420.6 68.67,421.3 68.74,422 68.81,422.7 69.08,423.4 68.82,424.1 68.69,424.8 68.79,425.5 68.33,426.2 68.34,426.9 69,427.6 69.28,428.3 68.89,429 68.69,429.7 68.47,430.4 68.8,431.1 69.28,431.8 69.07,432.5 68.84,433.2 69.16,433.9 68.53,434.6 68.81,435.3 69.25,436 68.88,436.7 68.76,437.4 68.57,438.1 68.85,438.8 69.26,439.5 68.31,440.2 69.08,440.9 69.12,441.6 69.19,442.3 69.04,443 69.11,443.7 68.82,444.4 68.86,445.1 68.73,445.8 68.36,446.5 69.17,447.2 68.87,447.9 68.5,448.6 68.8,449.3 68.78,450 68.66,450.7 68.65,451.4 68.84,452.1 68.92,452.8 68.91,453.5 68.76,454.2 68.33,454.9 68.53,455.6 68.48,456.3 68.88,457 69.16,457.7 69.1,458.4 69.1,459.1 69.12,459.8 68.56,460.5 69.14,461.2 68.97,461.9 68.38,462.6 68.32,463.3 68.31,464 69.06,464.7 68.55,465.4 68.41,466.1 68.92,466.8 68.64,467.5 68.37,468.2 68.46,468.9 68.83,469.6 68.47,470.3 68.57,471 69.01,471.7 68.75,472.4 68.62,473.1 68.77,473.8 68.32,474.5 68.69,475.2 68.72,475.9 68.49,476.6 68.41,477.3 69.2,478 68.81,478.7 68.51,479.4 68.91,480.1 69.12,480.8 68.32,481.5 68.32,482.2 68.45,482.9 69.02,483.6 68.46,484.3 69,485 68.98,485.7 68.84,486.4 68.52,487.1 69.28,487.8 69.1,488.5" fill="none" stroke="#3a8a5a" stroke-width="0.9"/>
<polyline points="78.02,376.5 78.01,377.2 76.4,377.9 76.45,378.6 77.8,379.3 77.62,380 77.51,380.7 76.85,381.4 77.39,382.1 77.39,382.8 77.35,383.5 76.59,384.2 77.08,384.9 77.01,385.6 77.6,386.3 78.09,387 78.01,387.7 77.28,388.4 77.1,389.1 76.78,389.8 76.36,390.5 76.35,391.2 77.14,391.9 76.87,392.6 76.98,393.3 77.91,394 77.25,394.7 77.31,395.4 76.73,396.1 76.34,396.8 76.89,397.5 76.55,398.2 77.22,398.9 78.1,399.6 77.51,400.3 76.63,401 77.91,401.7 77.73,402.4 77.62,403.1 77.93,403.8 77.67,404.5 77.72,405.2 76.94,405.9 78.07,406.6 78.03,407.3 76.59,408 77.66,408.7 77.59,409.4 77.13,410.1 77.25,410.8 77.18,411.5 77.96,412.2 77.2,412.9 77.8,413.6 76.94,414.3 77.89,415 77.92,415.7 77.13,416.4 77.32,417.1 77.96,417.8 77.6,418.5 77.18,419.2 76.7,419.9 76.88,420.6 77.56,421.3 76.6,422 77.93,422.7 76.78,423.4 77.94,424.1 76.86,424.8 78.02,425.5 77.57,426.2 77.21,426.9 77.23,427.6 77.47,428.3 77.36,429 76.86,429.7 76.67,430.4 77.22,431.1 77.98,431.8 77.42,432.5 76.44,433.2 77.78,433.9 77.61,434.6 77.93,435.3 76.64,436 77.64,436.7 76.41,437.4 77.48,438.1 76.79,438.8 76.71,439.5 77.88,440.2 76.49,440.9 77.24,441.6 77.84,442.3 76.74,443 76.68,443.7 77.89,444.4 77.06,445.1 77.59,445.8 76.36,446.5 76.95,447.2 76.61,447.9 77.51,448.6 76.45,449.3 78.02,450 76.35,450.7 77.61,451.4 76.34,452.1 76.76,452.8 77.76,453.5 76.58,454.2 76.63,454.9 77.54,455.6 76.99,456.3 76.38,457 78.08,457.7 76.57,458.4 76.37,459.1 76.92,459.8 77.41,460.5 77.64,461.2 76.5,461.9 76.91,462.6 76.36,463.3 77.11,464 77.68,464.7 77.63,465.4 77.92,466.1 77.66,466.8 77.85,467.5 77.57,468.2 77.15,468.9 76.71,469.6 77.49,470.3 76.87,471 76.48,471.7 77.11,472.4 77.87,473.1 76.53,473.8 77.35,474.5 77.01,475.2 77.23,475.9 76.56,476.6 78.03,477.3 76.77,478 77.39,478.7 77.06,479.4 76.33,480.1 77.3,480.8 76.55,481.5 76.4,482.2 76.36,482.9 76.59,483.6 76.47,484.3 77.44,485 77.21,485.7 78.07,486.4 77.98,487.1 78.09,487.8 76.72,488.5" fill="none" stroke="#d8506a" stroke-width="0.9"/>
<polyline points="100.16,376.5 100.44,377.2 100.28,377.9 100.49,378.6 100.51,379.3 100.01,380 99.96,380.7 100.7,381.4 100.18,382.1 100.16,382.8 100.85,383.5 100.37,384.2 100.7,384.9 100.38,385.6 100.53,386.3 100.09,387 100.52,387.7 100.73,388.4 100.42,389.1 100.62,389.8 100.55,390.5 100.01,391.2 100.63,391.9 100.48,392.6 100.22,393.3 99.98,394 100.73,394.7 100.38,395.4 100.6,396.1 100.74,396.8 100.59,397.5 100.78,398.2 100.31,398.9 100.67,399.6 100.35,400.3 100.79,401 100.74,401.7 100.04,402.4 100.07,403.1 100.15,403.8 100.82,404.5 100.34,405.2 100.51,405.9 100.22,406.6 100.41,407.3 100.3,408 100.27,408.7 100.48,409.4 100.48,410.1 100.76,410.8 100.56,411.5 100.79,412.2 100.72,412.9 100.84,413.6 100.55,414.3 100.1,415 100.72,415.7 100.82,416.4 100.76,417.1 100.46,417.8 100.59,418.5 100.14,419.2 100.7,419.9 100.47,420.6 100.21,421.3 100.01,422 100.72,422.7 100.84,423.4 100.03,424.1 100.67,424.8 100.32,425.5 100.09,426.2 100.21,426.9 100.64,427.6 100.74,428.3 99.99,429 100.5,429.7 99.99,430.4 100.6,431.1 100.25,431.8 100.74,432.5 100.83,433.2 100.4,433.9 100.85,434.6 100.23,435.3 100.02,436 100.49,436.7 99.98,437.4 100.13,438.1 100.32,438.8 100.5,439.5 100.09,440.2 99.99,440.9 100.73,441.6 100.23,442.3 100.81,443 100.76,443.7 100.29,444.4 100.36,445.1 100.42,445.8 100.53,446.5 100.49,447.2 100.45,447.9 100.51,448.6 100.8,449.3 100.41,450 100.34,450.7 100.6,451.4 100.16,452.1 100.22,452.8 100.83,453.5 100.42,454.2 100.44,454.9 99.96,455.6 100.32,456.3 100.47,457 99.97,457.7 100.5,458.4 100.52,459.1 100,459.8 100.51,460.5 100.37,461.2 100.56,461.9 100.27,462.6 100.59,463.3 100.61,464 99.97,464.7 100,465.4 100.56,466.1 100.82,466.8 100.18,467.5 100.36,468.2 100.48,468.9 100.24,469.6 100.28,470.3 100.23,471 100.28,471.7 100.49,472.4 100.22,473.1 100.29,473.8 100.65,474.5 99.97,475.2 100.46,475.9 100.61,476.6 100.23,477.3 100.15,478 100.67,478.7 100.16,479.4 100.12,480.1 100.34,480.8 100.58,481.5 100.04,482.2 100.24,482.9 100.25,483.6 100.7,484.3 100.34,485 100.72,485.7 100.1,486.4 100.25,487.1 100.54,487.8 100.75,488.5" fill="none" stroke="#1a1a1a" stroke-width="0.9"/>
<text x="51" y="483.6" class="t" textLength="11.3" lengthAdjust="spacingAndGlyphs">1p33</text>
<line x1="413.6" y1="435.3" x2="445.3" y2="370.9" stroke="#222" stroke-width="0.9"/>
<line x1="413.6" y1="456" x2="445.3" y2="499.4" stroke="#222" stroke-width="0.9"/>
<rect x="445.3" y="370.9" width="74.1" height="128.5" fill="#fff" stroke="#222" stroke-width="1.2"/>
<rect x="450" y="378.2" width="7.2" height="118.2" fill="#fff" stroke="#777" stroke-width="0.5"/>
<rect x="450" y="386" width="7.2" height="6.5" fill="#c9c9c9"/>
<rect x="450" y="406.8" width="7.2" height="15.5" fill="#555"/>
<rect x="450" y="431.4" width="7.2" height="5.2" fill="#c9c9c9"/>
<rect x="450" y="441.3" width="7.2" height="16.9" fill="#0d0d0d"/>
<rect x="450" y="467" width="7.2" height="15" fill="#0d0d0d"/>
<rect x="450" y="492.5" width="7.2" height="3.9" fill="#c9c9c9"/>
<line x1="471.5" x2="471.5" y1="378.9" y2="497.9" stroke="#e8b0b0" stroke-width="0.5" stroke-dasharray="1,1"/>
<line x1="479.8" x2="479.8" y1="378.9" y2="497.9" stroke="#e8b0b0" stroke-width="0.5" stroke-dasharray="1,1"/>
<line x1="487.6" x2="487.6" y1="378.9" y2="497.9" stroke="#c8c8c8" stroke-width="0.5" stroke-dasharray="1,1"/>
<line x1="500" x2="500" y1="378.9" y2="497.9" stroke="#c8c8c8" stroke-width="0.5" stroke-dasharray="1,1"/>
<line x1="507.2" x2="507.2" y1="378.9" y2="497.9" stroke="#c8c8c8" stroke-width="0.5" stroke-dasharray="1,1"/>
<line x1="514.9" x2="514.9" y1="378.9" y2="497.9" stroke="#c8c8c8" stroke-width="0.5" stroke-dasharray="1,1"/>
<text x="471.5" y="376.9" text-anchor="middle" class="s">0</text>
<text x="479.8" y="376.9" text-anchor="middle" class="s">1</text>
<text x="487.6" y="376.9" text-anchor="middle" class="s">2</text>
<text x="500" y="376.9" text-anchor="middle" class="s">0</text>
<text x="507.2" y="376.9" text-anchor="middle" class="s">2</text>
<text x="514.9" y="376.9" text-anchor="middle" class="s">4</text>
<polyline points="474.94,379.6 474.8,380.3 475.1,381 474.85,381.7 474.77,382.4 475.1,383.1 475.62,383.8 475.5,384.5 475.47,385.2 474.92,385.9 475.24,386.6 474.98,387.3 474.87,388 474.81,388.7 474.91,389.4 475.63,390.1 475.53,390.8 475.51,391.5 475.5,392.2 474.89,392.9 475.01,393.6 475.33,394.3 475.43,395 475.55,395.7 475.58,396.4 474.79,397.1 475.31,397.8 475.37,398.5 475.21,399.2 474.88,399.9 475.17,400.6 474.79,401.3 475.63,402 475.57,402.7 475.25,403.4 475,404.1 475.61,404.8 475.27,405.5 475.58,406.2 475.55,406.9 475.21,407.6 475.11,408.3 475.3,409 475.13,409.7 474.86,410.4 475.01,411.1 475.51,411.8 474.74,412.5 474.75,413.2 475.33,413.9 474.98,414.6 475.23,415.3 475.17,416 475.04,416.7 475.7,417.4 474.9,418.1 475.11,418.8 474.9,419.5 475.33,420.2 474.98,420.9 475.06,421.6 475.45,422.3 475.02,423 475.26,423.7 475.6,424.4 474.8,425.1 474.76,425.8 474.93,426.5 475.47,427.2 475.32,427.9 474.94,428.6 475.03,429.3 474.88,430 475.16,430.7 474.74,431.4 475.4,432.1 475.6,432.8 475.65,433.5 475.43,434.2 475.66,434.9 474.72,435.6 474.99,436.3 475.67,437 475.48,437.7 475.11,438.4 475.64,439.1 475.32,439.8 475.52,440.5 474.99,441.2 474.89,441.9 475.14,442.6 474.84,443.3 475.08,444 475.66,444.7 475.03,445.4 474.71,446.1 474.74,446.8 474.87,447.5 475.48,448.2 475.06,448.9 474.99,449.6 474.8,450.3 475.68,451 475.12,451.7 474.91,452.4 474.76,453.1 474.76,453.8 474.87,454.5 475.38,455.2 474.85,455.9 474.74,456.6 475.19,457.3 474.95,458 475.7,458.7 474.82,459.4 475.23,460.1 475.47,460.8 475.11,461.5 475.69,462.2 475.18,462.9 474.94,463.6 475.11,464.3 474.74,465 475.12,465.7 474.95,466.4 475.59,467.1 475.53,467.8 475.2,468.5 474.73,469.2 474.95,469.9 474.94,470.6 474.91,471.3 474.93,472 475.57,472.7 474.84,473.4 474.75,474.1 475.63,474.8 475.27,475.5 475.69,476.2 475.1,476.9 475.6,477.6 475.35,478.3 475.49,479 475.44,479.7 475.19,480.4 474.79,481.1 474.91,481.8 475.57,482.5 475.6,483.2 475.62,483.9 475.04,484.6 475.36,485.3 475.5,486 475.34,486.7 475.51,487.4 475.23,488.1 475.35,488.8 475.39,489.5 474.97,490.2 475.62,490.9 475.66,491.6 474.77,492.3 475.67,493 475.66,493.7 475.37,494.4 474.74,495.1 475.6,495.8 474.83,496.5" fill="none" stroke="#3a8a5a" stroke-width="0.9"/>
<polyline points="483.62,379.6 483.84,380.3 483.93,381 484.2,381.7 483.83,382.4 484.16,383.1 482.55,383.8 483.34,384.5 484.2,385.2 483.67,385.9 484.12,386.6 482.7,387.3 483.34,388 482.94,388.7 483.48,389.4 483.53,390.1 482.52,390.8 482.89,391.5 483,392.2 484.15,392.9 483.88,393.6 482.79,394.3 483.93,395 482.75,395.7 483.61,396.4 482.73,397.1 482.5,397.8 484.07,398.5 482.88,399.2 482.89,399.9 484.27,400.6 484.07,401.3 483.02,402 484.23,402.7 483.47,403.4 483.72,404.1 482.87,404.8 484.19,405.5 483.74,406.2 484.24,406.9 484.11,407.6 483.04,408.3 483.15,409 482.8,409.7 482.76,410.4 482.62,411.1 483.04,411.8 483.59,412.5 482.51,413.2 483.72,413.9 483.11,414.6 483.06,415.3 483.97,416 483.37,416.7 483.07,417.4 483.37,418.1 483.77,418.8 482.6,419.5 484.26,420.2 482.54,420.9 483.85,421.6 484.02,422.3 482.53,423 483.92,423.7 483.16,424.4 483.54,425.1 482.52,425.8 482.58,426.5 482.83,427.2 484.22,427.9 482.85,428.6 483.86,429.3 484.17,430 484.2,430.7 483.12,431.4 483.14,432.1 483.44,432.8 483.9,433.5 482.69,434.2 483.85,434.9 483.94,435.6 484.05,436.3 482.57,437 484.2,437.7 482.66,438.4 483.11,439.1 483.6,439.8 484.15,440.5 483.11,441.2 484.16,441.9 483.48,442.6 483.06,443.3 483.07,444 482.82,444.7 482.64,445.4 482.77,446.1 483.74,446.8 484.29,447.5 482.79,448.2 482.59,448.9 484.28,449.6 483.46,450.3 483.23,451 482.93,451.7 483.57,452.4 483.99,453.1 483.32,453.8 483.26,454.5 482.6,455.2 484.15,455.9 482.56,456.6 483.39,457.3 484.01,458 482.74,458.7 483.82,459.4 484.21,460.1 483.63,460.8 483.92,461.5 482.69,462.2 483.28,462.9 482.77,463.6 484.02,464.3 483.03,465 483.32,465.7 484.3,466.4 484.03,467.1 484.26,467.8 483.32,468.5 483.38,469.2 483.81,469.9 483.36,470.6 483.02,471.3 483.23,472 482.76,472.7 483.18,473.4 484.28,474.1 484.23,474.8 483.63,475.5 483.4,476.2 483.11,476.9 482.66,477.6 482.99,478.3 483.91,479 484.06,479.7 483.15,480.4 483.91,481.1 483.89,481.8 483.75,482.5 483.7,483.2 483.87,483.9 483.15,484.6 483.77,485.3 483.01,486 483.37,486.7 483.89,487.4 483.74,488.1 483.03,488.8 484.2,489.5 483.67,490.2 483.55,490.9 482.52,491.6 483.48,492.3 482.95,493 483.71,493.7 483.33,494.4 483.97,495.1 483.67,495.8 483.94,496.5" fill="none" stroke="#d8506a" stroke-width="0.9"/>
<polyline points="507.66,379.6 507.69,380.3 507.39,381 507.19,381.7 506.95,382.4 507.55,383.1 507.37,383.8 507.63,384.5 507.29,385.2 507.64,385.9 507.2,386.6 507.67,387.3 507.61,388 507.32,388.7 507.43,389.4 507.56,390.1 507.12,390.8 507.45,391.5 507.67,392.2 507.19,392.9 507.67,393.6 507.57,394.3 507.71,395 507.25,395.7 507.03,396.4 507.67,397.1 507.67,397.8 507.35,398.5 507.03,399.2 507.13,399.9 507.52,400.6 507.21,401.3 507.81,402 507.48,402.7 507.13,403.4 507.54,404.1 507.27,404.8 507.79,405.5 507.77,406.2 507.41,406.9 507.53,407.6 507.58,408.3 507.67,409 507.83,409.7 506.98,410.4 507.28,411.1 507.49,411.8 507.22,412.5 507.48,413.2 507.03,413.9 507.74,414.6 507.42,415.3 507.06,416 507.55,416.7 507.23,417.4 507.13,418.1 507.39,418.8 507.07,419.5 507.14,420.2 507.73,420.9 507.58,421.6 506.96,422.3 507.65,423 506.97,423.7 507.25,424.4 507.76,425.1 507.51,425.8 507.23,426.5 507.29,427.2 507.3,427.9 507.06,428.6 507.85,429.3 507,430 507.33,430.7 507.62,431.4 507.31,432.1 507.83,432.8 507.17,433.5 507.83,434.2 507.75,434.9 507.55,435.6 507.75,436.3 507.35,437 507.7,437.7 507.67,438.4 507.42,439.1 507.37,439.8 507.59,440.5 507.32,441.2 507.03,441.9 507.62,442.6 507.19,443.3 507.39,444 507.66,444.7 507.1,445.4 506.97,446.1 507.06,446.8 507.48,447.5 507.27,448.2 507.18,448.9 507.36,449.6 507.78,450.3 507.18,451 507.32,451.7 507.74,452.4 507.5,453.1 507.19,453.8 507.38,454.5 507.38,455.2 507.08,455.9 507.29,456.6 507.23,457.3 507.67,458 507.24,458.7 507.54,459.4 507.82,460.1 507.78,460.8 507.29,461.5 507.49,462.2 507.24,462.9 507.31,463.6 507.39,464.3 507.66,465 507.79,465.7 507.21,466.4 506.96,467.1 507.35,467.8 507,468.5 506.98,469.2 507.65,469.9 507.05,470.6 507.6,471.3 507.28,472 507.79,472.7 507.72,473.4 507.01,474.1 507.12,474.8 507.8,475.5 507.5,476.2 507.33,476.9 507.65,477.6 507.68,478.3 507.39,479 507.37,479.7 507.04,480.4 507.28,481.1 507.08,481.8 507.51,482.5 507.5,483.2 507.08,483.9 507.52,484.6 507.04,485.3 507.04,486 507.53,486.7 507.37,487.4 507.76,488.1 507.52,488.8 507.58,489.5 507.06,490.2 507.7,490.9 507.03,491.6 507.51,492.3 507.77,493 507.77,493.7 507.75,494.4 507.36,495.1 507.57,495.8 507.66,496.5" fill="none" stroke="#1a1a1a" stroke-width="0.9"/>
<text x="458" y="453.3" class="t" textLength="15.8" lengthAdjust="spacingAndGlyphs">9p21.3</text>
<line x1="189.2" y1="554.8" x2="208.4" y2="536.6" stroke="#222" stroke-width="0.9"/>
<line x1="190.6" y1="608" x2="208.4" y2="664.5" stroke="#222" stroke-width="0.9"/>
<rect x="208.4" y="536.6" width="73.4" height="127.9" fill="#fff" stroke="#222" stroke-width="1.2"/>
<rect x="213" y="539" width="6.2" height="124" fill="#fff" stroke="#777" stroke-width="0.5"/>
<rect x="213" y="538.9" width="6.2" height="4.2" fill="#e0202a"/>
<rect x="213" y="543.1" width="6.2" height="4.3" fill="#2a2aa8"/>
<rect x="213" y="547.4" width="6.2" height="6.9" fill="#e0202a"/>
<rect x="213" y="554.3" width="6.2" height="3.9" fill="#1a9148"/>
<rect x="213" y="563" width="6.2" height="1" fill="#c9c9c9"/>
<rect x="213" y="568" width="6.2" height="1" fill="#c9c9c9"/>
<rect x="213" y="572.8" width="6.2" height="1.5" fill="#8c8c8c"/>
<rect x="213" y="576.6" width="6.2" height="4.3" fill="#3c3c3c"/>
<rect x="213" y="589.7" width="6.2" height="3.1" fill="#8c8c8c"/>
<rect x="213" y="597.4" width="6.2" height="5" fill="#0d0d0d"/>
<rect x="213" y="605.5" width="6.2" height="3.4" fill="#555"/>
<rect x="213" y="612.2" width="6.2" height="4.4" fill="#0d0d0d"/>
<rect x="213" y="623.6" width="6.2" height="9.8" fill="#0d0d0d"/>
<rect x="213" y="634.7" width="6.2" height="6" fill="#0d0d0d"/>
<rect x="213" y="647.7" width="6.2" height="3.8" fill="#0d0d0d"/>
<rect x="213" y="653.6" width="6.2" height="3.6" fill="#0d0d0d"/>
<line x1="237.3" x2="237.3" y1="544.6" y2="663" stroke="#e8b0b0" stroke-width="0.5" stroke-dasharray="1,1"/>
<line x1="245.3" x2="245.3" y1="544.6" y2="663" stroke="#e8b0b0" stroke-width="0.5" stroke-dasharray="1,1"/>
<line x1="253.9" x2="253.9" y1="544.6" y2="663" stroke="#c8c8c8" stroke-width="0.5" stroke-dasharray="1,1"/>
<line x1="262.4" x2="262.4" y1="544.6" y2="663" stroke="#c8c8c8" stroke-width="0.5" stroke-dasharray="1,1"/>
<line x1="271.2" x2="271.2" y1="544.6" y2="663" stroke="#c8c8c8" stroke-width="0.5" stroke-dasharray="1,1"/>
<line x1="279.6" x2="279.6" y1="544.6" y2="663" stroke="#c8c8c8" stroke-width="0.5" stroke-dasharray="1,1"/>
<text x="237.3" y="542.6" text-anchor="middle" class="s">0</text>
<text x="245.3" y="542.6" text-anchor="middle" class="s">1</text>
<text x="253.9" y="542.6" text-anchor="middle" class="s">2</text>
<text x="262.4" y="542.6" text-anchor="middle" class="s">0</text>
<text x="271.2" y="542.6" text-anchor="middle" class="s">2</text>
<text x="279.6" y="542.6" text-anchor="middle" class="s">4</text>
<polyline points="241.02,559.7 240.85,560.4 241.35,561.1 240.77,561.8 241.24,562.5 241.07,563.2 240.76,563.9 241.21,564.6 240.74,565.3 241.13,566 240.77,566.7 240.79,567.4 241.12,568.1 241.53,568.8 240.82,569.5 240.92,570.2 241.33,570.9 241.65,571.6 241.28,572.3 241.1,573 241.68,573.7 240.75,574.4 241.56,575.1 240.99,575.8 240.84,576.5 240.82,577.2 241.01,577.9 241.52,578.6 240.88,579.3 241.28,580 241.34,580.7 241.07,581.4 241.25,582.1 240.76,582.8 240.76,583.5 240.91,584.2 241.38,584.9 241.13,585.6 241.01,586.3 241.29,587 241.15,587.7 241,588.4 241.49,589.1 241.4,589.8 240.94,590.5 241.27,591.2 241.23,591.9 241.58,592.6 241.43,593.3 240.99,594 241.68,594.7 240.82,595.4 241.12,596.1 241.46,596.8 240.85,597.5 241.19,598.2 240.74,598.9 241.37,599.6 241.46,600.3 241.27,601 241.58,601.7 241.01,602.4 241.4,603.1 241.29,603.8 241.28,604.5 241.16,605.2 241.54,605.9 241.64,606.6 241.17,607.3 241.36,608 240.76,608.7 241.4,609.4 241.35,610.1 241.69,610.8 241.52,611.5 240.98,612.2 241.09,612.9 241.37,613.6 240.72,614.3 241.16,615 240.87,615.7 240.82,616.4 240.76,617.1 241.47,617.8 240.83,618.5 240.95,619.2 241.09,619.9 241.57,620.6 240.78,621.3 241.15,622 241.25,622.7 241.58,623.4 241.52,624.1 241.56,624.8 240.98,625.5 241.12,626.2 241.06,626.9 241.58,627.6 241.66,628.3 240.85,629 240.88,629.7 240.93,630.4 240.93,631.1 241.18,631.8 241.29,632.5 240.96,633.2 240.7,633.9 241.12,634.6 241.07,635.3 241.27,636 241.65,636.7 241.39,637.4 241.22,638.1 241.32,638.8 241.38,639.5 240.75,640.2 241.6,640.9 241.48,641.6 241.57,642.3 241.5,643 241.09,643.7 241.1,644.4 240.8,645.1 241.33,645.8 240.76,646.5 240.77,647.2 240.91,647.9 240.86,648.6 241.04,649.3 240.75,650 240.7,650.7 240.85,651.4 240.8,652.1 241.06,652.8 240.73,653.5 241.57,654.2 241.31,654.9 240.85,655.6 240.95,656.3 241.05,657 241.06,657.7 240.82,658.4 241.55,659.1 241.69,659.8 241.17,660.5" fill="none" stroke="#3a8a5a" stroke-width="0.9"/>
<polyline points="248.31,559.7 249.63,560.4 248.13,561.1 249.17,561.8 248.05,562.5 248.35,563.2 249.7,563.9 248.28,564.6 249.06,565.3 248.73,566 248.72,566.7 248.79,567.4 248.25,568.1 249.39,568.8 248.06,569.5 248.32,570.2 247.94,570.9 248.38,571.6 248.63,572.3 249.52,573 248.58,573.7 248.1,574.4 248.37,575.1 249.68,575.8 248.01,576.5 249.02,577.2 248.58,577.9 249.09,578.6 248.51,579.3 249.14,580 248.8,580.7 249.07,581.4 249.52,582.1 248.95,582.8 248.16,583.5 248.02,584.2 249.6,584.9 248.78,585.6 248.25,586.3 249.6,587 248.94,587.7 249.21,588.4 249.49,589.1 248.41,589.8 248.54,590.5 249.48,591.2 248.14,591.9 249.28,592.6 248.08,593.3 249.14,594 249.16,594.7 249.61,595.4 249.42,596.1 248.81,596.8 248.26,597.5 248.17,598.2 248.85,598.9 248.82,599.6 248.03,600.3 249.53,601 248.81,601.7 249.16,602.4 248.3,603.1 248.34,603.8 247.92,604.5 248.52,605.2 248.38,605.9 248.66,606.6 248.58,607.3 249.4,608 249.5,608.7 248.22,609.4 248.61,610.1 248.2,610.8 249.09,611.5 249.65,612.2 248.26,612.9 249.28,613.6 248.44,614.3 247.92,615 249.28,615.7 248.52,616.4 248.21,617.1 248.68,617.8 248.32,618.5 248.64,619.2 248.7,619.9 248.65,620.6 248.96,621.3 248.42,622 248.07,622.7 248.05,623.4 248.09,624.1 248.84,624.8 248.55,625.5 249.35,626.2 248.81,626.9 249.17,627.6 249.66,628.3 248.01,629 247.93,629.7 248.15,630.4 248.6,631.1 248.93,631.8 249.24,632.5 248.53,633.2 249.64,633.9 247.91,634.6 249.4,635.3 248.28,636 249.48,636.7 247.96,637.4 249.64,638.1 249.27,638.8 249.68,639.5 248.94,640.2 248.22,640.9 249.65,641.6 248.69,642.3 248.05,643 248.99,643.7 248.79,644.4 248.75,645.1 248.18,645.8 248.12,646.5 248.95,647.2 248.71,647.9 248.13,648.6 248.69,649.3 249.21,650 249.19,650.7 248.75,651.4 248.61,652.1 248.55,652.8 248.31,653.5 248.26,654.2 248.7,654.9 248.09,655.6 249.21,656.3 249.17,657 249,657.7 247.94,658.4 248.56,659.1 248.68,659.8 248.07,660.5" fill="none" stroke="#d8506a" stroke-width="0.9"/>
<polyline points="271.17,559.7 271.09,560.4 270.87,561.1 271.53,561.8 270.76,562.5 271.2,563.2 271.56,563.9 270.82,564.6 271.25,565.3 271.3,566 270.79,566.7 271.09,567.4 271.38,568.1 271.16,568.8 271.4,569.5 270.89,570.2 270.96,570.9 270.85,571.6 271.21,572.3 271.58,573 271.28,573.7 271.45,574.4 271.1,575.1 271.42,575.8 270.84,576.5 271.01,577.2 271.36,577.9 271.4,578.6 271.13,579.3 270.83,580 270.99,580.7 270.94,581.4 271,582.1 271.48,582.8 270.93,583.5 271.55,584.2 271.54,584.9 270.8,585.6 271.09,586.3 271.19,587 270.77,587.7 271.13,588.4 271.57,589.1 270.85,589.8 271.29,590.5 270.86,591.2 271.27,591.9 271.56,592.6 270.93,593.3 270.76,594 270.83,594.7 271.24,595.4 270.77,596.1 270.83,596.8 271.2,597.5 271.58,598.2 271.13,598.9 271.11,599.6 271.32,600.3 270.83,601 271.27,601.7 270.91,602.4 271.3,603.1 271.61,603.8 270.8,604.5 271.25,605.2 271.3,605.9 270.88,606.6 270.99,607.3 271.65,608 271.65,608.7 270.86,609.4 271.38,610.1 271.61,610.8 270.96,611.5 271.3,612.2 270.79,612.9 271.08,613.6 271.36,614.3 271.28,615 271.45,615.7 270.83,616.4 271.06,617.1 271.53,617.8 271.28,618.5 271.16,619.2 271.11,619.9 271.64,620.6 271.27,621.3 270.77,622 271.47,622.7 271.05,623.4 271.14,624.1 270.94,624.8 271.15,625.5 271.04,626.2 270.83,626.9 271.32,627.6 270.84,628.3 271.46,629 270.77,629.7 271.45,630.4 271.48,631.1 271.2,631.8 271.39,632.5 270.97,633.2 271.41,633.9 271.13,634.6 270.96,635.3 271.62,636 271.11,636.7 271.09,637.4 271.52,638.1 271.08,638.8 271.35,639.5 270.9,640.2 271.51,640.9 270.98,641.6 270.8,642.3 271.63,643 270.91,643.7 271.6,644.4 271.64,645.1 271.3,645.8 270.76,646.5 270.8,647.2 270.94,647.9 271.1,648.6 271.3,649.3 271.62,650 271.07,650.7 270.88,651.4 271.26,652.1 270.87,652.8 270.83,653.5 271.25,654.2 271.38,654.9 270.81,655.6 271.16,656.3 271.38,657 271.44,657.7 271.09,658.4 271.55,659.1 270.9,659.8 271.39,660.5" fill="none" stroke="#1a1a1a" stroke-width="0.9"/>
<text x="219.9" y="580.9" class="t" textLength="18.6" lengthAdjust="spacingAndGlyphs">13q13.3</text>
<rect x="66.5" y="479.6" width="13" height="9" fill="#fff" fill-opacity="0.55"/>
<polyline points="68.7,487.8 72.5,487.8 72.5,492.6" fill="none" stroke="#777" stroke-width="0.7"/>
<line x1="97.5" x2="100.4" y1="484" y2="484" stroke="#888" stroke-width="0.6"/>
<line x1="475.2" x2="480.4" y1="447.5" y2="447.5" stroke="#c8a0a8" stroke-width="0.6"/>
<line x1="502" x2="504.8" y1="447.5" y2="447.5" stroke="#999" stroke-width="0.6"/>
<line x1="243.5" x2="247" y1="578" y2="578" stroke="#aaa" stroke-width="0.6"/>
<line x1="266.5" x2="269.5" y1="578" y2="578" stroke="#aaa" stroke-width="0.6"/>
</svg></body></html>
